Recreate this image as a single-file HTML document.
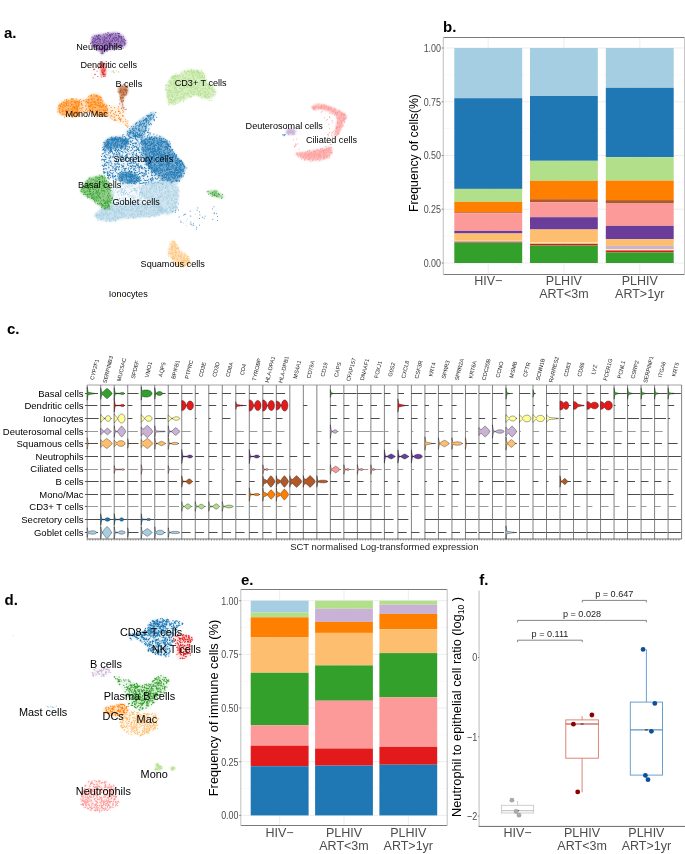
<!DOCTYPE html><html><head><meta charset="utf-8"><style>html,body{margin:0;padding:0;background:#fff;}svg{display:block;opacity:0.999;}text{font-family:"Liberation Sans",sans-serif;}</style></head><body>
<svg width="685" height="854" viewBox="0 0 685 854">
<defs><filter id="bl" x="-20%" y="-20%" width="140%" height="140%"><feGaussianBlur stdDeviation="0.9"/></filter></defs>
<rect width="685" height="854" fill="#fff"/>
<g>
<line x1="443.3" x2="684.6" y1="236.1" y2="236.1" stroke="#f3f3f3" stroke-width="0.6"/>
<line x1="443.3" x2="684.6" y1="182.4" y2="182.4" stroke="#f3f3f3" stroke-width="0.6"/>
<line x1="443.3" x2="684.6" y1="128.6" y2="128.6" stroke="#f3f3f3" stroke-width="0.6"/>
<line x1="443.3" x2="684.6" y1="74.9" y2="74.9" stroke="#f3f3f3" stroke-width="0.6"/>
<line x1="443.3" x2="684.6" y1="263.0" y2="263.0" stroke="#ebebeb" stroke-width="0.9"/>
<line x1="443.3" x2="684.6" y1="209.2" y2="209.2" stroke="#ebebeb" stroke-width="0.9"/>
<line x1="443.3" x2="684.6" y1="155.5" y2="155.5" stroke="#ebebeb" stroke-width="0.9"/>
<line x1="443.3" x2="684.6" y1="101.8" y2="101.8" stroke="#ebebeb" stroke-width="0.9"/>
<line x1="443.3" x2="684.6" y1="48.0" y2="48.0" stroke="#ebebeb" stroke-width="0.9"/>
<line x1="488.2" x2="488.2" y1="37.5" y2="274.5" stroke="#ebebeb" stroke-width="0.9"/>
<line x1="563.9" x2="563.9" y1="37.5" y2="274.5" stroke="#ebebeb" stroke-width="0.9"/>
<line x1="639.8" x2="639.8" y1="37.5" y2="274.5" stroke="#ebebeb" stroke-width="0.9"/>
<rect x="454.3" y="48" width="67.90" height="50.20" fill="#a6cee3"/>
<rect x="454.3" y="98.2" width="67.90" height="90.70" fill="#1f78b4"/>
<rect x="454.3" y="188.9" width="67.90" height="12.90" fill="#b2df8a"/>
<rect x="454.3" y="201.8" width="67.90" height="10.50" fill="#ff7f00"/>
<rect x="454.3" y="212.3" width="67.90" height="0.90" fill="#b15928"/>
<rect x="454.3" y="213.2" width="67.90" height="17.70" fill="#fb9a99"/>
<rect x="454.3" y="230.9" width="67.90" height="2.60" fill="#6a3d9a"/>
<rect x="454.3" y="233.5" width="67.90" height="6.90" fill="#fdbf6f"/>
<rect x="454.3" y="240.4" width="67.90" height="0.50" fill="#cab2d6"/>
<rect x="454.3" y="240.9" width="67.90" height="0.70" fill="#ffff99"/>
<rect x="454.3" y="241.6" width="67.90" height="1.00" fill="#e31a1c"/>
<rect x="454.3" y="242.6" width="67.90" height="20.40" fill="#33a02c"/>
<rect x="530" y="48" width="67.80" height="48.00" fill="#a6cee3"/>
<rect x="530" y="96" width="67.80" height="64.80" fill="#1f78b4"/>
<rect x="530" y="160.8" width="67.80" height="20.00" fill="#b2df8a"/>
<rect x="530" y="180.8" width="67.80" height="18.40" fill="#ff7f00"/>
<rect x="530" y="199.2" width="67.80" height="3.10" fill="#b15928"/>
<rect x="530" y="202.3" width="67.80" height="14.90" fill="#fb9a99"/>
<rect x="530" y="217.2" width="67.80" height="12.30" fill="#6a3d9a"/>
<rect x="530" y="229.5" width="67.80" height="13.00" fill="#fdbf6f"/>
<rect x="530" y="242.5" width="67.80" height="0.20" fill="#cab2d6"/>
<rect x="530" y="242.7" width="67.80" height="1.00" fill="#ffff99"/>
<rect x="530" y="243.7" width="67.80" height="1.70" fill="#e31a1c"/>
<rect x="530" y="245.4" width="67.80" height="17.60" fill="#33a02c"/>
<rect x="605.8" y="48" width="67.90" height="39.80" fill="#a6cee3"/>
<rect x="605.8" y="87.8" width="67.90" height="69.40" fill="#1f78b4"/>
<rect x="605.8" y="157.2" width="67.90" height="23.40" fill="#b2df8a"/>
<rect x="605.8" y="180.6" width="67.90" height="19.50" fill="#ff7f00"/>
<rect x="605.8" y="200.1" width="67.90" height="3.40" fill="#b15928"/>
<rect x="605.8" y="203.5" width="67.90" height="22.40" fill="#fb9a99"/>
<rect x="605.8" y="225.9" width="67.90" height="13.30" fill="#6a3d9a"/>
<rect x="605.8" y="239.2" width="67.90" height="6.70" fill="#fdbf6f"/>
<rect x="605.8" y="245.9" width="67.90" height="3.40" fill="#cab2d6"/>
<rect x="605.8" y="249.3" width="67.90" height="1.10" fill="#ffff99"/>
<rect x="605.8" y="250.4" width="67.90" height="2.00" fill="#e31a1c"/>
<rect x="605.8" y="252.4" width="67.90" height="10.60" fill="#33a02c"/>
<line x1="443.3" x2="684.6" y1="37.5" y2="37.5" stroke="#7a7a7a" stroke-width="1"/>
<line x1="443.3" x2="684.6" y1="274.5" y2="274.5" stroke="#7a7a7a" stroke-width="1"/>
<line x1="443.3" x2="443.3" y1="37.5" y2="274.5" stroke="#c4c4c4" stroke-width="1.1"/>
<line x1="684.6" x2="684.6" y1="37.5" y2="274.5" stroke="#c4c4c4" stroke-width="1.1"/>
<line x1="441.7" x2="443.3" y1="263.0" y2="263.0" stroke="#555" stroke-width="0.7"/>
<text x="0" y="0" font-size="9.4" text-anchor="end" fill="#4d4d4d" transform="translate(441.0 266.9) scale(0.95 1.2)">0.00</text>
<line x1="441.7" x2="443.3" y1="209.2" y2="209.2" stroke="#555" stroke-width="0.7"/>
<text x="0" y="0" font-size="9.4" text-anchor="end" fill="#4d4d4d" transform="translate(441.0 213.2) scale(0.95 1.2)">0.25</text>
<line x1="441.7" x2="443.3" y1="155.5" y2="155.5" stroke="#555" stroke-width="0.7"/>
<text x="0" y="0" font-size="9.4" text-anchor="end" fill="#4d4d4d" transform="translate(441.0 159.4) scale(0.95 1.2)">0.50</text>
<line x1="441.7" x2="443.3" y1="101.8" y2="101.8" stroke="#555" stroke-width="0.7"/>
<text x="0" y="0" font-size="9.4" text-anchor="end" fill="#4d4d4d" transform="translate(441.0 105.7) scale(0.95 1.2)">0.75</text>
<line x1="441.7" x2="443.3" y1="48.0" y2="48.0" stroke="#555" stroke-width="0.7"/>
<text x="0" y="0" font-size="9.4" text-anchor="end" fill="#4d4d4d" transform="translate(441.0 51.9) scale(0.95 1.2)">1.00</text>
<text x="488.2" y="284.8" font-size="12.5" text-anchor="middle" fill="#4d4d4d">HIV−</text>
<text x="563.9" y="284.8" font-size="12.5" text-anchor="middle" fill="#4d4d4d">PLHIV</text>
<text x="563.9" y="298.2" font-size="12.5" text-anchor="middle" fill="#4d4d4d">ART&lt;3m</text>
<text x="639.8" y="284.8" font-size="12.5" text-anchor="middle" fill="#4d4d4d">PLHIV</text>
<text x="639.8" y="298.2" font-size="12.5" text-anchor="middle" fill="#4d4d4d">ART&gt;1yr</text>
</g>
<text x="418.3" y="153" font-size="12.2" text-anchor="middle" fill="#000" transform="rotate(-90 418.3 153)">Frequency of cells(%)</text>
<text x="443" y="32" font-size="15" text-anchor="start" fill="#000" font-weight="bold">b.</text>
<g>
<line x1="240.8" x2="447.2" y1="788.6" y2="788.6" stroke="#f3f3f3" stroke-width="0.6"/>
<line x1="240.8" x2="447.2" y1="734.9" y2="734.9" stroke="#f3f3f3" stroke-width="0.6"/>
<line x1="240.8" x2="447.2" y1="681.2" y2="681.2" stroke="#f3f3f3" stroke-width="0.6"/>
<line x1="240.8" x2="447.2" y1="627.5" y2="627.5" stroke="#f3f3f3" stroke-width="0.6"/>
<line x1="240.8" x2="447.2" y1="815.4" y2="815.4" stroke="#ebebeb" stroke-width="0.9"/>
<line x1="240.8" x2="447.2" y1="761.7" y2="761.7" stroke="#ebebeb" stroke-width="0.9"/>
<line x1="240.8" x2="447.2" y1="708.0" y2="708.0" stroke="#ebebeb" stroke-width="0.9"/>
<line x1="240.8" x2="447.2" y1="654.4" y2="654.4" stroke="#ebebeb" stroke-width="0.9"/>
<line x1="240.8" x2="447.2" y1="600.7" y2="600.7" stroke="#ebebeb" stroke-width="0.9"/>
<line x1="279.6" x2="279.6" y1="589.5" y2="825.5" stroke="#ebebeb" stroke-width="0.9"/>
<line x1="344.0" x2="344.0" y1="589.5" y2="825.5" stroke="#ebebeb" stroke-width="0.9"/>
<line x1="408.3" x2="408.3" y1="589.5" y2="825.5" stroke="#ebebeb" stroke-width="0.9"/>
<rect x="250.7" y="600.7" width="57.90" height="11.70" fill="#a6cee3"/>
<rect x="250.7" y="612.4" width="57.90" height="4.90" fill="#b2df8a"/>
<rect x="250.7" y="617.3" width="57.90" height="20.20" fill="#ff7f00"/>
<rect x="250.7" y="637.5" width="57.90" height="35.30" fill="#fdbf6f"/>
<rect x="250.7" y="672.8" width="57.90" height="52.40" fill="#33a02c"/>
<rect x="250.7" y="725.2" width="57.90" height="20.50" fill="#fb9a99"/>
<rect x="250.7" y="745.7" width="57.90" height="20.50" fill="#e31a1c"/>
<rect x="250.7" y="766.2" width="57.90" height="49.20" fill="#1f78b4"/>
<rect x="315.1" y="600.7" width="57.80" height="8.00" fill="#b2df8a"/>
<rect x="315.1" y="608.7" width="57.80" height="13.20" fill="#cab2d6"/>
<rect x="315.1" y="621.9" width="57.80" height="11.00" fill="#ff7f00"/>
<rect x="315.1" y="632.9" width="57.80" height="32.50" fill="#fdbf6f"/>
<rect x="315.1" y="665.4" width="57.80" height="35.30" fill="#33a02c"/>
<rect x="315.1" y="700.7" width="57.80" height="47.80" fill="#fb9a99"/>
<rect x="315.1" y="748.5" width="57.80" height="17.10" fill="#e31a1c"/>
<rect x="315.1" y="765.6" width="57.80" height="49.80" fill="#1f78b4"/>
<rect x="379.4" y="600.7" width="57.80" height="4.00" fill="#b2df8a"/>
<rect x="379.4" y="604.7" width="57.80" height="9.20" fill="#cab2d6"/>
<rect x="379.4" y="613.9" width="57.80" height="15.30" fill="#ff7f00"/>
<rect x="379.4" y="629.2" width="57.80" height="23.90" fill="#fdbf6f"/>
<rect x="379.4" y="653.1" width="57.80" height="44.20" fill="#33a02c"/>
<rect x="379.4" y="697.3" width="57.80" height="49.60" fill="#fb9a99"/>
<rect x="379.4" y="746.9" width="57.80" height="17.80" fill="#e31a1c"/>
<rect x="379.4" y="764.7" width="57.80" height="50.70" fill="#1f78b4"/>
<line x1="240.8" x2="447.2" y1="589.5" y2="589.5" stroke="#7a7a7a" stroke-width="1"/>
<line x1="240.8" x2="447.2" y1="825.5" y2="825.5" stroke="#7a7a7a" stroke-width="1"/>
<line x1="240.8" x2="240.8" y1="589.5" y2="825.5" stroke="#c4c4c4" stroke-width="1.1"/>
<line x1="447.2" x2="447.2" y1="589.5" y2="825.5" stroke="#c4c4c4" stroke-width="1.1"/>
<line x1="239.20000000000002" x2="240.8" y1="815.4" y2="815.4" stroke="#555" stroke-width="0.7"/>
<text x="0" y="0" font-size="9.4" text-anchor="end" fill="#4d4d4d" transform="translate(238.5 819.3) scale(0.95 1.2)">0.00</text>
<line x1="239.20000000000002" x2="240.8" y1="761.7" y2="761.7" stroke="#555" stroke-width="0.7"/>
<text x="0" y="0" font-size="9.4" text-anchor="end" fill="#4d4d4d" transform="translate(238.5 765.6) scale(0.95 1.2)">0.25</text>
<line x1="239.20000000000002" x2="240.8" y1="708.0" y2="708.0" stroke="#555" stroke-width="0.7"/>
<text x="0" y="0" font-size="9.4" text-anchor="end" fill="#4d4d4d" transform="translate(238.5 711.9) scale(0.95 1.2)">0.50</text>
<line x1="239.20000000000002" x2="240.8" y1="654.4" y2="654.4" stroke="#555" stroke-width="0.7"/>
<text x="0" y="0" font-size="9.4" text-anchor="end" fill="#4d4d4d" transform="translate(238.5 658.3) scale(0.95 1.2)">0.75</text>
<line x1="239.20000000000002" x2="240.8" y1="600.7" y2="600.7" stroke="#555" stroke-width="0.7"/>
<text x="0" y="0" font-size="9.4" text-anchor="end" fill="#4d4d4d" transform="translate(238.5 604.6) scale(0.95 1.2)">1.00</text>
<text x="279.6" y="836.8" font-size="12.5" text-anchor="middle" fill="#4d4d4d">HIV−</text>
<text x="344.0" y="836.8" font-size="12.5" text-anchor="middle" fill="#4d4d4d">PLHIV</text>
<text x="344.0" y="850.2" font-size="12.5" text-anchor="middle" fill="#4d4d4d">ART&lt;3m</text>
<text x="408.3" y="836.8" font-size="12.5" text-anchor="middle" fill="#4d4d4d">PLHIV</text>
<text x="408.3" y="850.2" font-size="12.5" text-anchor="middle" fill="#4d4d4d">ART&gt;1yr</text>
</g>
<text x="217.7" y="708" font-size="12.8" text-anchor="middle" fill="#000" transform="rotate(-90 217.7 708)">Frequency of immune cells (%)</text>
<text x="241" y="584.5" font-size="15" text-anchor="start" fill="#000" font-weight="bold">e.</text>
<line x1="479.1" x2="479.1" y1="590.5" y2="826.4" stroke="#c2c2c2" stroke-width="1.1"/>
<line x1="478.6" x2="685" y1="826.4" y2="826.4" stroke="#6a6a6a" stroke-width="1"/>
<line x1="477.90000000000003" x2="479.1" y1="657.5" y2="657.5" stroke="#555" stroke-width="0.7"/>
<text x="0" y="0" font-size="9.5" text-anchor="end" fill="#4d4d4d" transform="translate(477.3 661.4) scale(0.95 1.2)">0</text>
<line x1="477.90000000000003" x2="479.1" y1="736.8" y2="736.8" stroke="#555" stroke-width="0.7"/>
<text x="0" y="0" font-size="9.5" text-anchor="end" fill="#4d4d4d" transform="translate(477.3 740.7) scale(0.95 1.2)">−1</text>
<line x1="477.90000000000003" x2="479.1" y1="816.1" y2="816.1" stroke="#555" stroke-width="0.7"/>
<text x="0" y="0" font-size="9.5" text-anchor="end" fill="#4d4d4d" transform="translate(477.3 820.0) scale(0.95 1.2)">−2</text>
<text x="517.6" y="836.9" font-size="12.5" text-anchor="middle" fill="#4d4d4d">HIV−</text>
<text x="582.1" y="836.9" font-size="12.5" text-anchor="middle" fill="#4d4d4d">PLHIV</text>
<text x="582.1" y="850.3" font-size="12.5" text-anchor="middle" fill="#4d4d4d">ART&lt;3m</text>
<text x="646.4" y="836.9" font-size="12.5" text-anchor="middle" fill="#4d4d4d">PLHIV</text>
<text x="646.4" y="850.3" font-size="12.5" text-anchor="middle" fill="#4d4d4d">ART&gt;1yr</text>
<line x1="517.6" x2="517.6" y1="801.0" y2="805.3" stroke="#c8c8c8" stroke-width="0.9"/>
<line x1="517.6" x2="517.6" y1="813.0" y2="813.0" stroke="#c8c8c8" stroke-width="0.9"/>
<rect x="501.4" y="805.3" width="32.2" height="7.7" fill="#fff" stroke="#c8c8c8" stroke-width="0.9"/>
<line x1="501.4" x2="533.6" y1="810.6" y2="810.6" stroke="#c8c8c8" stroke-width="1.4"/>
<line x1="516.1" x2="519.1" y1="810.6" y2="810.6" stroke="#222" stroke-width="0.9"/>
<line x1="582.1" x2="582.1" y1="716.2" y2="719.9" stroke="#d6776a" stroke-width="0.9"/>
<line x1="582.1" x2="582.1" y1="758.2" y2="792.3" stroke="#d6776a" stroke-width="0.9"/>
<rect x="565.8" y="719.9" width="32.6" height="38.3" fill="#fff" stroke="#d6776a" stroke-width="0.9"/>
<line x1="565.8" x2="598.4" y1="724.0" y2="724.0" stroke="#d6776a" stroke-width="1.4"/>
<line x1="580.6" x2="583.6" y1="724.0" y2="724.0" stroke="#222" stroke-width="0.9"/>
<line x1="646.4" x2="646.4" y1="649.4" y2="702.1" stroke="#5b95c8" stroke-width="0.9"/>
<line x1="646.4" x2="646.4" y1="775.1" y2="778.5" stroke="#5b95c8" stroke-width="0.9"/>
<rect x="630.3" y="702.1" width="32.2" height="73.0" fill="#fff" stroke="#5b95c8" stroke-width="0.9"/>
<line x1="630.3" x2="662.5" y1="729.9" y2="729.9" stroke="#5b95c8" stroke-width="1.4"/>
<line x1="644.9" x2="647.9" y1="729.9" y2="729.9" stroke="#222" stroke-width="0.9"/>
<circle cx="511.9" cy="800.2" r="2.4" fill="#a9a9a9"/>
<circle cx="516.2" cy="811.5" r="2.4" fill="#a9a9a9"/>
<circle cx="519.0" cy="815.2" r="2.4" fill="#a9a9a9"/>
<circle cx="573.4" cy="724.2" r="2.4" fill="#8b0000"/>
<circle cx="591.9" cy="715.0" r="2.4" fill="#8b0000"/>
<circle cx="577.7" cy="791.9" r="2.4" fill="#8b0000"/>
<circle cx="643.1" cy="649.4" r="2.4" fill="#0b4f9a"/>
<circle cx="654.8" cy="703.4" r="2.4" fill="#0b4f9a"/>
<circle cx="651.4" cy="731.3" r="2.4" fill="#0b4f9a"/>
<circle cx="645.4" cy="775.4" r="2.4" fill="#0b4f9a"/>
<circle cx="648.0" cy="779.7" r="2.4" fill="#0b4f9a"/>
<path d="M582.3 602.4V600.4H646.4V602.4" fill="none" stroke="#666" stroke-width="0.8"/>
<text x="614.3" y="597.4" font-size="9.1" text-anchor="middle" fill="#222">p = 0.647</text>
<path d="M517.6 622.4V620.4H646.4V622.4" fill="none" stroke="#666" stroke-width="0.8"/>
<text x="582.0" y="617.4" font-size="9.1" text-anchor="middle" fill="#222">p = 0.028</text>
<path d="M517.6 642.2V640.2H582.3V642.2" fill="none" stroke="#666" stroke-width="0.8"/>
<text x="550.0" y="637.2" font-size="9.1" text-anchor="middle" fill="#222">p = 0.111</text>
<text x="460.7" y="707" font-size="12.8" text-anchor="middle" fill="#000" transform="rotate(-90 460.7 707)">Neutrophil to epithelial cell ratio (log<tspan font-size="8.5" dy="3">10</tspan><tspan dy="-3"> )</tspan></text>
<text x="479.3" y="584.5" font-size="15" text-anchor="start" fill="#000" font-weight="bold">f.</text>
<text x="94.5" y="369.5" font-size="5.6" text-anchor="middle" dy="0.35em" fill="#222" transform="rotate(-76 94.5 369.5)">CYP2F1</text>
<text x="108.0" y="369.5" font-size="5.6" text-anchor="middle" dy="0.35em" fill="#222" transform="rotate(-76 108.0 369.5)">SERPINB3</text>
<text x="121.5" y="369.5" font-size="5.6" text-anchor="middle" dy="0.35em" fill="#222" transform="rotate(-76 121.5 369.5)">MUC5AC</text>
<text x="135.0" y="369.5" font-size="5.6" text-anchor="middle" dy="0.35em" fill="#222" transform="rotate(-76 135.0 369.5)">SPDEF</text>
<text x="148.5" y="369.5" font-size="5.6" text-anchor="middle" dy="0.35em" fill="#222" transform="rotate(-76 148.5 369.5)">VMO1</text>
<text x="162.0" y="369.5" font-size="5.6" text-anchor="middle" dy="0.35em" fill="#222" transform="rotate(-76 162.0 369.5)">AQP5</text>
<text x="175.5" y="369.5" font-size="5.6" text-anchor="middle" dy="0.35em" fill="#222" transform="rotate(-76 175.5 369.5)">BPIFB1</text>
<text x="189.0" y="369.5" font-size="5.6" text-anchor="middle" dy="0.35em" fill="#222" transform="rotate(-76 189.0 369.5)">PTPRC</text>
<text x="202.5" y="369.5" font-size="5.6" text-anchor="middle" dy="0.35em" fill="#222" transform="rotate(-76 202.5 369.5)">CD3E</text>
<text x="216.0" y="369.5" font-size="5.6" text-anchor="middle" dy="0.35em" fill="#222" transform="rotate(-76 216.0 369.5)">CD3D</text>
<text x="229.5" y="369.5" font-size="5.6" text-anchor="middle" dy="0.35em" fill="#222" transform="rotate(-76 229.5 369.5)">CD8A</text>
<text x="243.1" y="369.5" font-size="5.6" text-anchor="middle" dy="0.35em" fill="#222" transform="rotate(-76 243.1 369.5)">CD4</text>
<text x="256.6" y="369.5" font-size="5.6" text-anchor="middle" dy="0.35em" fill="#222" transform="rotate(-76 256.6 369.5)">TYROBP</text>
<text x="270.1" y="369.5" font-size="5.6" text-anchor="middle" dy="0.35em" fill="#222" transform="rotate(-76 270.1 369.5)">HLA-DPA1</text>
<text x="283.6" y="369.5" font-size="5.6" text-anchor="middle" dy="0.35em" fill="#222" transform="rotate(-76 283.6 369.5)">HLA-DPB1</text>
<text x="297.1" y="369.5" font-size="5.6" text-anchor="middle" dy="0.35em" fill="#222" transform="rotate(-76 297.1 369.5)">MS4A1</text>
<text x="310.6" y="369.5" font-size="5.6" text-anchor="middle" dy="0.35em" fill="#222" transform="rotate(-76 310.6 369.5)">CD79A</text>
<text x="324.1" y="369.5" font-size="5.6" text-anchor="middle" dy="0.35em" fill="#222" transform="rotate(-76 324.1 369.5)">CD19</text>
<text x="337.6" y="369.5" font-size="5.6" text-anchor="middle" dy="0.35em" fill="#222" transform="rotate(-76 337.6 369.5)">CAPS</text>
<text x="351.1" y="369.5" font-size="5.6" text-anchor="middle" dy="0.35em" fill="#222" transform="rotate(-76 351.1 369.5)">CFAP157</text>
<text x="364.6" y="369.5" font-size="5.6" text-anchor="middle" dy="0.35em" fill="#222" transform="rotate(-76 364.6 369.5)">DNAAF1</text>
<text x="378.1" y="369.5" font-size="5.6" text-anchor="middle" dy="0.35em" fill="#222" transform="rotate(-76 378.1 369.5)">FOXJ1</text>
<text x="391.7" y="369.5" font-size="5.6" text-anchor="middle" dy="0.35em" fill="#222" transform="rotate(-76 391.7 369.5)">G0S2</text>
<text x="405.2" y="369.5" font-size="5.6" text-anchor="middle" dy="0.35em" fill="#222" transform="rotate(-76 405.2 369.5)">CXCL8</text>
<text x="418.7" y="369.5" font-size="5.6" text-anchor="middle" dy="0.35em" fill="#222" transform="rotate(-76 418.7 369.5)">CSF3R</text>
<text x="432.2" y="369.5" font-size="5.6" text-anchor="middle" dy="0.35em" fill="#222" transform="rotate(-76 432.2 369.5)">KRT4</text>
<text x="445.7" y="369.5" font-size="5.6" text-anchor="middle" dy="0.35em" fill="#222" transform="rotate(-76 445.7 369.5)">SPRR3</text>
<text x="459.2" y="369.5" font-size="5.6" text-anchor="middle" dy="0.35em" fill="#222" transform="rotate(-76 459.2 369.5)">SPRR2A</text>
<text x="472.7" y="369.5" font-size="5.6" text-anchor="middle" dy="0.35em" fill="#222" transform="rotate(-76 472.7 369.5)">KRT6A</text>
<text x="486.2" y="369.5" font-size="5.6" text-anchor="middle" dy="0.35em" fill="#222" transform="rotate(-76 486.2 369.5)">CDC20B</text>
<text x="499.7" y="369.5" font-size="5.6" text-anchor="middle" dy="0.35em" fill="#222" transform="rotate(-76 499.7 369.5)">CCNO</text>
<text x="513.2" y="369.5" font-size="5.6" text-anchor="middle" dy="0.35em" fill="#222" transform="rotate(-76 513.2 369.5)">MSMB</text>
<text x="526.7" y="369.5" font-size="5.6" text-anchor="middle" dy="0.35em" fill="#222" transform="rotate(-76 526.7 369.5)">CFTR</text>
<text x="540.3" y="369.5" font-size="5.6" text-anchor="middle" dy="0.35em" fill="#222" transform="rotate(-76 540.3 369.5)">SCNN1B</text>
<text x="553.8" y="369.5" font-size="5.6" text-anchor="middle" dy="0.35em" fill="#222" transform="rotate(-76 553.8 369.5)">RARRES2</text>
<text x="567.3" y="369.5" font-size="5.6" text-anchor="middle" dy="0.35em" fill="#222" transform="rotate(-76 567.3 369.5)">CD83</text>
<text x="580.8" y="369.5" font-size="5.6" text-anchor="middle" dy="0.35em" fill="#222" transform="rotate(-76 580.8 369.5)">CD86</text>
<text x="594.3" y="369.5" font-size="5.6" text-anchor="middle" dy="0.35em" fill="#222" transform="rotate(-76 594.3 369.5)">LYZ</text>
<text x="607.8" y="369.5" font-size="5.6" text-anchor="middle" dy="0.35em" fill="#222" transform="rotate(-76 607.8 369.5)">FCER1G</text>
<text x="621.3" y="369.5" font-size="5.6" text-anchor="middle" dy="0.35em" fill="#222" transform="rotate(-76 621.3 369.5)">PCNL1</text>
<text x="634.8" y="369.5" font-size="5.6" text-anchor="middle" dy="0.35em" fill="#222" transform="rotate(-76 634.8 369.5)">CSRP2</text>
<text x="648.3" y="369.5" font-size="5.6" text-anchor="middle" dy="0.35em" fill="#222" transform="rotate(-76 648.3 369.5)">SERPINF1</text>
<text x="661.8" y="369.5" font-size="5.6" text-anchor="middle" dy="0.35em" fill="#222" transform="rotate(-76 661.8 369.5)">ITGA6</text>
<text x="675.3" y="369.5" font-size="5.6" text-anchor="middle" dy="0.35em" fill="#222" transform="rotate(-76 675.3 369.5)">KRT5</text>
<text x="83.6" y="396.5" font-size="9.5" text-anchor="end" fill="#000">Basal cells</text>
<text x="83.6" y="409.2" font-size="9.5" text-anchor="end" fill="#000">Dendritic cells</text>
<text x="83.6" y="421.8" font-size="9.5" text-anchor="end" fill="#000">Ionocytes</text>
<text x="83.6" y="434.5" font-size="9.5" text-anchor="end" fill="#000">Deuterosomal cells</text>
<text x="83.6" y="447.1" font-size="9.5" text-anchor="end" fill="#000">Squamous cells</text>
<text x="83.6" y="459.8" font-size="9.5" text-anchor="end" fill="#000">Neutrophils</text>
<text x="83.6" y="472.4" font-size="9.5" text-anchor="end" fill="#000">Ciliated cells</text>
<text x="83.6" y="485.1" font-size="9.5" text-anchor="end" fill="#000">B cells</text>
<text x="83.6" y="497.7" font-size="9.5" text-anchor="end" fill="#000">Mono/Mac</text>
<text x="83.6" y="510.4" font-size="9.5" text-anchor="end" fill="#000">CD3+ T cells</text>
<text x="83.6" y="523.0" font-size="9.5" text-anchor="end" fill="#000">Secretory cells</text>
<text x="83.6" y="535.7" font-size="9.5" text-anchor="end" fill="#000">Goblet cells</text>
<path d="M84.9 393.5H87.2M84.9 405.5H87.2M84.9 418.5H87.2M84.9 431.5H87.2M84.9 443.5H87.2M84.9 456.5H87.2M84.9 469.5H87.2M84.9 481.5H87.2M84.9 494.5H87.2M84.9 506.5H87.2M84.9 519.5H87.2M84.9 532.5H87.2" stroke="#333" stroke-width="0.8"/>
<line x1="87.2" x2="681.6" y1="385.0" y2="385.0" stroke="#8a8a8a" stroke-width="0.8"/>
<line x1="87.20" x2="87.20" y1="385.0" y2="539.0" stroke="#5a5a5a" stroke-width="0.75"/>
<line x1="100.71" x2="100.71" y1="385.0" y2="539.0" stroke="#5a5a5a" stroke-width="0.75"/>
<line x1="114.22" x2="114.22" y1="385.0" y2="539.0" stroke="#5a5a5a" stroke-width="0.75"/>
<line x1="127.73" x2="127.73" y1="385.0" y2="539.0" stroke="#5a5a5a" stroke-width="0.75"/>
<line x1="141.24" x2="141.24" y1="385.0" y2="539.0" stroke="#5a5a5a" stroke-width="0.75"/>
<line x1="154.75" x2="154.75" y1="385.0" y2="539.0" stroke="#5a5a5a" stroke-width="0.75"/>
<line x1="168.25" x2="168.25" y1="385.0" y2="539.0" stroke="#5a5a5a" stroke-width="0.75"/>
<line x1="181.76" x2="181.76" y1="385.0" y2="539.0" stroke="#5a5a5a" stroke-width="0.75"/>
<line x1="195.27" x2="195.27" y1="385.0" y2="539.0" stroke="#5a5a5a" stroke-width="0.75"/>
<line x1="208.78" x2="208.78" y1="385.0" y2="539.0" stroke="#5a5a5a" stroke-width="0.75"/>
<line x1="222.29" x2="222.29" y1="385.0" y2="539.0" stroke="#5a5a5a" stroke-width="0.75"/>
<line x1="235.80" x2="235.80" y1="385.0" y2="539.0" stroke="#5a5a5a" stroke-width="0.75"/>
<line x1="249.31" x2="249.31" y1="385.0" y2="539.0" stroke="#5a5a5a" stroke-width="0.75"/>
<line x1="262.82" x2="262.82" y1="385.0" y2="539.0" stroke="#5a5a5a" stroke-width="0.75"/>
<line x1="276.33" x2="276.33" y1="385.0" y2="539.0" stroke="#5a5a5a" stroke-width="0.75"/>
<line x1="289.83" x2="289.83" y1="385.0" y2="539.0" stroke="#5a5a5a" stroke-width="0.75"/>
<line x1="303.34" x2="303.34" y1="385.0" y2="539.0" stroke="#5a5a5a" stroke-width="0.75"/>
<line x1="316.85" x2="316.85" y1="385.0" y2="539.0" stroke="#5a5a5a" stroke-width="0.75"/>
<line x1="330.36" x2="330.36" y1="385.0" y2="539.0" stroke="#5a5a5a" stroke-width="0.75"/>
<line x1="343.87" x2="343.87" y1="385.0" y2="539.0" stroke="#5a5a5a" stroke-width="0.75"/>
<line x1="357.38" x2="357.38" y1="385.0" y2="539.0" stroke="#5a5a5a" stroke-width="0.75"/>
<line x1="370.89" x2="370.89" y1="385.0" y2="539.0" stroke="#5a5a5a" stroke-width="0.75"/>
<line x1="384.40" x2="384.40" y1="385.0" y2="539.0" stroke="#5a5a5a" stroke-width="0.75"/>
<line x1="397.91" x2="397.91" y1="385.0" y2="539.0" stroke="#5a5a5a" stroke-width="0.75"/>
<line x1="411.42" x2="411.42" y1="385.0" y2="539.0" stroke="#5a5a5a" stroke-width="0.75"/>
<line x1="424.93" x2="424.93" y1="385.0" y2="539.0" stroke="#5a5a5a" stroke-width="0.75"/>
<line x1="438.43" x2="438.43" y1="385.0" y2="539.0" stroke="#5a5a5a" stroke-width="0.75"/>
<line x1="451.94" x2="451.94" y1="385.0" y2="539.0" stroke="#5a5a5a" stroke-width="0.75"/>
<line x1="465.45" x2="465.45" y1="385.0" y2="539.0" stroke="#5a5a5a" stroke-width="0.75"/>
<line x1="478.96" x2="478.96" y1="385.0" y2="539.0" stroke="#5a5a5a" stroke-width="0.75"/>
<line x1="492.47" x2="492.47" y1="385.0" y2="539.0" stroke="#5a5a5a" stroke-width="0.75"/>
<line x1="505.98" x2="505.98" y1="385.0" y2="539.0" stroke="#5a5a5a" stroke-width="0.75"/>
<line x1="519.49" x2="519.49" y1="385.0" y2="539.0" stroke="#5a5a5a" stroke-width="0.75"/>
<line x1="533.00" x2="533.00" y1="385.0" y2="539.0" stroke="#5a5a5a" stroke-width="0.75"/>
<line x1="546.51" x2="546.51" y1="385.0" y2="539.0" stroke="#5a5a5a" stroke-width="0.75"/>
<line x1="560.01" x2="560.01" y1="385.0" y2="539.0" stroke="#5a5a5a" stroke-width="0.75"/>
<line x1="573.52" x2="573.52" y1="385.0" y2="539.0" stroke="#5a5a5a" stroke-width="0.75"/>
<line x1="587.03" x2="587.03" y1="385.0" y2="539.0" stroke="#5a5a5a" stroke-width="0.75"/>
<line x1="600.54" x2="600.54" y1="385.0" y2="539.0" stroke="#5a5a5a" stroke-width="0.75"/>
<line x1="614.05" x2="614.05" y1="385.0" y2="539.0" stroke="#5a5a5a" stroke-width="0.75"/>
<line x1="627.56" x2="627.56" y1="385.0" y2="539.0" stroke="#5a5a5a" stroke-width="0.75"/>
<line x1="641.07" x2="641.07" y1="385.0" y2="539.0" stroke="#5a5a5a" stroke-width="0.75"/>
<line x1="654.58" x2="654.58" y1="385.0" y2="539.0" stroke="#5a5a5a" stroke-width="0.75"/>
<line x1="668.09" x2="668.09" y1="385.0" y2="539.0" stroke="#5a5a5a" stroke-width="0.75"/>
<line x1="681.60" x2="681.60" y1="385.0" y2="539.0" stroke="#5a5a5a" stroke-width="0.75"/>
<line x1="87.2" x2="681.6" y1="539.0" y2="539.0" stroke="#444" stroke-width="0.8"/>
<path d="M87.2 539.0v1.8M89.9 539.0v1.8M92.6 539.0v1.8M95.3 539.0v1.8M98.0 539.0v1.8M100.7 539.0v1.8M103.4 539.0v1.8M106.1 539.0v1.8M108.8 539.0v1.8M111.5 539.0v1.8M114.2 539.0v1.8M116.9 539.0v1.8M119.6 539.0v1.8M122.3 539.0v1.8M125.0 539.0v1.8M127.7 539.0v1.8M130.4 539.0v1.8M133.1 539.0v1.8M135.8 539.0v1.8M138.5 539.0v1.8M141.2 539.0v1.8M143.9 539.0v1.8M146.6 539.0v1.8M149.3 539.0v1.8M152.0 539.0v1.8M154.7 539.0v1.8M157.4 539.0v1.8M160.1 539.0v1.8M162.9 539.0v1.8M165.6 539.0v1.8M168.3 539.0v1.8M171.0 539.0v1.8M173.7 539.0v1.8M176.4 539.0v1.8M179.1 539.0v1.8M181.8 539.0v1.8M184.5 539.0v1.8M187.2 539.0v1.8M189.9 539.0v1.8M192.6 539.0v1.8M195.3 539.0v1.8M198.0 539.0v1.8M200.7 539.0v1.8M203.4 539.0v1.8M206.1 539.0v1.8M208.8 539.0v1.8M211.5 539.0v1.8M214.2 539.0v1.8M216.9 539.0v1.8M219.6 539.0v1.8M222.3 539.0v1.8M225.0 539.0v1.8M227.7 539.0v1.8M230.4 539.0v1.8M233.1 539.0v1.8M235.8 539.0v1.8M238.5 539.0v1.8M241.2 539.0v1.8M243.9 539.0v1.8M246.6 539.0v1.8M249.3 539.0v1.8M252.0 539.0v1.8M254.7 539.0v1.8M257.4 539.0v1.8M260.1 539.0v1.8M262.8 539.0v1.8M265.5 539.0v1.8M268.2 539.0v1.8M270.9 539.0v1.8M273.6 539.0v1.8M276.3 539.0v1.8M279.0 539.0v1.8M281.7 539.0v1.8M284.4 539.0v1.8M287.1 539.0v1.8M289.8 539.0v1.8M292.5 539.0v1.8M295.2 539.0v1.8M297.9 539.0v1.8M300.6 539.0v1.8M303.3 539.0v1.8M306.0 539.0v1.8M308.7 539.0v1.8M311.4 539.0v1.8M314.2 539.0v1.8M316.9 539.0v1.8M319.6 539.0v1.8M322.3 539.0v1.8M325.0 539.0v1.8M327.7 539.0v1.8M330.4 539.0v1.8M333.1 539.0v1.8M335.8 539.0v1.8M338.5 539.0v1.8M341.2 539.0v1.8M343.9 539.0v1.8M346.6 539.0v1.8M349.3 539.0v1.8M352.0 539.0v1.8M354.7 539.0v1.8M357.4 539.0v1.8M360.1 539.0v1.8M362.8 539.0v1.8M365.5 539.0v1.8M368.2 539.0v1.8M370.9 539.0v1.8M373.6 539.0v1.8M376.3 539.0v1.8M379.0 539.0v1.8M381.7 539.0v1.8M384.4 539.0v1.8M387.1 539.0v1.8M389.8 539.0v1.8M392.5 539.0v1.8M395.2 539.0v1.8M397.9 539.0v1.8M400.6 539.0v1.8M403.3 539.0v1.8M406.0 539.0v1.8M408.7 539.0v1.8M411.4 539.0v1.8M414.1 539.0v1.8M416.8 539.0v1.8M419.5 539.0v1.8M422.2 539.0v1.8M424.9 539.0v1.8M427.6 539.0v1.8M430.3 539.0v1.8M433.0 539.0v1.8M435.7 539.0v1.8M438.4 539.0v1.8M441.1 539.0v1.8M443.8 539.0v1.8M446.5 539.0v1.8M449.2 539.0v1.8M451.9 539.0v1.8M454.6 539.0v1.8M457.3 539.0v1.8M460.0 539.0v1.8M462.8 539.0v1.8M465.5 539.0v1.8M468.2 539.0v1.8M470.9 539.0v1.8M473.6 539.0v1.8M476.3 539.0v1.8M479.0 539.0v1.8M481.7 539.0v1.8M484.4 539.0v1.8M487.1 539.0v1.8M489.8 539.0v1.8M492.5 539.0v1.8M495.2 539.0v1.8M497.9 539.0v1.8M500.6 539.0v1.8M503.3 539.0v1.8M506.0 539.0v1.8M508.7 539.0v1.8M511.4 539.0v1.8M514.1 539.0v1.8M516.8 539.0v1.8M519.5 539.0v1.8M522.2 539.0v1.8M524.9 539.0v1.8M527.6 539.0v1.8M530.3 539.0v1.8M533.0 539.0v1.8M535.7 539.0v1.8M538.4 539.0v1.8M541.1 539.0v1.8M543.8 539.0v1.8M546.5 539.0v1.8M549.2 539.0v1.8M551.9 539.0v1.8M554.6 539.0v1.8M557.3 539.0v1.8M560.0 539.0v1.8M562.7 539.0v1.8M565.4 539.0v1.8M568.1 539.0v1.8M570.8 539.0v1.8M573.5 539.0v1.8M576.2 539.0v1.8M578.9 539.0v1.8M581.6 539.0v1.8M584.3 539.0v1.8M587.0 539.0v1.8M589.7 539.0v1.8M592.4 539.0v1.8M595.1 539.0v1.8M597.8 539.0v1.8M600.5 539.0v1.8M603.2 539.0v1.8M605.9 539.0v1.8M608.6 539.0v1.8M611.3 539.0v1.8M614.1 539.0v1.8M616.8 539.0v1.8M619.5 539.0v1.8M622.2 539.0v1.8M624.9 539.0v1.8M627.6 539.0v1.8M630.3 539.0v1.8M633.0 539.0v1.8M635.7 539.0v1.8M638.4 539.0v1.8M641.1 539.0v1.8M643.8 539.0v1.8M646.5 539.0v1.8M649.2 539.0v1.8M651.9 539.0v1.8M654.6 539.0v1.8M657.3 539.0v1.8M660.0 539.0v1.8M662.7 539.0v1.8M665.4 539.0v1.8M668.1 539.0v1.8M670.8 539.0v1.8M673.5 539.0v1.8M676.2 539.0v1.8M678.9 539.0v1.8" stroke="#555" stroke-width="0.45"/>
<text x="384.3" y="549.5" font-size="9.47" text-anchor="middle" fill="#1a1a1a">SCT normalised Log-transformed expression</text>
<path d="M87.2 393.5h10.8M100.7 393.5h10.8M114.2 393.5h10.8M127.7 393.5h10.8M141.2 393.5h10.8M154.7 393.5h10.8M168.3 393.5h10.8M181.8 393.5h10.8M195.3 393.5h3.4M208.8 393.5h8.1M222.3 393.5h8.8M235.8 393.5h9.5M249.3 393.5h7.4M262.8 393.5h10.8M276.3 393.5h8.8M330.4 393.5h12.8M343.9 393.5h12.8M357.4 393.5h12.8M370.9 393.5h10.8M384.4 393.5h6.1M397.9 393.5h6.1M411.4 393.5h10.8M424.9 393.5h11.5M438.4 393.5h11.5M451.9 393.5h11.5M465.5 393.5h11.5M479.0 393.5h11.5M492.5 393.5h10.8M506.0 393.5h6.8M519.5 393.5h10.8M533.0 393.5h2.7M546.5 393.5h12.2M560.0 393.5h8.1M573.5 393.5h8.1M587.0 393.5h7.4M600.5 393.5h8.1M614.1 393.5h12.8M627.6 393.5h12.8M641.1 393.5h12.8M654.6 393.5h12.8M668.1 393.5h12.8" stroke="#383838" stroke-width="0.9" fill="none"/>
<path d="M87.20 386.84 L87.49 388.61 L87.77 390.24 L88.06 391.70 L88.34 392.23 L88.63 392.27 L88.91 392.32 L89.20 392.37 L89.49 392.42 L89.77 392.46 L90.06 392.51 L90.34 392.56 L90.63 392.61 L90.91 392.66 L91.20 392.72 L91.49 392.77 L91.77 392.82 L92.06 392.88 L92.34 392.93 L92.63 392.99 L92.92 393.05 L93.20 393.11 L93.49 393.17 L93.77 393.20 L94.06 393.20 L94.34 393.20 L94.63 393.35 L94.63 393.65 L94.34 393.80 L94.06 393.80 L93.77 393.80 L93.49 393.83 L93.20 393.89 L92.92 393.95 L92.63 394.01 L92.34 394.07 L92.06 394.12 L91.77 394.18 L91.49 394.23 L91.20 394.28 L90.91 394.34 L90.63 394.39 L90.34 394.44 L90.06 394.49 L89.77 394.54 L89.49 394.58 L89.20 394.63 L88.91 394.68 L88.63 394.73 L88.34 394.77 L88.06 395.30 L87.77 396.76 L87.49 398.39 L87.20 400.16Z" fill="#33a02c" stroke="#1a1a1a" stroke-width="0.4"/>
<path d="M100.71 387.79 L101.15 390.06 L101.58 391.46 L102.02 391.81 L102.45 392.15 L102.89 392.13 L103.33 391.62 L103.76 391.15 L104.20 390.71 L104.64 390.30 L105.07 389.90 L105.51 389.51 L105.95 389.14 L106.38 388.78 L106.82 388.43 L107.26 388.39 L107.69 388.75 L108.13 389.11 L108.57 389.48 L109.00 389.86 L109.44 390.26 L109.87 390.67 L110.31 391.11 L110.75 391.57 L111.18 392.08 L111.62 392.65 L112.06 393.35 L112.06 393.65 L111.62 394.35 L111.18 394.92 L110.75 395.43 L110.31 395.89 L109.87 396.33 L109.44 396.74 L109.00 397.14 L108.57 397.52 L108.13 397.89 L107.69 398.25 L107.26 398.61 L106.82 398.57 L106.38 398.22 L105.95 397.86 L105.51 397.49 L105.07 397.10 L104.64 396.70 L104.20 396.29 L103.76 395.85 L103.33 395.38 L102.89 394.87 L102.45 394.85 L102.02 395.19 L101.58 395.54 L101.15 396.94 L100.71 399.21Z" fill="#33a02c" stroke="#1a1a1a" stroke-width="0.4"/>
<path d="M114.22 387.79 L114.60 389.80 L114.99 391.59 L115.37 393.03 L115.76 393.20 L116.14 393.20 L116.52 393.20 L116.91 393.20 L117.29 393.20 L117.68 393.20 L118.06 393.20 L118.45 393.20 L118.83 393.20 L119.22 393.20 L119.60 393.20 L119.99 393.20 L120.37 393.01 L120.75 392.71 L121.14 392.54 L121.52 392.44 L121.91 392.39 L122.29 392.38 L122.68 392.41 L123.06 392.49 L123.45 392.62 L123.83 392.84 L124.21 393.35 L124.21 393.65 L123.83 394.16 L123.45 394.38 L123.06 394.51 L122.68 394.59 L122.29 394.62 L121.91 394.61 L121.52 394.56 L121.14 394.46 L120.75 394.29 L120.37 393.99 L119.99 393.80 L119.60 393.80 L119.22 393.80 L118.83 393.80 L118.45 393.80 L118.06 393.80 L117.68 393.80 L117.29 393.80 L116.91 393.80 L116.52 393.80 L116.14 393.80 L115.76 393.80 L115.37 393.97 L114.99 395.41 L114.60 397.20 L114.22 399.21Z" fill="#33a02c" stroke="#1a1a1a" stroke-width="0.4"/>
<path d="M141.24 386.84 L141.65 389.37 L142.07 390.87 L142.48 390.66 L142.90 390.48 L143.31 390.33 L143.73 390.21 L144.15 390.12 L144.56 390.04 L144.98 389.98 L145.39 389.94 L145.81 389.92 L146.22 389.92 L146.64 389.93 L147.06 389.96 L147.47 390.01 L147.89 390.08 L148.30 390.17 L148.72 390.28 L149.13 390.42 L149.55 390.58 L149.96 390.78 L150.38 391.01 L150.80 391.30 L151.21 391.67 L151.63 392.18 L152.04 393.35 L152.04 393.65 L151.63 394.82 L151.21 395.33 L150.80 395.70 L150.38 395.99 L149.96 396.22 L149.55 396.42 L149.13 396.58 L148.72 396.72 L148.30 396.83 L147.89 396.92 L147.47 396.99 L147.06 397.04 L146.64 397.07 L146.22 397.08 L145.81 397.08 L145.39 397.06 L144.98 397.02 L144.56 396.96 L144.15 396.88 L143.73 396.79 L143.31 396.67 L142.90 396.52 L142.48 396.34 L142.07 396.13 L141.65 397.63 L141.24 400.16Z" fill="#33a02c" stroke="#1a1a1a" stroke-width="0.4"/>
<path d="M154.75 387.79 L155.04 389.36 L155.34 390.80 L155.63 392.08 L155.93 393.13 L156.23 393.20 L156.52 393.20 L156.82 392.59 L157.11 392.27 L157.41 392.05 L157.71 391.88 L158.00 391.75 L158.30 391.65 L158.60 391.57 L158.89 391.52 L159.19 391.49 L159.48 391.48 L159.78 391.49 L160.08 391.53 L160.37 391.58 L160.67 391.65 L160.96 391.76 L161.26 391.89 L161.56 392.06 L161.85 392.29 L162.15 392.62 L162.45 393.35 L162.45 393.65 L162.15 394.38 L161.85 394.71 L161.56 394.94 L161.26 395.11 L160.96 395.24 L160.67 395.35 L160.37 395.42 L160.08 395.47 L159.78 395.51 L159.48 395.52 L159.19 395.51 L158.89 395.48 L158.60 395.43 L158.30 395.35 L158.00 395.25 L157.71 395.12 L157.41 394.95 L157.11 394.73 L156.82 394.41 L156.52 393.80 L156.23 393.80 L155.93 393.87 L155.63 394.92 L155.34 396.20 L155.04 397.64 L154.75 399.21Z" fill="#33a02c" stroke="#1a1a1a" stroke-width="0.4"/>
<path d="M330.36 389.69 L330.47 390.07 L330.57 390.44 L330.67 390.79 L330.78 391.14 L330.88 391.47 L330.99 391.80 L331.09 392.11 L331.19 392.40 L331.30 392.54 L331.40 392.59 L331.51 392.63 L331.61 392.68 L331.71 392.73 L331.82 392.78 L331.92 392.82 L332.02 392.87 L332.13 392.92 L332.23 392.98 L332.34 393.03 L332.44 393.08 L332.54 393.14 L332.65 393.20 L332.75 393.20 L332.86 393.20 L332.96 393.20 L333.06 393.35 L333.06 393.65 L332.96 393.80 L332.86 393.80 L332.75 393.80 L332.65 393.80 L332.54 393.86 L332.44 393.92 L332.34 393.97 L332.23 394.02 L332.13 394.08 L332.02 394.13 L331.92 394.18 L331.82 394.22 L331.71 394.27 L331.61 394.32 L331.51 394.37 L331.40 394.41 L331.30 394.46 L331.19 394.60 L331.09 394.89 L330.99 395.20 L330.88 395.53 L330.78 395.86 L330.67 396.21 L330.57 396.56 L330.47 396.93 L330.36 397.31Z" fill="#33a02c" stroke="#1a1a1a" stroke-width="0.4"/>
<path d="M505.98 387.79 L506.11 388.49 L506.24 389.17 L506.37 389.83 L506.50 390.46 L506.63 391.06 L506.76 391.63 L506.89 392.16 L507.02 392.65 L507.15 392.70 L507.28 392.74 L507.41 392.78 L507.54 392.82 L507.67 392.86 L507.80 392.90 L507.93 392.94 L508.06 392.98 L508.19 393.02 L508.32 393.06 L508.45 393.11 L508.58 393.15 L508.71 393.20 L508.84 393.20 L508.97 393.20 L509.10 393.20 L509.23 393.20 L509.36 393.35 L509.36 393.65 L509.23 393.80 L509.10 393.80 L508.97 393.80 L508.84 393.80 L508.71 393.80 L508.58 393.85 L508.45 393.89 L508.32 393.94 L508.19 393.98 L508.06 394.02 L507.93 394.06 L507.80 394.10 L507.67 394.14 L507.54 394.18 L507.41 394.22 L507.28 394.26 L507.15 394.30 L507.02 394.35 L506.89 394.84 L506.76 395.37 L506.63 395.94 L506.50 396.54 L506.37 397.17 L506.24 397.83 L506.11 398.51 L505.98 399.21Z" fill="#33a02c" stroke="#1a1a1a" stroke-width="0.4"/>
<path d="M533.00 389.69 L533.05 389.88 L533.10 390.07 L533.15 390.25 L533.20 390.44 L533.26 390.62 L533.31 390.79 L533.36 390.97 L533.41 391.14 L533.46 391.31 L533.52 391.47 L533.57 391.64 L533.62 391.80 L533.67 391.95 L533.72 392.11 L533.78 392.26 L533.83 392.40 L533.88 392.54 L533.93 392.68 L533.98 392.81 L534.04 392.93 L534.09 393.05 L534.14 393.17 L534.19 393.20 L534.24 393.20 L534.30 393.20 L534.35 393.35 L534.35 393.65 L534.30 393.80 L534.24 393.80 L534.19 393.80 L534.14 393.83 L534.09 393.95 L534.04 394.07 L533.98 394.19 L533.93 394.32 L533.88 394.46 L533.83 394.60 L533.78 394.74 L533.72 394.89 L533.67 395.05 L533.62 395.20 L533.57 395.36 L533.52 395.53 L533.46 395.69 L533.41 395.86 L533.36 396.03 L533.31 396.21 L533.26 396.38 L533.20 396.56 L533.15 396.75 L533.10 396.93 L533.05 397.12 L533.00 397.31Z" fill="#33a02c" stroke="#1a1a1a" stroke-width="0.4"/>
<path d="M614.05 387.79 L614.23 388.77 L614.41 389.70 L614.60 390.58 L614.78 391.41 L614.96 392.16 L615.14 392.32 L615.32 392.37 L615.51 392.42 L615.69 392.46 L615.87 392.51 L616.05 392.56 L616.23 392.61 L616.42 392.66 L616.60 392.72 L616.78 392.77 L616.96 392.82 L617.14 392.88 L617.32 392.93 L617.51 392.99 L617.69 393.05 L617.87 393.11 L618.05 393.17 L618.23 393.20 L618.42 393.20 L618.60 393.20 L618.78 393.35 L618.78 393.65 L618.60 393.80 L618.42 393.80 L618.23 393.80 L618.05 393.83 L617.87 393.89 L617.69 393.95 L617.51 394.01 L617.32 394.07 L617.14 394.12 L616.96 394.18 L616.78 394.23 L616.60 394.28 L616.42 394.34 L616.23 394.39 L616.05 394.44 L615.87 394.49 L615.69 394.54 L615.51 394.58 L615.32 394.63 L615.14 394.68 L614.96 394.84 L614.78 395.59 L614.60 396.42 L614.41 397.30 L614.23 398.23 L614.05 399.21Z" fill="#33a02c" stroke="#1a1a1a" stroke-width="0.4"/>
<path d="M627.56 387.79 L627.74 388.77 L627.92 389.70 L628.11 390.58 L628.29 391.41 L628.47 392.16 L628.65 392.32 L628.83 392.37 L629.01 392.42 L629.20 392.46 L629.38 392.51 L629.56 392.56 L629.74 392.61 L629.92 392.66 L630.11 392.72 L630.29 392.77 L630.47 392.82 L630.65 392.88 L630.83 392.93 L631.02 392.99 L631.20 393.05 L631.38 393.11 L631.56 393.17 L631.74 393.20 L631.92 393.20 L632.11 393.20 L632.29 393.35 L632.29 393.65 L632.11 393.80 L631.92 393.80 L631.74 393.80 L631.56 393.83 L631.38 393.89 L631.20 393.95 L631.02 394.01 L630.83 394.07 L630.65 394.12 L630.47 394.18 L630.29 394.23 L630.11 394.28 L629.92 394.34 L629.74 394.39 L629.56 394.44 L629.38 394.49 L629.20 394.54 L629.01 394.58 L628.83 394.63 L628.65 394.68 L628.47 394.84 L628.29 395.59 L628.11 396.42 L627.92 397.30 L627.74 398.23 L627.56 399.21Z" fill="#33a02c" stroke="#1a1a1a" stroke-width="0.4"/>
<path d="M641.07 387.79 L641.24 388.71 L641.41 389.60 L641.58 390.44 L641.75 391.23 L641.93 391.96 L642.10 392.41 L642.27 392.45 L642.44 392.50 L642.61 392.54 L642.78 392.59 L642.96 392.63 L643.13 392.68 L643.30 392.73 L643.47 392.78 L643.64 392.82 L643.81 392.87 L643.98 392.92 L644.16 392.98 L644.33 393.03 L644.50 393.08 L644.67 393.14 L644.84 393.20 L645.01 393.20 L645.18 393.20 L645.36 393.20 L645.53 393.35 L645.53 393.65 L645.36 393.80 L645.18 393.80 L645.01 393.80 L644.84 393.80 L644.67 393.86 L644.50 393.92 L644.33 393.97 L644.16 394.02 L643.98 394.08 L643.81 394.13 L643.64 394.18 L643.47 394.22 L643.30 394.27 L643.13 394.32 L642.96 394.37 L642.78 394.41 L642.61 394.46 L642.44 394.50 L642.27 394.55 L642.10 394.59 L641.93 395.04 L641.75 395.77 L641.58 396.56 L641.41 397.40 L641.24 398.29 L641.07 399.21Z" fill="#33a02c" stroke="#1a1a1a" stroke-width="0.4"/>
<path d="M654.58 387.79 L654.73 388.63 L654.89 389.44 L655.05 390.21 L655.20 390.95 L655.36 391.63 L655.51 392.27 L655.67 392.54 L655.82 392.58 L655.98 392.62 L656.14 392.66 L656.29 392.71 L656.45 392.75 L656.60 392.79 L656.76 392.84 L656.92 392.88 L657.07 392.93 L657.23 392.97 L657.38 393.02 L657.54 393.07 L657.70 393.12 L657.85 393.17 L658.01 393.20 L658.16 393.20 L658.32 393.20 L658.47 393.20 L658.63 393.35 L658.63 393.65 L658.47 393.80 L658.32 393.80 L658.16 393.80 L658.01 393.80 L657.85 393.83 L657.70 393.88 L657.54 393.93 L657.38 393.98 L657.23 394.03 L657.07 394.07 L656.92 394.12 L656.76 394.16 L656.60 394.21 L656.45 394.25 L656.29 394.29 L656.14 394.34 L655.98 394.38 L655.82 394.42 L655.67 394.46 L655.51 394.73 L655.36 395.37 L655.20 396.05 L655.05 396.79 L654.89 397.56 L654.73 398.37 L654.58 399.21Z" fill="#33a02c" stroke="#1a1a1a" stroke-width="0.4"/>
<path d="M668.09 387.79 L668.32 389.04 L668.55 390.21 L668.79 391.30 L669.02 392.27 L669.26 392.74 L669.49 392.77 L669.72 392.80 L669.96 392.83 L670.19 392.86 L670.43 392.89 L670.66 392.92 L670.89 392.95 L671.13 392.99 L671.36 393.02 L671.59 393.05 L671.83 393.08 L672.06 393.12 L672.30 393.15 L672.53 393.19 L672.76 393.20 L673.00 393.20 L673.23 393.20 L673.46 393.20 L673.70 393.20 L673.93 393.20 L674.17 393.35 L674.17 393.65 L673.93 393.80 L673.70 393.80 L673.46 393.80 L673.23 393.80 L673.00 393.80 L672.76 393.80 L672.53 393.81 L672.30 393.85 L672.06 393.88 L671.83 393.92 L671.59 393.95 L671.36 393.98 L671.13 394.01 L670.89 394.05 L670.66 394.08 L670.43 394.11 L670.19 394.14 L669.96 394.17 L669.72 394.20 L669.49 394.23 L669.26 394.26 L669.02 394.73 L668.79 395.70 L668.55 396.79 L668.32 397.96 L668.09 399.21Z" fill="#33a02c" stroke="#1a1a1a" stroke-width="0.4"/>
<path d="M87.2 405.5h10.1M100.7 405.5h9.1M114.2 405.5h10.8M127.7 405.5h4.7M141.2 405.5h10.1M154.7 405.5h7.4M168.3 405.5h8.8M181.8 405.5h10.8M195.3 405.5h6.1M208.8 405.5h7.4M222.3 405.5h4.7M235.8 405.5h10.8M249.3 405.5h10.8M262.8 405.5h10.8M276.3 405.5h10.8M303.3 405.5h4.1M330.4 405.5h6.1M343.9 405.5h5.4M357.4 405.5h5.4M370.9 405.5h6.1M384.4 405.5h6.1M397.9 405.5h10.8M411.4 405.5h6.1M424.9 405.5h4.1M438.4 405.5h4.1M451.9 405.5h4.7M506.0 405.5h4.1M533.0 405.5h2.0M546.5 405.5h2.0M560.0 405.5h10.8M573.5 405.5h10.8M587.0 405.5h10.8M600.5 405.5h10.8M614.1 405.5h1.4M627.6 405.5h1.4M641.1 405.5h4.7M654.6 405.5h5.4M668.1 405.5h6.1" stroke="#383838" stroke-width="0.9" fill="none"/>
<path d="M114.22 398.84 L114.61 401.22 L115.00 403.32 L115.39 405.01 L115.78 405.20 L116.17 405.20 L116.56 405.20 L116.95 405.20 L117.34 405.20 L117.73 405.20 L118.11 405.20 L118.50 405.20 L118.89 405.20 L119.28 405.20 L119.67 405.20 L120.06 405.20 L120.45 405.07 L120.84 404.74 L121.23 404.56 L121.62 404.45 L122.01 404.39 L122.40 404.38 L122.79 404.41 L123.18 404.49 L123.57 404.62 L123.96 404.84 L124.35 405.35 L124.35 405.65 L123.96 406.16 L123.57 406.38 L123.18 406.51 L122.79 406.59 L122.40 406.62 L122.01 406.61 L121.62 406.55 L121.23 406.44 L120.84 406.26 L120.45 405.93 L120.06 405.80 L119.67 405.80 L119.28 405.80 L118.89 405.80 L118.50 405.80 L118.11 405.80 L117.73 405.80 L117.34 405.80 L116.95 405.80 L116.56 405.80 L116.17 405.80 L115.78 405.80 L115.39 405.99 L115.00 407.68 L114.61 409.78 L114.22 412.16Z" fill="#e31a1c" stroke="#1a1a1a" stroke-width="0.4"/>
<path d="M181.76 400.46 L182.22 400.48 L182.67 400.56 L183.12 400.70 L183.57 400.92 L184.02 401.23 L184.48 401.64 L184.93 402.19 L185.38 402.93 L185.83 404.05 L186.28 405.20 L186.74 405.20 L187.19 403.32 L187.64 402.49 L188.09 401.94 L188.54 401.55 L189.00 401.28 L189.45 401.11 L189.90 401.03 L190.35 401.03 L190.80 401.11 L191.26 401.27 L191.71 401.53 L192.16 401.91 L192.61 402.45 L193.06 403.26 L193.52 405.35 L193.52 405.65 L193.06 407.74 L192.61 408.55 L192.16 409.09 L191.71 409.47 L191.26 409.73 L190.80 409.89 L190.35 409.97 L189.90 409.97 L189.45 409.89 L189.00 409.72 L188.54 409.45 L188.09 409.06 L187.64 408.51 L187.19 407.68 L186.74 405.80 L186.28 405.80 L185.83 406.95 L185.38 408.07 L184.93 408.81 L184.48 409.36 L184.02 409.77 L183.57 410.08 L183.12 410.30 L182.67 410.44 L182.22 410.52 L181.76 410.54Z" fill="#e31a1c" stroke="#1a1a1a" stroke-width="0.4"/>
<path d="M235.80 401.69 L236.08 402.70 L236.37 403.64 L236.66 404.47 L236.94 404.52 L237.23 404.56 L237.51 404.59 L237.80 404.63 L238.09 404.67 L238.37 404.70 L238.66 404.74 L238.94 404.78 L239.23 404.82 L239.51 404.86 L239.80 404.90 L240.09 404.94 L240.37 404.98 L240.66 405.02 L240.94 405.06 L241.23 405.11 L241.51 405.15 L241.80 405.20 L242.09 405.20 L242.37 405.20 L242.66 405.20 L242.94 405.20 L243.23 405.35 L243.23 405.65 L242.94 405.80 L242.66 405.80 L242.37 405.80 L242.09 405.80 L241.80 405.80 L241.51 405.85 L241.23 405.89 L240.94 405.94 L240.66 405.98 L240.37 406.02 L240.09 406.06 L239.80 406.10 L239.51 406.14 L239.23 406.18 L238.94 406.22 L238.66 406.26 L238.37 406.30 L238.09 406.33 L237.80 406.37 L237.51 406.41 L237.23 406.44 L236.94 406.48 L236.66 406.53 L236.37 407.36 L236.08 408.30 L235.80 409.31Z" fill="#e31a1c" stroke="#1a1a1a" stroke-width="0.4"/>
<path d="M249.31 399.90 L249.76 399.92 L250.21 400.01 L250.66 400.17 L251.12 400.41 L251.57 400.75 L252.02 401.21 L252.47 401.82 L252.92 402.65 L253.38 403.89 L253.83 405.20 L254.28 405.20 L254.73 403.96 L255.18 402.56 L255.64 401.77 L256.09 401.24 L256.54 400.87 L256.99 400.63 L257.44 400.49 L257.90 400.46 L258.35 400.53 L258.80 400.70 L259.25 400.98 L259.70 401.40 L260.16 402.01 L260.61 402.93 L261.06 405.35 L261.06 405.65 L260.61 408.07 L260.16 408.99 L259.70 409.60 L259.25 410.02 L258.80 410.30 L258.35 410.47 L257.90 410.54 L257.44 410.51 L256.99 410.37 L256.54 410.13 L256.09 409.76 L255.64 409.23 L255.18 408.44 L254.73 407.04 L254.28 405.80 L253.83 405.80 L253.38 407.11 L252.92 408.35 L252.47 409.18 L252.02 409.79 L251.57 410.25 L251.12 410.59 L250.66 410.83 L250.21 410.99 L249.76 411.08 L249.31 411.10Z" fill="#e31a1c" stroke="#1a1a1a" stroke-width="0.4"/>
<path d="M262.82 399.90 L263.27 399.92 L263.72 400.01 L264.17 400.17 L264.63 400.41 L265.08 400.75 L265.53 401.21 L265.98 401.82 L266.43 402.65 L266.89 403.89 L267.34 405.20 L267.79 405.20 L268.24 403.96 L268.69 402.56 L269.15 401.77 L269.60 401.24 L270.05 400.87 L270.50 400.63 L270.95 400.49 L271.41 400.46 L271.86 400.53 L272.31 400.70 L272.76 400.98 L273.21 401.40 L273.67 402.01 L274.12 402.93 L274.57 405.35 L274.57 405.65 L274.12 408.07 L273.67 408.99 L273.21 409.60 L272.76 410.02 L272.31 410.30 L271.86 410.47 L271.41 410.54 L270.95 410.51 L270.50 410.37 L270.05 410.13 L269.60 409.76 L269.15 409.23 L268.69 408.44 L268.24 407.04 L267.79 405.80 L267.34 405.80 L266.89 407.11 L266.43 408.35 L265.98 409.18 L265.53 409.79 L265.08 410.25 L264.63 410.59 L264.17 410.83 L263.72 410.99 L263.27 411.08 L262.82 411.10Z" fill="#e31a1c" stroke="#1a1a1a" stroke-width="0.4"/>
<path d="M276.33 401.02 L276.77 401.04 L277.22 401.10 L277.67 401.23 L278.11 401.42 L278.56 401.68 L279.01 402.04 L279.45 402.51 L279.90 403.15 L280.35 404.08 L280.79 405.20 L281.24 405.20 L281.69 403.43 L282.13 402.08 L282.58 401.26 L283.03 400.70 L283.48 400.32 L283.92 400.06 L284.37 399.93 L284.82 399.90 L285.26 399.98 L285.71 400.18 L286.16 400.50 L286.60 400.96 L287.05 401.64 L287.50 402.66 L287.94 405.35 L287.94 405.65 L287.50 408.34 L287.05 409.36 L286.60 410.04 L286.16 410.50 L285.71 410.82 L285.26 411.02 L284.82 411.10 L284.37 411.07 L283.92 410.94 L283.48 410.68 L283.03 410.30 L282.58 409.74 L282.13 408.92 L281.69 407.57 L281.24 405.80 L280.79 405.80 L280.35 406.92 L279.90 407.85 L279.45 408.49 L279.01 408.96 L278.56 409.32 L278.11 409.58 L277.67 409.77 L277.22 409.90 L276.77 409.96 L276.33 409.98Z" fill="#e31a1c" stroke="#1a1a1a" stroke-width="0.4"/>
<path d="M397.91 398.84 L398.19 400.61 L398.48 402.24 L398.76 403.70 L399.05 404.03 L399.34 404.08 L399.62 404.14 L399.91 404.19 L400.19 404.25 L400.48 404.30 L400.76 404.36 L401.05 404.42 L401.34 404.48 L401.62 404.54 L401.91 404.59 L402.19 404.66 L402.48 404.72 L402.77 404.78 L403.05 404.85 L403.34 404.91 L403.62 404.98 L403.91 405.05 L404.19 405.12 L404.48 405.20 L404.77 405.20 L405.05 405.20 L405.34 405.35 L405.34 405.65 L405.05 405.80 L404.77 405.80 L404.48 405.80 L404.19 405.88 L403.91 405.95 L403.62 406.02 L403.34 406.09 L403.05 406.15 L402.77 406.22 L402.48 406.28 L402.19 406.34 L401.91 406.41 L401.62 406.46 L401.34 406.52 L401.05 406.58 L400.76 406.64 L400.48 406.70 L400.19 406.75 L399.91 406.81 L399.62 406.86 L399.34 406.92 L399.05 406.97 L398.76 407.30 L398.48 408.76 L398.19 410.39 L397.91 412.16Z" fill="#e31a1c" stroke="#1a1a1a" stroke-width="0.4"/>
<path d="M560.01 401.02 L560.35 401.03 L560.69 401.07 L561.03 401.13 L561.37 401.23 L561.70 401.37 L562.04 401.55 L562.38 401.78 L562.72 402.06 L563.05 402.41 L563.39 402.84 L563.73 403.40 L564.07 402.91 L564.41 402.44 L564.74 402.11 L565.08 401.87 L565.42 401.70 L565.76 401.61 L566.09 401.58 L566.43 401.61 L566.77 401.70 L567.11 401.87 L567.44 402.11 L567.78 402.44 L568.12 402.91 L568.46 403.60 L568.80 405.35 L568.80 405.65 L568.46 407.40 L568.12 408.09 L567.78 408.56 L567.44 408.89 L567.11 409.13 L566.77 409.30 L566.43 409.39 L566.09 409.42 L565.76 409.39 L565.42 409.30 L565.08 409.13 L564.74 408.89 L564.41 408.56 L564.07 408.09 L563.73 407.60 L563.39 408.16 L563.05 408.59 L562.72 408.94 L562.38 409.22 L562.04 409.45 L561.70 409.63 L561.37 409.77 L561.03 409.87 L560.69 409.93 L560.35 409.97 L560.01 409.98Z" fill="#e31a1c" stroke="#1a1a1a" stroke-width="0.4"/>
<path d="M573.52 401.58 L573.91 401.59 L574.30 401.63 L574.69 401.71 L575.08 401.83 L575.47 402.00 L575.86 402.22 L576.25 402.51 L576.64 402.87 L577.03 403.35 L577.42 403.99 L577.81 404.20 L578.20 404.27 L578.59 404.34 L578.98 404.41 L579.37 404.49 L579.76 404.56 L580.15 404.64 L580.54 404.71 L580.93 404.79 L581.32 404.88 L581.71 404.96 L582.10 405.05 L582.49 405.14 L582.88 405.20 L583.27 405.20 L583.66 405.35 L583.66 405.65 L583.27 405.80 L582.88 405.80 L582.49 405.86 L582.10 405.95 L581.71 406.04 L581.32 406.12 L580.93 406.21 L580.54 406.29 L580.15 406.36 L579.76 406.44 L579.37 406.51 L578.98 406.59 L578.59 406.66 L578.20 406.73 L577.81 406.80 L577.42 407.01 L577.03 407.65 L576.64 408.13 L576.25 408.49 L575.86 408.78 L575.47 409.00 L575.08 409.17 L574.69 409.29 L574.30 409.37 L573.91 409.41 L573.52 409.42Z" fill="#e31a1c" stroke="#1a1a1a" stroke-width="0.4"/>
<path d="M587.03 401.58 L587.47 401.60 L587.92 401.65 L588.36 401.76 L588.80 401.92 L589.24 402.14 L589.68 402.45 L590.12 402.85 L590.57 403.38 L591.01 403.74 L591.45 403.25 L591.89 402.90 L592.33 402.64 L592.77 402.45 L593.22 402.30 L593.66 402.21 L594.10 402.15 L594.54 402.14 L594.98 402.17 L595.42 402.24 L595.87 402.35 L596.31 402.51 L596.75 402.73 L597.19 403.02 L597.63 403.41 L598.07 403.97 L598.52 405.35 L598.52 405.65 L598.07 407.03 L597.63 407.59 L597.19 407.98 L596.75 408.27 L596.31 408.49 L595.87 408.65 L595.42 408.76 L594.98 408.83 L594.54 408.86 L594.10 408.85 L593.66 408.79 L593.22 408.70 L592.77 408.55 L592.33 408.36 L591.89 408.10 L591.45 407.75 L591.01 407.26 L590.57 407.62 L590.12 408.15 L589.68 408.55 L589.24 408.86 L588.80 409.08 L588.36 409.24 L587.92 409.35 L587.47 409.40 L587.03 409.42Z" fill="#e31a1c" stroke="#1a1a1a" stroke-width="0.4"/>
<path d="M600.54 401.58 L601.00 401.60 L601.46 401.66 L601.91 401.77 L602.37 401.95 L602.83 402.19 L603.29 402.52 L603.74 402.96 L604.20 403.57 L604.66 403.72 L605.11 402.84 L605.57 402.27 L606.03 401.85 L606.49 401.54 L606.94 401.31 L607.40 401.15 L607.86 401.06 L608.31 401.02 L608.77 401.04 L609.23 401.12 L609.69 401.26 L610.14 401.47 L610.60 401.75 L611.06 402.14 L611.52 402.67 L611.97 403.43 L612.43 405.35 L612.43 405.65 L611.97 407.57 L611.52 408.33 L611.06 408.86 L610.60 409.25 L610.14 409.53 L609.69 409.74 L609.23 409.88 L608.77 409.96 L608.31 409.98 L607.86 409.94 L607.40 409.85 L606.94 409.69 L606.49 409.46 L606.03 409.15 L605.57 408.73 L605.11 408.16 L604.66 407.28 L604.20 407.43 L603.74 408.04 L603.29 408.48 L602.83 408.81 L602.37 409.05 L601.91 409.23 L601.46 409.34 L601.00 409.40 L600.54 409.42Z" fill="#e31a1c" stroke="#1a1a1a" stroke-width="0.4"/>
<path d="M87.2 418.5h11.5M100.7 418.5h10.8M114.2 418.5h10.8M127.7 418.5h4.7M141.2 418.5h10.8M154.7 418.5h11.5M168.3 418.5h10.8M195.3 418.5h1.4M208.8 418.5h2.0M222.3 418.5h8.1M262.8 418.5h7.4M276.3 418.5h6.1M330.4 418.5h6.8M343.9 418.5h5.4M357.4 418.5h6.1M370.9 418.5h8.8M397.9 418.5h6.1M411.4 418.5h6.1M424.9 418.5h1.4M438.4 418.5h4.7M451.9 418.5h4.1M465.5 418.5h6.1M479.0 418.5h6.1M492.5 418.5h4.1M506.0 418.5h10.8M519.5 418.5h10.8M533.0 418.5h10.8M546.5 418.5h10.8M560.0 418.5h4.1M587.0 418.5h7.4M614.1 418.5h11.5M627.6 418.5h11.5M641.1 418.5h11.5M654.6 418.5h11.5M668.1 418.5h2.0" stroke="#383838" stroke-width="0.9" fill="none"/>
<path d="M100.71 414.47 L101.10 414.96 L101.49 415.45 L101.88 415.91 L102.27 416.36 L102.66 416.78 L103.05 417.18 L103.44 417.56 L103.83 417.90 L104.22 418.20 L104.61 418.20 L105.00 418.20 L105.39 418.20 L105.77 417.14 L106.16 416.59 L106.55 416.23 L106.94 415.99 L107.33 415.83 L107.72 415.73 L108.11 415.70 L108.50 415.73 L108.89 415.81 L109.28 415.96 L109.67 416.19 L110.06 416.53 L110.45 417.05 L110.84 418.35 L110.84 418.65 L110.45 419.95 L110.06 420.47 L109.67 420.81 L109.28 421.04 L108.89 421.19 L108.50 421.27 L108.11 421.30 L107.72 421.27 L107.33 421.17 L106.94 421.01 L106.55 420.77 L106.16 420.41 L105.77 419.86 L105.39 418.80 L105.00 418.80 L104.61 418.80 L104.22 418.80 L103.83 419.10 L103.44 419.44 L103.05 419.82 L102.66 420.22 L102.27 420.64 L101.88 421.09 L101.49 421.55 L101.10 422.04 L100.71 422.53Z" fill="#ffff99" stroke="#1a1a1a" stroke-width="0.4"/>
<path d="M114.22 414.02 L114.63 414.61 L115.05 415.18 L115.46 415.72 L115.88 416.25 L116.30 416.74 L116.71 417.21 L117.13 417.64 L117.54 418.02 L117.96 418.20 L118.37 417.40 L118.79 416.11 L119.21 415.41 L119.62 414.92 L120.04 414.56 L120.45 414.31 L120.87 414.14 L121.28 414.05 L121.70 414.02 L122.12 414.06 L122.53 414.18 L122.95 414.36 L123.36 414.64 L123.78 415.02 L124.19 415.56 L124.61 416.35 L125.03 418.35 L125.03 418.65 L124.61 420.65 L124.19 421.44 L123.78 421.98 L123.36 422.36 L122.95 422.64 L122.53 422.82 L122.12 422.94 L121.70 422.98 L121.28 422.95 L120.87 422.86 L120.45 422.69 L120.04 422.44 L119.62 422.08 L119.21 421.59 L118.79 420.89 L118.37 419.60 L117.96 418.80 L117.54 418.98 L117.13 419.36 L116.71 419.79 L116.30 420.26 L115.88 420.75 L115.46 421.28 L115.05 421.82 L114.63 422.39 L114.22 422.98Z" fill="#ffff99" stroke="#1a1a1a" stroke-width="0.4"/>
<path d="M141.24 414.58 L141.65 415.09 L142.07 415.59 L142.48 416.07 L142.90 416.53 L143.31 416.96 L143.73 417.37 L144.15 417.74 L144.56 418.08 L144.98 418.20 L145.39 417.81 L145.81 417.01 L146.22 416.57 L146.64 416.26 L147.06 416.04 L147.47 415.88 L147.89 415.78 L148.30 415.72 L148.72 415.70 L149.13 415.73 L149.55 415.80 L149.96 415.92 L150.38 416.09 L150.80 416.33 L151.21 416.66 L151.63 417.15 L152.04 418.35 L152.04 418.65 L151.63 419.85 L151.21 420.34 L150.80 420.67 L150.38 420.91 L149.96 421.08 L149.55 421.20 L149.13 421.27 L148.72 421.30 L148.30 421.28 L147.89 421.22 L147.47 421.12 L147.06 420.96 L146.64 420.74 L146.22 420.43 L145.81 419.99 L145.39 419.19 L144.98 418.80 L144.56 418.92 L144.15 419.26 L143.73 419.63 L143.31 420.04 L142.90 420.47 L142.48 420.93 L142.07 421.41 L141.65 421.91 L141.24 422.42Z" fill="#ffff99" stroke="#1a1a1a" stroke-width="0.4"/>
<path d="M168.25 415.14 L168.70 415.61 L169.14 416.06 L169.58 416.49 L170.02 416.90 L170.46 417.29 L170.90 417.65 L171.35 417.98 L171.79 418.20 L172.23 418.20 L172.67 418.20 L173.11 418.04 L173.55 417.56 L174.00 417.30 L174.44 417.12 L174.88 416.99 L175.32 416.90 L175.76 416.85 L176.20 416.82 L176.65 416.83 L177.09 416.86 L177.53 416.92 L177.97 417.02 L178.41 417.17 L178.85 417.37 L179.30 417.67 L179.74 418.35 L179.74 418.65 L179.30 419.33 L178.85 419.63 L178.41 419.83 L177.97 419.98 L177.53 420.08 L177.09 420.14 L176.65 420.17 L176.20 420.18 L175.76 420.15 L175.32 420.10 L174.88 420.01 L174.44 419.88 L174.00 419.70 L173.55 419.44 L173.11 418.96 L172.67 418.80 L172.23 418.80 L171.79 418.80 L171.35 419.02 L170.90 419.35 L170.46 419.71 L170.02 420.10 L169.58 420.51 L169.14 420.94 L168.70 421.39 L168.25 421.86Z" fill="#ffff99" stroke="#1a1a1a" stroke-width="0.4"/>
<path d="M505.98 414.58 L506.37 415.06 L506.76 415.53 L507.15 415.98 L507.54 416.41 L507.93 416.83 L508.32 417.22 L508.71 417.58 L509.10 417.92 L509.49 417.82 L509.88 417.19 L510.27 416.82 L510.66 416.56 L511.04 416.37 L511.43 416.23 L511.82 416.13 L512.21 416.07 L512.60 416.04 L512.99 416.04 L513.38 416.08 L513.77 416.16 L514.16 416.27 L514.55 416.42 L514.94 416.64 L515.33 416.93 L515.72 417.35 L516.11 418.35 L516.11 418.65 L515.72 419.65 L515.33 420.07 L514.94 420.36 L514.55 420.58 L514.16 420.73 L513.77 420.84 L513.38 420.92 L512.99 420.96 L512.60 420.96 L512.21 420.93 L511.82 420.87 L511.43 420.77 L511.04 420.63 L510.66 420.44 L510.27 420.18 L509.88 419.81 L509.49 419.18 L509.10 419.08 L508.71 419.42 L508.32 419.78 L507.93 420.17 L507.54 420.59 L507.15 421.02 L506.76 421.47 L506.37 421.94 L505.98 422.42Z" fill="#ffff99" stroke="#1a1a1a" stroke-width="0.4"/>
<path d="M519.49 414.58 L519.93 415.13 L520.37 415.65 L520.81 416.16 L521.25 416.64 L521.70 417.09 L522.14 417.51 L522.58 417.90 L523.02 417.58 L523.46 416.74 L523.90 416.25 L524.35 415.90 L524.79 415.64 L525.23 415.45 L525.67 415.30 L526.11 415.21 L526.55 415.15 L527.00 415.14 L527.44 415.17 L527.88 415.24 L528.32 415.35 L528.76 415.51 L529.20 415.73 L529.65 416.02 L530.09 416.41 L530.53 416.97 L530.97 418.35 L530.97 418.65 L530.53 420.03 L530.09 420.59 L529.65 420.98 L529.20 421.27 L528.76 421.49 L528.32 421.65 L527.88 421.76 L527.44 421.83 L527.00 421.86 L526.55 421.85 L526.11 421.79 L525.67 421.70 L525.23 421.55 L524.79 421.36 L524.35 421.10 L523.90 420.75 L523.46 420.26 L523.02 419.42 L522.58 419.10 L522.14 419.49 L521.70 419.91 L521.25 420.36 L520.81 420.84 L520.37 421.35 L519.93 421.87 L519.49 422.42Z" fill="#ffff99" stroke="#1a1a1a" stroke-width="0.4"/>
<path d="M533.00 414.58 L533.44 415.13 L533.88 415.65 L534.32 416.16 L534.76 416.64 L535.21 417.09 L535.65 417.51 L536.09 417.90 L536.53 417.64 L536.97 416.86 L537.41 416.40 L537.86 416.08 L538.30 415.83 L538.74 415.65 L539.18 415.52 L539.62 415.43 L540.06 415.38 L540.50 415.36 L540.95 415.39 L541.39 415.45 L541.83 415.56 L542.27 415.71 L542.71 415.91 L543.15 416.18 L543.60 416.55 L544.04 417.08 L544.48 418.35 L544.48 418.65 L544.04 419.92 L543.60 420.45 L543.15 420.82 L542.71 421.09 L542.27 421.29 L541.83 421.44 L541.39 421.55 L540.95 421.61 L540.50 421.64 L540.06 421.62 L539.62 421.57 L539.18 421.48 L538.74 421.35 L538.30 421.17 L537.86 420.92 L537.41 420.60 L536.97 420.14 L536.53 419.36 L536.09 419.10 L535.65 419.49 L535.21 419.91 L534.76 420.36 L534.32 420.84 L533.88 421.35 L533.44 421.87 L533.00 422.42Z" fill="#ffff99" stroke="#1a1a1a" stroke-width="0.4"/>
<path d="M546.51 414.58 L546.97 415.16 L547.44 415.71 L547.91 416.24 L548.38 416.75 L548.84 417.22 L549.31 417.41 L549.78 417.45 L550.25 417.50 L550.71 417.54 L551.18 417.59 L551.65 417.63 L552.12 417.68 L552.59 417.73 L553.05 417.78 L553.52 417.82 L553.99 417.87 L554.46 417.92 L554.92 417.98 L555.39 418.03 L555.86 418.08 L556.33 418.14 L556.79 418.20 L557.26 418.20 L557.73 418.20 L558.20 418.20 L558.66 418.35 L558.66 418.65 L558.20 418.80 L557.73 418.80 L557.26 418.80 L556.79 418.80 L556.33 418.86 L555.86 418.92 L555.39 418.97 L554.92 419.02 L554.46 419.08 L553.99 419.13 L553.52 419.18 L553.05 419.22 L552.59 419.27 L552.12 419.32 L551.65 419.37 L551.18 419.41 L550.71 419.46 L550.25 419.50 L549.78 419.55 L549.31 419.59 L548.84 419.78 L548.38 420.25 L547.91 420.76 L547.44 421.29 L546.97 421.84 L546.51 422.42Z" fill="#ffff99" stroke="#1a1a1a" stroke-width="0.4"/>
<path d="M87.2 431.5h10.8M100.7 431.5h10.8M114.2 431.5h10.8M127.7 431.5h10.1M141.2 431.5h10.8M154.7 431.5h10.8M168.3 431.5h10.8M181.8 431.5h8.8M208.8 431.5h3.4M235.8 431.5h8.1M249.3 431.5h8.1M262.8 431.5h8.8M276.3 431.5h8.1M316.9 431.5h4.7M330.4 431.5h8.1M343.9 431.5h8.1M357.4 431.5h12.8M370.9 431.5h12.8M384.4 431.5h4.1M397.9 431.5h2.0M411.4 431.5h2.0M424.9 431.5h4.1M438.4 431.5h5.4M451.9 431.5h6.1M465.5 431.5h2.7M479.0 431.5h10.8M492.5 431.5h10.8M506.0 431.5h10.8M519.5 431.5h1.4M533.0 431.5h6.1M546.5 431.5h6.8M560.0 431.5h6.1M573.5 431.5h0.7M587.0 431.5h6.8M600.5 431.5h6.1M614.1 431.5h8.1M627.6 431.5h8.1M641.1 431.5h8.1M654.6 431.5h8.1" stroke="#8f8f8f" stroke-width="0.9" fill="none"/>
<path d="M100.71 428.14 L101.10 428.55 L101.49 428.95 L101.88 429.34 L102.27 429.71 L102.66 430.07 L103.05 430.40 L103.44 430.71 L103.83 431.00 L104.22 431.20 L104.61 430.67 L105.00 430.24 L105.39 429.86 L105.77 429.50 L106.16 429.17 L106.55 428.84 L106.94 428.54 L107.33 428.24 L107.72 428.34 L108.11 428.64 L108.50 428.95 L108.89 429.28 L109.28 429.62 L109.67 429.98 L110.06 430.38 L110.45 430.83 L110.84 431.35 L110.84 431.65 L110.45 432.17 L110.06 432.62 L109.67 433.02 L109.28 433.38 L108.89 433.72 L108.50 434.05 L108.11 434.36 L107.72 434.66 L107.33 434.76 L106.94 434.46 L106.55 434.16 L106.16 433.83 L105.77 433.50 L105.39 433.14 L105.00 432.76 L104.61 432.33 L104.22 431.80 L103.83 432.00 L103.44 432.29 L103.05 432.60 L102.66 432.93 L102.27 433.29 L101.88 433.66 L101.49 434.05 L101.10 434.45 L100.71 434.86Z" fill="#cab2d6" stroke="#1a1a1a" stroke-width="0.4"/>
<path d="M114.22 425.79 L114.66 428.09 L115.10 430.06 L115.54 431.20 L115.98 431.20 L116.43 431.20 L116.87 431.20 L117.31 431.20 L117.75 431.01 L118.19 430.17 L118.63 429.48 L119.08 428.87 L119.52 428.30 L119.96 427.76 L120.40 427.25 L120.84 426.76 L121.28 426.28 L121.73 425.98 L122.17 426.45 L122.61 426.93 L123.05 427.43 L123.49 427.95 L123.93 428.50 L124.38 429.08 L124.82 429.71 L125.26 430.44 L125.70 431.35 L125.70 431.65 L125.26 432.56 L124.82 433.29 L124.38 433.92 L123.93 434.50 L123.49 435.05 L123.05 435.57 L122.61 436.07 L122.17 436.55 L121.73 437.02 L121.28 436.72 L120.84 436.24 L120.40 435.75 L119.96 435.24 L119.52 434.70 L119.08 434.13 L118.63 433.52 L118.19 432.83 L117.75 431.99 L117.31 431.80 L116.87 431.80 L116.43 431.80 L115.98 431.80 L115.54 431.80 L115.10 432.94 L114.66 434.91 L114.22 437.21Z" fill="#cab2d6" stroke="#1a1a1a" stroke-width="0.4"/>
<path d="M141.24 427.02 L141.68 427.64 L142.12 428.25 L142.56 428.82 L143.00 429.37 L143.44 429.11 L143.89 428.61 L144.33 428.13 L144.77 427.68 L145.21 427.25 L145.65 426.82 L146.09 426.42 L146.54 426.02 L146.98 425.63 L147.42 425.43 L147.86 425.81 L148.30 426.20 L148.74 426.61 L149.19 427.02 L149.63 427.45 L150.07 427.89 L150.51 428.35 L150.95 428.84 L151.39 429.35 L151.84 429.92 L152.28 430.56 L152.72 431.35 L152.72 431.65 L152.28 432.44 L151.84 433.08 L151.39 433.65 L150.95 434.16 L150.51 434.65 L150.07 435.11 L149.63 435.55 L149.19 435.98 L148.74 436.39 L148.30 436.80 L147.86 437.19 L147.42 437.57 L146.98 437.37 L146.54 436.98 L146.09 436.58 L145.65 436.18 L145.21 435.75 L144.77 435.32 L144.33 434.87 L143.89 434.39 L143.44 433.89 L143.00 433.63 L142.56 434.18 L142.12 434.75 L141.68 435.36 L141.24 435.98Z" fill="#cab2d6" stroke="#1a1a1a" stroke-width="0.4"/>
<path d="M154.75 425.79 L155.13 427.83 L155.52 429.63 L155.91 430.89 L156.30 430.91 L156.69 430.93 L157.08 430.96 L157.47 430.98 L157.86 431.00 L158.25 431.02 L158.64 431.04 L159.03 431.07 L159.42 431.09 L159.81 431.11 L160.20 431.14 L160.59 431.16 L160.98 431.19 L161.37 431.20 L161.76 431.20 L162.15 431.20 L162.54 431.20 L162.93 431.20 L163.32 431.20 L163.71 431.20 L164.10 431.20 L164.49 431.20 L164.88 431.35 L164.88 431.65 L164.49 431.80 L164.10 431.80 L163.71 431.80 L163.32 431.80 L162.93 431.80 L162.54 431.80 L162.15 431.80 L161.76 431.80 L161.37 431.80 L160.98 431.81 L160.59 431.84 L160.20 431.86 L159.81 431.89 L159.42 431.91 L159.03 431.93 L158.64 431.96 L158.25 431.98 L157.86 432.00 L157.47 432.02 L157.08 432.04 L156.69 432.07 L156.30 432.09 L155.91 432.11 L155.52 433.37 L155.13 435.17 L154.75 437.21Z" fill="#cab2d6" stroke="#1a1a1a" stroke-width="0.4"/>
<path d="M168.25 425.79 L168.70 428.09 L169.14 430.06 L169.58 431.20 L170.02 431.20 L170.46 431.20 L170.90 431.20 L171.35 431.20 L171.79 431.16 L172.23 430.57 L172.67 430.09 L173.11 429.66 L173.55 429.26 L174.00 428.88 L174.44 428.52 L174.88 428.18 L175.32 427.85 L175.76 427.64 L176.20 427.96 L176.65 428.30 L177.09 428.65 L177.53 429.01 L177.97 429.40 L178.41 429.81 L178.85 430.25 L179.30 430.76 L179.74 431.35 L179.74 431.65 L179.30 432.24 L178.85 432.75 L178.41 433.19 L177.97 433.60 L177.53 433.99 L177.09 434.35 L176.65 434.70 L176.20 435.04 L175.76 435.36 L175.32 435.15 L174.88 434.82 L174.44 434.48 L174.00 434.12 L173.55 433.74 L173.11 433.34 L172.67 432.91 L172.23 432.43 L171.79 431.84 L171.35 431.80 L170.90 431.80 L170.46 431.80 L170.02 431.80 L169.58 431.80 L169.14 432.94 L168.70 434.91 L168.25 437.21Z" fill="#cab2d6" stroke="#1a1a1a" stroke-width="0.4"/>
<path d="M330.36 424.84 L330.62 426.45 L330.88 427.95 L331.14 429.32 L331.40 430.51 L331.66 431.20 L331.92 431.20 L332.18 431.20 L332.44 431.20 L332.70 431.20 L332.96 431.20 L333.22 430.85 L333.48 430.48 L333.74 430.25 L334.00 430.08 L334.26 429.97 L334.52 429.89 L334.78 429.84 L335.04 429.82 L335.30 429.83 L335.56 429.87 L335.82 429.93 L336.08 430.03 L336.34 430.18 L336.60 430.38 L336.86 430.68 L337.12 431.35 L337.12 431.65 L336.86 432.32 L336.60 432.62 L336.34 432.82 L336.08 432.97 L335.82 433.07 L335.56 433.13 L335.30 433.17 L335.04 433.18 L334.78 433.16 L334.52 433.11 L334.26 433.03 L334.00 432.92 L333.74 432.75 L333.48 432.52 L333.22 432.15 L332.96 431.80 L332.70 431.80 L332.44 431.80 L332.18 431.80 L331.92 431.80 L331.66 431.80 L331.40 432.49 L331.14 433.68 L330.88 435.05 L330.62 436.55 L330.36 438.16Z" fill="#cab2d6" stroke="#1a1a1a" stroke-width="0.4"/>
<path d="M478.96 427.58 L479.38 428.09 L479.79 428.59 L480.21 429.07 L480.62 429.53 L481.04 429.96 L481.45 429.57 L481.87 429.06 L482.29 428.59 L482.70 428.14 L483.12 427.71 L483.53 427.30 L483.95 426.90 L484.36 426.51 L484.78 426.13 L485.20 426.04 L485.61 426.42 L486.03 426.80 L486.44 427.20 L486.86 427.61 L487.27 428.03 L487.69 428.48 L488.11 428.94 L488.52 429.44 L488.94 429.98 L489.35 430.60 L489.77 431.35 L489.77 431.65 L489.35 432.40 L488.94 433.02 L488.52 433.56 L488.11 434.06 L487.69 434.52 L487.27 434.97 L486.86 435.39 L486.44 435.80 L486.03 436.20 L485.61 436.58 L485.20 436.96 L484.78 436.87 L484.36 436.49 L483.95 436.10 L483.53 435.70 L483.12 435.29 L482.70 434.86 L482.29 434.41 L481.87 433.94 L481.45 433.43 L481.04 433.04 L480.62 433.47 L480.21 433.93 L479.79 434.41 L479.38 434.91 L478.96 435.42Z" fill="#cab2d6" stroke="#1a1a1a" stroke-width="0.4"/>
<path d="M492.47 424.84 L492.91 427.52 L493.35 429.82 L493.79 431.20 L494.24 431.20 L494.68 431.20 L495.12 431.20 L495.56 431.20 L496.00 431.04 L496.44 430.62 L496.89 430.38 L497.33 430.20 L497.77 430.07 L498.21 429.97 L498.65 429.90 L499.09 429.85 L499.54 429.83 L499.98 429.82 L500.42 429.83 L500.86 429.87 L501.30 429.92 L501.74 430.00 L502.19 430.11 L502.63 430.26 L503.07 430.45 L503.51 430.74 L503.95 431.35 L503.95 431.65 L503.51 432.26 L503.07 432.55 L502.63 432.74 L502.19 432.89 L501.74 433.00 L501.30 433.08 L500.86 433.13 L500.42 433.17 L499.98 433.18 L499.54 433.17 L499.09 433.15 L498.65 433.10 L498.21 433.03 L497.77 432.93 L497.33 432.80 L496.89 432.62 L496.44 432.38 L496.00 431.96 L495.56 431.80 L495.12 431.80 L494.68 431.80 L494.24 431.80 L493.79 431.80 L493.35 433.18 L492.91 435.48 L492.47 438.16Z" fill="#cab2d6" stroke="#1a1a1a" stroke-width="0.4"/>
<path d="M505.98 427.02 L506.38 427.59 L506.79 428.15 L507.19 428.68 L507.60 429.19 L508.01 429.68 L508.41 429.94 L508.82 429.39 L509.22 428.88 L509.63 428.40 L510.03 427.95 L510.44 427.51 L510.84 427.09 L511.25 426.68 L511.65 426.29 L512.06 425.90 L512.46 426.29 L512.87 426.68 L513.27 427.09 L513.68 427.51 L514.08 427.95 L514.49 428.40 L514.89 428.88 L515.30 429.39 L515.71 429.94 L516.11 430.57 L516.52 431.35 L516.52 431.65 L516.11 432.43 L515.71 433.06 L515.30 433.61 L514.89 434.12 L514.49 434.60 L514.08 435.05 L513.68 435.49 L513.27 435.91 L512.87 436.32 L512.46 436.71 L512.06 437.10 L511.65 436.71 L511.25 436.32 L510.84 435.91 L510.44 435.49 L510.03 435.05 L509.63 434.60 L509.22 434.12 L508.82 433.61 L508.41 433.06 L508.01 433.32 L507.60 433.81 L507.19 434.32 L506.79 434.85 L506.38 435.41 L505.98 435.98Z" fill="#cab2d6" stroke="#1a1a1a" stroke-width="0.4"/>
<path d="M87.2 443.5h10.8M100.7 443.5h10.8M114.2 443.5h10.8M127.7 443.5h10.8M141.2 443.5h10.8M154.7 443.5h10.8M168.3 443.5h10.8M181.8 443.5h8.1M195.3 443.5h4.7M208.8 443.5h8.1M222.3 443.5h11.5M235.8 443.5h8.1M249.3 443.5h8.1M262.8 443.5h8.8M276.3 443.5h5.4M303.3 443.5h6.1M316.9 443.5h2.7M330.4 443.5h6.8M343.9 443.5h6.8M357.4 443.5h6.8M370.9 443.5h7.4M384.4 443.5h6.1M397.9 443.5h6.1M411.4 443.5h6.1M424.9 443.5h10.8M438.4 443.5h10.8M451.9 443.5h10.8M465.5 443.5h10.8M479.0 443.5h6.1M492.5 443.5h6.1M506.0 443.5h10.8M519.5 443.5h6.1M533.0 443.5h6.1M546.5 443.5h6.1M560.0 443.5h6.8M573.5 443.5h7.4M587.0 443.5h6.8M600.5 443.5h7.4M614.1 443.5h7.4M627.6 443.5h7.4M641.1 443.5h8.1M654.6 443.5h7.4M668.1 443.5h9.5" stroke="#383838" stroke-width="0.9" fill="none"/>
<path d="M87.20 437.79 L87.23 437.96 L87.26 438.13 L87.29 438.30 L87.32 438.46 L87.36 438.63 L87.39 438.79 L87.42 438.96 L87.45 439.12 L87.48 439.28 L87.51 439.44 L87.54 439.60 L87.57 439.75 L87.61 439.91 L87.64 440.06 L87.67 440.21 L87.70 440.36 L87.73 440.51 L87.76 440.66 L87.79 440.80 L87.82 440.95 L87.85 441.09 L87.89 441.23 L87.92 441.36 L87.95 441.50 L87.98 441.63 L88.01 443.35 L88.01 443.65 L87.98 445.37 L87.95 445.50 L87.92 445.64 L87.89 445.77 L87.85 445.91 L87.82 446.05 L87.79 446.20 L87.76 446.34 L87.73 446.49 L87.70 446.64 L87.67 446.79 L87.64 446.94 L87.61 447.09 L87.57 447.25 L87.54 447.40 L87.51 447.56 L87.48 447.72 L87.45 447.88 L87.42 448.04 L87.39 448.21 L87.36 448.37 L87.32 448.54 L87.29 448.70 L87.26 448.87 L87.23 449.04 L87.20 449.21Z" fill="#fdbf6f" stroke="#1a1a1a" stroke-width="0.4"/>
<path d="M100.71 439.58 L101.15 440.13 L101.59 440.65 L102.03 441.16 L102.48 441.64 L102.92 441.54 L103.36 441.13 L103.80 440.74 L104.24 440.37 L104.68 440.02 L105.13 439.67 L105.57 439.34 L106.01 439.02 L106.45 438.70 L106.89 438.53 L107.33 438.85 L107.78 439.17 L108.22 439.50 L108.66 439.84 L109.10 440.18 L109.54 440.55 L109.98 440.92 L110.43 441.32 L110.87 441.74 L111.31 442.20 L111.75 442.73 L112.19 443.35 L112.19 443.65 L111.75 444.27 L111.31 444.80 L110.87 445.26 L110.43 445.68 L109.98 446.08 L109.54 446.45 L109.10 446.82 L108.66 447.16 L108.22 447.50 L107.78 447.83 L107.33 448.15 L106.89 448.47 L106.45 448.30 L106.01 447.98 L105.57 447.66 L105.13 447.33 L104.68 446.98 L104.24 446.63 L103.80 446.26 L103.36 445.87 L102.92 445.46 L102.48 445.36 L102.03 445.84 L101.59 446.35 L101.15 446.87 L100.71 447.42Z" fill="#fdbf6f" stroke="#1a1a1a" stroke-width="0.4"/>
<path d="M114.22 440.14 L114.63 440.58 L115.05 441.01 L115.46 441.42 L115.88 441.81 L116.30 442.18 L116.71 442.53 L117.13 442.61 L117.54 442.01 L117.96 441.63 L118.37 441.35 L118.79 441.14 L119.21 440.98 L119.62 440.86 L120.04 440.78 L120.45 440.72 L120.87 440.70 L121.28 440.71 L121.70 440.75 L122.12 440.81 L122.53 440.92 L122.95 441.05 L123.36 441.24 L123.78 441.48 L124.19 441.80 L124.61 442.26 L125.03 443.35 L125.03 443.65 L124.61 444.74 L124.19 445.20 L123.78 445.52 L123.36 445.76 L122.95 445.95 L122.53 446.08 L122.12 446.19 L121.70 446.25 L121.28 446.29 L120.87 446.30 L120.45 446.28 L120.04 446.22 L119.62 446.14 L119.21 446.02 L118.79 445.86 L118.37 445.65 L117.96 445.37 L117.54 444.99 L117.13 444.39 L116.71 444.47 L116.30 444.82 L115.88 445.19 L115.46 445.58 L115.05 445.99 L114.63 446.42 L114.22 446.86Z" fill="#fdbf6f" stroke="#1a1a1a" stroke-width="0.4"/>
<path d="M127.73 438.74 L127.76 438.88 L127.79 439.02 L127.82 439.16 L127.85 439.30 L127.88 439.44 L127.91 439.58 L127.95 439.71 L127.98 439.85 L128.01 439.98 L128.04 440.12 L128.07 440.25 L128.10 440.38 L128.13 440.51 L128.16 440.63 L128.19 440.76 L128.23 440.89 L128.26 441.01 L128.29 441.13 L128.32 441.25 L128.35 441.37 L128.38 441.49 L128.41 441.61 L128.44 441.72 L128.48 441.83 L128.51 441.94 L128.54 443.35 L128.54 443.65 L128.51 445.06 L128.48 445.17 L128.44 445.28 L128.41 445.39 L128.38 445.51 L128.35 445.63 L128.32 445.75 L128.29 445.87 L128.26 445.99 L128.23 446.11 L128.19 446.24 L128.16 446.37 L128.13 446.49 L128.10 446.62 L128.07 446.75 L128.04 446.88 L128.01 447.02 L127.98 447.15 L127.95 447.29 L127.91 447.42 L127.88 447.56 L127.85 447.70 L127.82 447.84 L127.79 447.98 L127.76 448.12 L127.73 448.26Z" fill="#fdbf6f" stroke="#1a1a1a" stroke-width="0.4"/>
<path d="M141.24 439.58 L141.68 440.13 L142.12 440.65 L142.56 441.16 L143.00 441.64 L143.44 441.54 L143.89 441.13 L144.33 440.74 L144.77 440.37 L145.21 440.02 L145.65 439.67 L146.09 439.34 L146.54 439.02 L146.98 438.70 L147.42 438.53 L147.86 438.85 L148.30 439.17 L148.74 439.50 L149.19 439.84 L149.63 440.18 L150.07 440.55 L150.51 440.92 L150.95 441.32 L151.39 441.74 L151.84 442.20 L152.28 442.73 L152.72 443.35 L152.72 443.65 L152.28 444.27 L151.84 444.80 L151.39 445.26 L150.95 445.68 L150.51 446.08 L150.07 446.45 L149.63 446.82 L149.19 447.16 L148.74 447.50 L148.30 447.83 L147.86 448.15 L147.42 448.47 L146.98 448.30 L146.54 447.98 L146.09 447.66 L145.65 447.33 L145.21 446.98 L144.77 446.63 L144.33 446.26 L143.89 445.87 L143.44 445.46 L143.00 445.36 L142.56 445.84 L142.12 446.35 L141.68 446.87 L141.24 447.42Z" fill="#fdbf6f" stroke="#1a1a1a" stroke-width="0.4"/>
<path d="M154.75 437.79 L155.16 439.96 L155.58 441.85 L155.99 443.20 L156.41 443.20 L156.82 443.20 L157.24 443.20 L157.65 443.20 L158.07 442.95 L158.49 442.69 L158.90 442.46 L159.32 442.25 L159.73 442.04 L160.15 441.85 L160.56 441.66 L160.98 441.48 L161.40 441.30 L161.81 441.39 L162.23 441.57 L162.64 441.75 L163.06 441.94 L163.47 442.14 L163.89 442.35 L164.31 442.57 L164.72 442.82 L165.14 443.09 L165.55 443.35 L165.55 443.65 L165.14 443.91 L164.72 444.18 L164.31 444.43 L163.89 444.65 L163.47 444.86 L163.06 445.06 L162.64 445.25 L162.23 445.43 L161.81 445.61 L161.40 445.70 L160.98 445.52 L160.56 445.34 L160.15 445.15 L159.73 444.96 L159.32 444.75 L158.90 444.54 L158.49 444.31 L158.07 444.05 L157.65 443.80 L157.24 443.80 L156.82 443.80 L156.41 443.80 L155.99 443.80 L155.58 445.15 L155.16 447.04 L154.75 449.21Z" fill="#fdbf6f" stroke="#1a1a1a" stroke-width="0.4"/>
<path d="M168.25 437.79 L168.64 439.83 L169.03 441.63 L169.42 443.08 L169.81 443.20 L170.20 443.20 L170.59 443.20 L170.98 443.20 L171.37 443.20 L171.76 443.19 L172.15 442.90 L172.54 442.74 L172.93 442.62 L173.32 442.53 L173.71 442.47 L174.10 442.42 L174.49 442.39 L174.88 442.38 L175.27 442.38 L175.66 442.40 L176.05 442.43 L176.44 442.49 L176.83 442.56 L177.22 442.65 L177.61 442.78 L178.00 442.98 L178.39 443.35 L178.39 443.65 L178.00 444.02 L177.61 444.22 L177.22 444.35 L176.83 444.44 L176.44 444.51 L176.05 444.57 L175.66 444.60 L175.27 444.62 L174.88 444.62 L174.49 444.61 L174.10 444.58 L173.71 444.53 L173.32 444.47 L172.93 444.38 L172.54 444.26 L172.15 444.10 L171.76 443.81 L171.37 443.80 L170.98 443.80 L170.59 443.80 L170.20 443.80 L169.81 443.80 L169.42 443.92 L169.03 445.37 L168.64 447.17 L168.25 449.21Z" fill="#fdbf6f" stroke="#1a1a1a" stroke-width="0.4"/>
<path d="M424.93 436.84 L425.21 438.61 L425.50 440.24 L425.78 441.70 L426.07 442.03 L426.35 442.08 L426.64 442.14 L426.93 442.19 L427.21 442.25 L427.50 442.30 L427.78 442.36 L428.07 442.42 L428.35 442.48 L428.64 442.54 L428.93 442.59 L429.21 442.66 L429.50 442.72 L429.78 442.78 L430.07 442.85 L430.35 442.91 L430.64 442.98 L430.93 443.05 L431.21 443.12 L431.50 443.20 L431.78 443.20 L432.07 443.20 L432.35 443.35 L432.35 443.65 L432.07 443.80 L431.78 443.80 L431.50 443.80 L431.21 443.88 L430.93 443.95 L430.64 444.02 L430.35 444.09 L430.07 444.15 L429.78 444.22 L429.50 444.28 L429.21 444.34 L428.93 444.41 L428.64 444.46 L428.35 444.52 L428.07 444.58 L427.78 444.64 L427.50 444.70 L427.21 444.75 L426.93 444.81 L426.64 444.86 L426.35 444.92 L426.07 444.97 L425.78 445.30 L425.50 446.76 L425.21 448.39 L424.93 450.16Z" fill="#fdbf6f" stroke="#1a1a1a" stroke-width="0.4"/>
<path d="M438.43 437.79 L438.85 439.96 L439.27 441.85 L439.68 443.20 L440.10 443.06 L440.51 442.67 L440.93 442.34 L441.34 442.04 L441.76 441.75 L442.17 441.49 L442.59 441.23 L443.01 440.98 L443.42 440.74 L443.84 440.51 L444.25 440.28 L444.67 440.22 L445.08 440.45 L445.50 440.68 L445.92 440.92 L446.33 441.17 L446.75 441.42 L447.16 441.69 L447.58 441.97 L447.99 442.26 L448.41 442.59 L448.83 442.96 L449.24 443.35 L449.24 443.65 L448.83 444.04 L448.41 444.41 L447.99 444.74 L447.58 445.03 L447.16 445.31 L446.75 445.58 L446.33 445.83 L445.92 446.08 L445.50 446.32 L445.08 446.55 L444.67 446.78 L444.25 446.72 L443.84 446.49 L443.42 446.26 L443.01 446.02 L442.59 445.77 L442.17 445.51 L441.76 445.25 L441.34 444.96 L440.93 444.66 L440.51 444.33 L440.10 443.94 L439.68 443.80 L439.27 445.15 L438.85 447.04 L438.43 449.21Z" fill="#fdbf6f" stroke="#1a1a1a" stroke-width="0.4"/>
<path d="M451.94 437.79 L452.33 439.83 L452.72 441.63 L453.11 442.75 L453.50 442.52 L453.89 442.35 L454.28 442.22 L454.67 442.11 L455.06 442.03 L455.45 441.96 L455.84 441.91 L456.23 441.87 L456.62 441.84 L457.01 441.82 L457.40 441.82 L457.79 441.83 L458.18 441.85 L458.57 441.88 L458.96 441.92 L459.35 441.98 L459.74 442.05 L460.13 442.14 L460.52 442.25 L460.91 442.39 L461.30 442.58 L461.69 442.83 L462.07 443.35 L462.07 443.65 L461.69 444.17 L461.30 444.42 L460.91 444.61 L460.52 444.75 L460.13 444.86 L459.74 444.95 L459.35 445.02 L458.96 445.08 L458.57 445.12 L458.18 445.15 L457.79 445.17 L457.40 445.18 L457.01 445.18 L456.62 445.16 L456.23 445.13 L455.84 445.09 L455.45 445.04 L455.06 444.97 L454.67 444.89 L454.28 444.78 L453.89 444.65 L453.50 444.48 L453.11 444.25 L452.72 445.37 L452.33 447.17 L451.94 449.21Z" fill="#fdbf6f" stroke="#1a1a1a" stroke-width="0.4"/>
<path d="M465.45 437.79 L465.48 437.96 L465.51 438.13 L465.55 438.30 L465.58 438.46 L465.61 438.63 L465.64 438.79 L465.67 438.96 L465.70 439.12 L465.73 439.28 L465.76 439.44 L465.79 439.60 L465.83 439.75 L465.86 439.91 L465.89 440.06 L465.92 440.21 L465.95 440.36 L465.98 440.51 L466.01 440.66 L466.04 440.80 L466.08 440.95 L466.11 441.09 L466.14 441.23 L466.17 441.36 L466.20 441.50 L466.23 441.63 L466.26 443.35 L466.26 443.65 L466.23 445.37 L466.20 445.50 L466.17 445.64 L466.14 445.77 L466.11 445.91 L466.08 446.05 L466.04 446.20 L466.01 446.34 L465.98 446.49 L465.95 446.64 L465.92 446.79 L465.89 446.94 L465.86 447.09 L465.83 447.25 L465.79 447.40 L465.76 447.56 L465.73 447.72 L465.70 447.88 L465.67 448.04 L465.64 448.21 L465.61 448.37 L465.58 448.54 L465.55 448.70 L465.51 448.87 L465.48 449.04 L465.45 449.21Z" fill="#fdbf6f" stroke="#1a1a1a" stroke-width="0.4"/>
<path d="M505.98 436.84 L506.34 439.07 L506.71 441.06 L507.07 442.72 L507.43 443.20 L507.80 442.72 L508.16 442.31 L508.52 441.93 L508.89 441.59 L509.25 441.26 L509.62 440.95 L509.98 440.65 L510.34 440.36 L510.71 440.08 L511.07 439.81 L511.43 439.62 L511.80 439.89 L512.16 440.16 L512.53 440.44 L512.89 440.73 L513.25 441.04 L513.62 441.35 L513.98 441.68 L514.34 442.03 L514.71 442.42 L515.07 442.86 L515.44 443.35 L515.44 443.65 L515.07 444.14 L514.71 444.58 L514.34 444.97 L513.98 445.32 L513.62 445.65 L513.25 445.96 L512.89 446.27 L512.53 446.56 L512.16 446.84 L511.80 447.11 L511.43 447.38 L511.07 447.19 L510.71 446.92 L510.34 446.64 L509.98 446.35 L509.62 446.05 L509.25 445.74 L508.89 445.41 L508.52 445.07 L508.16 444.69 L507.80 444.28 L507.43 443.80 L507.07 444.28 L506.71 445.94 L506.34 447.93 L505.98 450.16Z" fill="#fdbf6f" stroke="#1a1a1a" stroke-width="0.4"/>
<path d="M87.2 456.5h10.8M100.7 456.5h10.8M114.2 456.5h10.1M127.7 456.5h10.8M141.2 456.5h10.8M154.7 456.5h10.8M168.3 456.5h10.8M181.8 456.5h10.8M195.3 456.5h8.8M208.8 456.5h8.1M222.3 456.5h8.1M235.8 456.5h7.4M249.3 456.5h10.8M262.8 456.5h10.8M276.3 456.5h7.4M289.8 456.5h7.4M303.3 456.5h7.4M330.4 456.5h8.1M343.9 456.5h7.4M357.4 456.5h7.4M370.9 456.5h8.1M384.4 456.5h10.8M397.9 456.5h10.8M411.4 456.5h10.8M424.9 456.5h6.8M438.4 456.5h6.1M451.9 456.5h6.8M465.5 456.5h6.1M479.0 456.5h8.1M492.5 456.5h8.1M506.0 456.5h8.1M519.5 456.5h6.8M533.0 456.5h6.8M546.5 456.5h6.8M560.0 456.5h12.8M573.5 456.5h12.8M587.0 456.5h12.8M600.5 456.5h12.8M614.1 456.5h12.8M627.6 456.5h12.8M641.1 456.5h12.8M654.6 456.5h12.8M668.1 456.5h12.8" stroke="#383838" stroke-width="0.9" fill="none"/>
<path d="M181.76 449.44 L182.18 452.13 L182.59 454.46 L183.01 456.20 L183.43 456.20 L183.84 456.20 L184.26 456.20 L184.67 456.20 L185.09 456.20 L185.50 456.20 L185.92 456.20 L186.34 456.20 L186.75 456.20 L187.17 456.20 L187.58 455.72 L188.00 455.45 L188.41 455.27 L188.83 455.16 L189.24 455.08 L189.66 455.05 L190.08 455.05 L190.49 455.08 L190.91 455.16 L191.32 455.27 L191.74 455.45 L192.15 455.72 L192.57 456.35 L192.57 456.65 L192.15 457.28 L191.74 457.55 L191.32 457.73 L190.91 457.84 L190.49 457.92 L190.08 457.95 L189.66 457.95 L189.24 457.92 L188.83 457.84 L188.41 457.73 L188.00 457.55 L187.58 457.28 L187.17 456.80 L186.75 456.80 L186.34 456.80 L185.92 456.80 L185.50 456.80 L185.09 456.80 L184.67 456.80 L184.26 456.80 L183.84 456.80 L183.43 456.80 L183.01 456.80 L182.59 458.54 L182.18 460.87 L181.76 463.56Z" fill="#6a3d9a" stroke="#1a1a1a" stroke-width="0.4"/>
<path d="M249.31 449.44 L249.70 451.97 L250.09 454.19 L250.48 455.98 L250.87 456.20 L251.26 456.20 L251.65 456.20 L252.04 456.20 L252.43 456.20 L252.82 456.20 L253.20 456.20 L253.59 456.20 L253.98 456.20 L254.37 455.80 L254.76 455.51 L255.15 455.32 L255.54 455.19 L255.93 455.11 L256.32 455.06 L256.71 455.04 L257.10 455.06 L257.49 455.10 L257.88 455.18 L258.27 455.30 L258.66 455.48 L259.05 455.75 L259.44 456.35 L259.44 456.65 L259.05 457.25 L258.66 457.52 L258.27 457.70 L257.88 457.82 L257.49 457.90 L257.10 457.94 L256.71 457.96 L256.32 457.94 L255.93 457.89 L255.54 457.81 L255.15 457.68 L254.76 457.49 L254.37 457.20 L253.98 456.80 L253.59 456.80 L253.20 456.80 L252.82 456.80 L252.43 456.80 L252.04 456.80 L251.65 456.80 L251.26 456.80 L250.87 456.80 L250.48 457.02 L250.09 458.81 L249.70 461.03 L249.31 463.56Z" fill="#6a3d9a" stroke="#1a1a1a" stroke-width="0.4"/>
<path d="M384.40 449.84 L384.81 452.37 L385.23 454.58 L385.64 456.20 L386.06 456.20 L386.48 456.20 L386.89 456.20 L387.31 456.20 L387.72 455.87 L388.14 455.57 L388.55 455.31 L388.97 455.06 L389.39 454.82 L389.80 454.60 L390.22 454.38 L390.63 454.18 L391.05 453.97 L391.46 454.07 L391.88 454.28 L392.30 454.49 L392.71 454.71 L393.13 454.94 L393.54 455.18 L393.96 455.44 L394.37 455.71 L394.79 456.03 L395.21 456.35 L395.21 456.65 L394.79 456.97 L394.37 457.29 L393.96 457.56 L393.54 457.82 L393.13 458.06 L392.71 458.29 L392.30 458.51 L391.88 458.72 L391.46 458.93 L391.05 459.03 L390.63 458.82 L390.22 458.62 L389.80 458.40 L389.39 458.18 L388.97 457.94 L388.55 457.69 L388.14 457.43 L387.72 457.13 L387.31 456.80 L386.89 456.80 L386.48 456.80 L386.06 456.80 L385.64 456.80 L385.23 458.42 L384.81 460.63 L384.40 463.16Z" fill="#6a3d9a" stroke="#1a1a1a" stroke-width="0.4"/>
<path d="M397.91 449.84 L398.32 452.37 L398.74 454.58 L399.15 456.20 L399.57 456.20 L399.99 456.20 L400.40 456.20 L400.82 456.20 L401.23 455.87 L401.65 455.57 L402.06 455.31 L402.48 455.06 L402.89 454.82 L403.31 454.60 L403.73 454.38 L404.14 454.18 L404.56 453.97 L404.97 454.07 L405.39 454.28 L405.80 454.49 L406.22 454.71 L406.64 454.94 L407.05 455.18 L407.47 455.44 L407.88 455.71 L408.30 456.03 L408.71 456.35 L408.71 456.65 L408.30 456.97 L407.88 457.29 L407.47 457.56 L407.05 457.82 L406.64 458.06 L406.22 458.29 L405.80 458.51 L405.39 458.72 L404.97 458.93 L404.56 459.03 L404.14 458.82 L403.73 458.62 L403.31 458.40 L402.89 458.18 L402.48 457.94 L402.06 457.69 L401.65 457.43 L401.23 457.13 L400.82 456.80 L400.40 456.80 L399.99 456.80 L399.57 456.80 L399.15 456.80 L398.74 458.42 L398.32 460.63 L397.91 463.16Z" fill="#6a3d9a" stroke="#1a1a1a" stroke-width="0.4"/>
<path d="M411.42 449.84 L411.83 452.37 L412.25 454.58 L412.66 456.20 L413.08 456.20 L413.49 456.20 L413.91 456.20 L414.33 455.79 L414.74 455.31 L415.16 455.00 L415.57 454.78 L415.99 454.61 L416.40 454.48 L416.82 454.39 L417.24 454.32 L417.65 454.28 L418.07 454.26 L418.48 454.27 L418.90 454.30 L419.31 454.35 L419.73 454.43 L420.14 454.54 L420.56 454.69 L420.98 454.88 L421.39 455.14 L421.81 455.51 L422.22 456.35 L422.22 456.65 L421.81 457.49 L421.39 457.86 L420.98 458.12 L420.56 458.31 L420.14 458.46 L419.73 458.57 L419.31 458.65 L418.90 458.70 L418.48 458.73 L418.07 458.74 L417.65 458.72 L417.24 458.68 L416.82 458.61 L416.40 458.52 L415.99 458.39 L415.57 458.22 L415.16 458.00 L414.74 457.69 L414.33 457.21 L413.91 456.80 L413.49 456.80 L413.08 456.80 L412.66 456.80 L412.25 458.42 L411.83 460.63 L411.42 463.16Z" fill="#6a3d9a" stroke="#1a1a1a" stroke-width="0.4"/>
<path d="M87.2 469.5h10.8M100.7 469.5h9.5M114.2 469.5h10.8M127.7 469.5h10.1M141.2 469.5h10.8M154.7 469.5h10.1M168.3 469.5h10.8M181.8 469.5h7.4M195.3 469.5h6.1M208.8 469.5h6.1M222.3 469.5h2.0M235.8 469.5h7.4M249.3 469.5h6.1M262.8 469.5h10.8M276.3 469.5h10.8M289.8 469.5h1.4M303.3 469.5h1.4M316.9 469.5h8.1M330.4 469.5h10.8M343.9 469.5h10.8M357.4 469.5h10.8M370.9 469.5h10.8M384.4 469.5h6.1M397.9 469.5h5.4M411.4 469.5h2.7M424.9 469.5h7.4M438.4 469.5h6.1M451.9 469.5h6.8M465.5 469.5h10.1M479.0 469.5h12.2M492.5 469.5h12.2M506.0 469.5h11.5M519.5 469.5h10.1M533.0 469.5h9.5M546.5 469.5h12.2M560.0 469.5h8.1M587.0 469.5h8.1M600.5 469.5h8.1M614.1 469.5h10.1M627.6 469.5h11.5M641.1 469.5h10.1M654.6 469.5h10.8M668.1 469.5h9.5" stroke="#8f8f8f" stroke-width="0.9" fill="none"/>
<path d="M114.22 465.69 L114.60 467.02 L114.98 468.20 L115.36 469.15 L115.74 469.20 L116.11 469.20 L116.49 469.20 L116.87 469.20 L117.25 469.20 L117.63 469.20 L118.01 469.20 L118.39 469.20 L118.77 469.20 L119.15 469.20 L119.53 469.20 L119.91 469.20 L120.29 469.20 L120.67 469.20 L121.05 469.20 L121.42 469.20 L121.80 469.20 L122.18 468.91 L122.56 468.68 L122.94 468.61 L123.32 468.64 L123.70 468.82 L124.08 469.35 L124.08 469.65 L123.70 470.18 L123.32 470.36 L122.94 470.39 L122.56 470.32 L122.18 470.09 L121.80 469.80 L121.42 469.80 L121.05 469.80 L120.67 469.80 L120.29 469.80 L119.91 469.80 L119.53 469.80 L119.15 469.80 L118.77 469.80 L118.39 469.80 L118.01 469.80 L117.63 469.80 L117.25 469.80 L116.87 469.80 L116.49 469.80 L116.11 469.80 L115.74 469.80 L115.36 469.85 L114.98 470.80 L114.60 471.98 L114.22 473.31Z" fill="#fb9a99" stroke="#1a1a1a" stroke-width="0.4"/>
<path d="M141.24 464.74 L141.27 464.88 L141.30 465.02 L141.33 465.16 L141.36 465.30 L141.39 465.44 L141.42 465.58 L141.45 465.71 L141.49 465.85 L141.52 465.98 L141.55 466.12 L141.58 466.25 L141.61 466.38 L141.64 466.51 L141.67 466.63 L141.70 466.76 L141.73 466.89 L141.77 467.01 L141.80 467.13 L141.83 467.25 L141.86 467.37 L141.89 467.49 L141.92 467.61 L141.95 467.72 L141.98 467.83 L142.02 467.94 L142.05 469.35 L142.05 469.65 L142.02 471.06 L141.98 471.17 L141.95 471.28 L141.92 471.39 L141.89 471.51 L141.86 471.63 L141.83 471.75 L141.80 471.87 L141.77 471.99 L141.73 472.11 L141.70 472.24 L141.67 472.37 L141.64 472.49 L141.61 472.62 L141.58 472.75 L141.55 472.88 L141.52 473.02 L141.49 473.15 L141.45 473.29 L141.42 473.42 L141.39 473.56 L141.36 473.70 L141.33 473.84 L141.30 473.98 L141.27 474.12 L141.24 474.26Z" fill="#fb9a99" stroke="#1a1a1a" stroke-width="0.4"/>
<path d="M168.25 465.69 L168.29 465.81 L168.32 465.92 L168.35 466.03 L168.38 466.14 L168.41 466.25 L168.44 466.36 L168.47 466.47 L168.50 466.58 L168.53 466.69 L168.57 466.79 L168.60 466.90 L168.63 467.00 L168.66 467.10 L168.69 467.21 L168.72 467.31 L168.75 467.41 L168.78 467.51 L168.82 467.60 L168.85 467.70 L168.88 467.80 L168.91 467.89 L168.94 467.98 L168.97 468.08 L169.00 468.17 L169.03 468.26 L169.06 469.35 L169.06 469.65 L169.03 470.74 L169.00 470.83 L168.97 470.92 L168.94 471.02 L168.91 471.11 L168.88 471.20 L168.85 471.30 L168.82 471.40 L168.78 471.49 L168.75 471.59 L168.72 471.69 L168.69 471.79 L168.66 471.90 L168.63 472.00 L168.60 472.10 L168.57 472.21 L168.53 472.31 L168.50 472.42 L168.47 472.53 L168.44 472.64 L168.41 472.75 L168.38 472.86 L168.35 472.97 L168.32 473.08 L168.29 473.19 L168.25 473.31Z" fill="#fb9a99" stroke="#1a1a1a" stroke-width="0.4"/>
<path d="M262.82 464.74 L263.02 465.67 L263.23 466.55 L263.44 467.37 L263.65 468.13 L263.86 468.79 L264.06 469.20 L264.27 469.20 L264.48 469.20 L264.69 469.20 L264.90 469.20 L265.10 469.20 L265.31 469.20 L265.52 469.20 L265.73 469.02 L265.93 468.85 L266.14 468.74 L266.35 468.67 L266.56 468.63 L266.77 468.61 L266.97 468.61 L267.18 468.63 L267.39 468.67 L267.60 468.74 L267.80 468.85 L268.01 469.02 L268.22 469.35 L268.22 469.65 L268.01 469.98 L267.80 470.15 L267.60 470.26 L267.39 470.33 L267.18 470.37 L266.97 470.39 L266.77 470.39 L266.56 470.37 L266.35 470.33 L266.14 470.26 L265.93 470.15 L265.73 469.98 L265.52 469.80 L265.31 469.80 L265.10 469.80 L264.90 469.80 L264.69 469.80 L264.48 469.80 L264.27 469.80 L264.06 469.80 L263.86 470.21 L263.65 470.87 L263.44 471.63 L263.23 472.45 L263.02 473.33 L262.82 474.26Z" fill="#fb9a99" stroke="#1a1a1a" stroke-width="0.4"/>
<path d="M330.36 464.74 L330.73 466.33 L331.09 467.76 L331.45 468.94 L331.82 469.20 L332.18 468.83 L332.54 468.48 L332.91 468.16 L333.27 467.86 L333.64 467.58 L334.00 467.31 L334.36 467.06 L334.73 466.81 L335.09 466.57 L335.45 466.34 L335.82 466.17 L336.18 466.40 L336.54 466.64 L336.91 466.88 L337.27 467.13 L337.64 467.39 L338.00 467.66 L338.36 467.94 L338.73 468.24 L339.09 468.57 L339.45 468.95 L339.82 469.35 L339.82 469.65 L339.45 470.05 L339.09 470.43 L338.73 470.76 L338.36 471.06 L338.00 471.34 L337.64 471.61 L337.27 471.87 L336.91 472.12 L336.54 472.36 L336.18 472.60 L335.82 472.83 L335.45 472.66 L335.09 472.43 L334.73 472.19 L334.36 471.94 L334.00 471.69 L333.64 471.42 L333.27 471.14 L332.91 470.84 L332.54 470.52 L332.18 470.17 L331.82 469.80 L331.45 470.06 L331.09 471.24 L330.73 472.67 L330.36 474.26Z" fill="#fb9a99" stroke="#1a1a1a" stroke-width="0.4"/>
<path d="M343.87 464.74 L344.09 465.71 L344.31 466.63 L344.53 467.49 L344.74 468.27 L344.96 468.94 L345.18 469.20 L345.40 469.20 L345.62 469.20 L345.84 469.20 L346.05 469.20 L346.27 469.20 L346.49 469.08 L346.71 468.91 L346.93 468.79 L347.14 468.71 L347.36 468.66 L347.58 468.62 L347.80 468.61 L348.02 468.61 L348.24 468.62 L348.45 468.65 L348.67 468.71 L348.89 468.78 L349.11 468.89 L349.33 469.05 L349.54 469.35 L349.54 469.65 L349.33 469.95 L349.11 470.11 L348.89 470.22 L348.67 470.29 L348.45 470.35 L348.24 470.38 L348.02 470.39 L347.80 470.39 L347.58 470.38 L347.36 470.34 L347.14 470.29 L346.93 470.21 L346.71 470.09 L346.49 469.92 L346.27 469.80 L346.05 469.80 L345.84 469.80 L345.62 469.80 L345.40 469.80 L345.18 469.80 L344.96 470.06 L344.74 470.73 L344.53 471.51 L344.31 472.37 L344.09 473.29 L343.87 474.26Z" fill="#fb9a99" stroke="#1a1a1a" stroke-width="0.4"/>
<path d="M357.38 464.74 L357.60 465.71 L357.82 466.63 L358.03 467.49 L358.25 468.27 L358.47 468.94 L358.69 469.20 L358.91 469.20 L359.13 469.20 L359.34 469.20 L359.56 469.20 L359.78 469.20 L360.00 469.08 L360.22 468.91 L360.44 468.79 L360.65 468.71 L360.87 468.66 L361.09 468.62 L361.31 468.61 L361.53 468.61 L361.74 468.62 L361.96 468.65 L362.18 468.71 L362.40 468.78 L362.62 468.89 L362.84 469.05 L363.05 469.35 L363.05 469.65 L362.84 469.95 L362.62 470.11 L362.40 470.22 L362.18 470.29 L361.96 470.35 L361.74 470.38 L361.53 470.39 L361.31 470.39 L361.09 470.38 L360.87 470.34 L360.65 470.29 L360.44 470.21 L360.22 470.09 L360.00 469.92 L359.78 469.80 L359.56 469.80 L359.34 469.80 L359.13 469.80 L358.91 469.80 L358.69 469.80 L358.47 470.06 L358.25 470.73 L358.03 471.51 L357.82 472.37 L357.60 473.29 L357.38 474.26Z" fill="#fb9a99" stroke="#1a1a1a" stroke-width="0.4"/>
<path d="M370.89 464.74 L371.04 465.44 L371.20 466.12 L371.36 466.76 L371.51 467.37 L371.67 467.94 L371.82 468.47 L371.98 468.94 L372.14 469.20 L372.29 469.20 L372.45 469.02 L372.60 468.89 L372.76 468.79 L372.92 468.72 L373.07 468.67 L373.23 468.64 L373.38 468.61 L373.54 468.60 L373.69 468.61 L373.85 468.62 L374.01 468.65 L374.16 468.69 L374.32 468.74 L374.47 468.82 L374.63 468.93 L374.79 469.08 L374.94 469.35 L374.94 469.65 L374.79 469.92 L374.63 470.07 L374.47 470.18 L374.32 470.26 L374.16 470.31 L374.01 470.35 L373.85 470.38 L373.69 470.39 L373.54 470.40 L373.38 470.39 L373.23 470.36 L373.07 470.33 L372.92 470.28 L372.76 470.21 L372.60 470.11 L372.45 469.98 L372.29 469.80 L372.14 469.80 L371.98 470.06 L371.82 470.53 L371.67 471.06 L371.51 471.63 L371.36 472.24 L371.20 472.88 L371.04 473.56 L370.89 474.26Z" fill="#fb9a99" stroke="#1a1a1a" stroke-width="0.4"/>
<path d="M87.2 481.5h11.5M100.7 481.5h10.1M114.2 481.5h10.1M127.7 481.5h10.1M141.2 481.5h10.1M154.7 481.5h10.1M168.3 481.5h8.8M181.8 481.5h10.8M195.3 481.5h4.1M208.8 481.5h3.4M235.8 481.5h5.4M249.3 481.5h5.4M262.8 481.5h10.8M276.3 481.5h10.8M289.8 481.5h10.8M303.3 481.5h10.8M316.9 481.5h10.8M330.4 481.5h6.8M343.9 481.5h6.1M357.4 481.5h6.1M370.9 481.5h0.7M384.4 481.5h3.4M397.9 481.5h2.0M424.9 481.5h2.0M438.4 481.5h4.7M451.9 481.5h6.8M479.0 481.5h4.1M492.5 481.5h11.5M506.0 481.5h8.8M533.0 481.5h5.4M546.5 481.5h2.0M560.0 481.5h10.8M573.5 481.5h8.1M587.0 481.5h4.1M600.5 481.5h6.1M614.1 481.5h4.1M627.6 481.5h7.4M641.1 481.5h7.4M654.6 481.5h6.8M668.1 481.5h2.7" stroke="#383838" stroke-width="0.9" fill="none"/>
<path d="M181.76 475.79 L182.18 477.96 L182.59 479.85 L183.01 481.20 L183.43 481.20 L183.84 481.20 L184.26 481.20 L184.67 481.20 L185.09 481.20 L185.50 481.20 L185.92 481.20 L186.34 480.81 L186.75 480.43 L187.17 480.09 L187.58 479.78 L188.00 479.48 L188.41 479.20 L188.83 478.93 L189.24 478.73 L189.66 479.00 L190.08 479.27 L190.49 479.55 L190.91 479.85 L191.32 480.17 L191.74 480.52 L192.15 480.92 L192.57 481.35 L192.57 481.65 L192.15 482.08 L191.74 482.48 L191.32 482.83 L190.91 483.15 L190.49 483.45 L190.08 483.73 L189.66 484.00 L189.24 484.27 L188.83 484.07 L188.41 483.80 L188.00 483.52 L187.58 483.22 L187.17 482.91 L186.75 482.57 L186.34 482.19 L185.92 481.80 L185.50 481.80 L185.09 481.80 L184.67 481.80 L184.26 481.80 L183.84 481.80 L183.43 481.80 L183.01 481.80 L182.59 483.15 L182.18 485.04 L181.76 487.21Z" fill="#b15928" stroke="#1a1a1a" stroke-width="0.4"/>
<path d="M262.82 475.79 L263.28 478.21 L263.75 479.09 L264.22 479.16 L264.69 479.28 L265.16 479.44 L265.62 479.66 L266.09 479.96 L266.56 480.37 L267.03 480.98 L267.49 480.04 L267.96 479.28 L268.43 478.60 L268.90 477.97 L269.36 477.38 L269.83 476.81 L270.30 476.26 L270.77 475.74 L271.23 475.91 L271.70 476.44 L272.17 476.99 L272.64 477.57 L273.10 478.18 L273.57 478.82 L274.04 479.52 L274.51 480.32 L274.98 481.35 L274.98 481.65 L274.51 482.68 L274.04 483.48 L273.57 484.18 L273.10 484.82 L272.64 485.43 L272.17 486.01 L271.70 486.56 L271.23 487.09 L270.77 487.26 L270.30 486.74 L269.83 486.19 L269.36 485.62 L268.90 485.03 L268.43 484.40 L267.96 483.72 L267.49 482.96 L267.03 482.02 L266.56 482.63 L266.09 483.04 L265.62 483.34 L265.16 483.56 L264.69 483.72 L264.22 483.84 L263.75 483.91 L263.28 484.79 L262.82 487.21Z" fill="#b15928" stroke="#1a1a1a" stroke-width="0.4"/>
<path d="M276.33 475.79 L276.79 478.21 L277.26 479.09 L277.73 479.16 L278.20 479.28 L278.66 479.44 L279.13 479.66 L279.60 479.96 L280.07 480.37 L280.53 480.98 L281.00 480.04 L281.47 479.28 L281.94 478.60 L282.41 477.97 L282.87 477.38 L283.34 476.81 L283.81 476.26 L284.28 475.74 L284.74 475.91 L285.21 476.44 L285.68 476.99 L286.15 477.57 L286.61 478.18 L287.08 478.82 L287.55 479.52 L288.02 480.32 L288.48 481.35 L288.48 481.65 L288.02 482.68 L287.55 483.48 L287.08 484.18 L286.61 484.82 L286.15 485.43 L285.68 486.01 L285.21 486.56 L284.74 487.09 L284.28 487.26 L283.81 486.74 L283.34 486.19 L282.87 485.62 L282.41 485.03 L281.94 484.40 L281.47 483.72 L281.00 482.96 L280.53 482.02 L280.07 482.63 L279.60 483.04 L279.13 483.34 L278.66 483.56 L278.20 483.72 L277.73 483.84 L277.26 483.91 L276.79 484.79 L276.33 487.21Z" fill="#b15928" stroke="#1a1a1a" stroke-width="0.4"/>
<path d="M289.83 475.79 L290.29 478.16 L290.75 478.76 L291.21 478.84 L291.66 478.96 L292.12 479.14 L292.58 479.37 L293.04 479.05 L293.49 478.53 L293.95 478.05 L294.41 477.58 L294.86 477.13 L295.32 476.70 L295.78 476.28 L296.24 475.87 L296.69 475.65 L297.15 476.06 L297.61 476.47 L298.07 476.90 L298.52 477.34 L298.98 477.79 L299.44 478.26 L299.89 478.76 L300.35 479.29 L300.81 479.87 L301.27 480.53 L301.72 481.35 L301.72 481.65 L301.27 482.47 L300.81 483.13 L300.35 483.71 L299.89 484.24 L299.44 484.74 L298.98 485.21 L298.52 485.66 L298.07 486.10 L297.61 486.53 L297.15 486.94 L296.69 487.35 L296.24 487.13 L295.78 486.72 L295.32 486.30 L294.86 485.87 L294.41 485.42 L293.95 484.95 L293.49 484.47 L293.04 483.95 L292.58 483.63 L292.12 483.86 L291.66 484.04 L291.21 484.16 L290.75 484.24 L290.29 484.84 L289.83 487.21Z" fill="#b15928" stroke="#1a1a1a" stroke-width="0.4"/>
<path d="M303.34 475.79 L303.80 478.16 L304.26 478.76 L304.72 478.84 L305.17 478.96 L305.63 479.14 L306.09 479.37 L306.54 479.05 L307.00 478.53 L307.46 478.05 L307.92 477.58 L308.37 477.13 L308.83 476.70 L309.29 476.28 L309.75 475.87 L310.20 475.65 L310.66 476.06 L311.12 476.47 L311.57 476.90 L312.03 477.34 L312.49 477.79 L312.95 478.26 L313.40 478.76 L313.86 479.29 L314.32 479.87 L314.77 480.53 L315.23 481.35 L315.23 481.65 L314.77 482.47 L314.32 483.13 L313.86 483.71 L313.40 484.24 L312.95 484.74 L312.49 485.21 L312.03 485.66 L311.57 486.10 L311.12 486.53 L310.66 486.94 L310.20 487.35 L309.75 487.13 L309.29 486.72 L308.83 486.30 L308.37 485.87 L307.92 485.42 L307.46 484.95 L307.00 484.47 L306.54 483.95 L306.09 483.63 L305.63 483.86 L305.17 484.04 L304.72 484.16 L304.26 484.24 L303.80 484.84 L303.34 487.21Z" fill="#b15928" stroke="#1a1a1a" stroke-width="0.4"/>
<path d="M316.85 475.79 L317.27 477.96 L317.68 479.85 L318.10 481.20 L318.52 481.02 L318.93 480.78 L319.35 480.62 L319.76 480.50 L320.18 480.41 L320.59 480.33 L321.01 480.27 L321.43 480.23 L321.84 480.19 L322.26 480.17 L322.67 480.16 L323.09 480.16 L323.50 480.17 L323.92 480.19 L324.33 480.22 L324.75 480.26 L325.17 480.32 L325.58 480.39 L326.00 480.48 L326.41 480.59 L326.83 480.74 L327.24 480.95 L327.66 481.35 L327.66 481.65 L327.24 482.05 L326.83 482.26 L326.41 482.41 L326.00 482.52 L325.58 482.61 L325.17 482.68 L324.75 482.74 L324.33 482.78 L323.92 482.81 L323.50 482.83 L323.09 482.84 L322.67 482.84 L322.26 482.83 L321.84 482.81 L321.43 482.77 L321.01 482.73 L320.59 482.67 L320.18 482.59 L319.76 482.50 L319.35 482.38 L318.93 482.22 L318.52 481.98 L318.10 481.80 L317.68 483.15 L317.27 485.04 L316.85 487.21Z" fill="#b15928" stroke="#1a1a1a" stroke-width="0.4"/>
<path d="M560.01 475.79 L560.31 477.36 L560.61 478.80 L560.90 480.08 L561.20 481.13 L561.50 481.20 L561.79 481.20 L562.09 480.91 L562.38 480.54 L562.68 480.21 L562.98 479.91 L563.27 479.62 L563.57 479.35 L563.87 479.09 L564.16 478.84 L564.46 478.59 L564.75 478.37 L565.05 478.61 L565.35 478.85 L565.64 479.11 L565.94 479.37 L566.23 479.64 L566.53 479.93 L566.83 480.23 L567.12 480.56 L567.42 480.94 L567.72 481.35 L567.72 481.65 L567.42 482.06 L567.12 482.44 L566.83 482.77 L566.53 483.07 L566.23 483.36 L565.94 483.63 L565.64 483.89 L565.35 484.15 L565.05 484.39 L564.75 484.63 L564.46 484.41 L564.16 484.16 L563.87 483.91 L563.57 483.65 L563.27 483.38 L562.98 483.09 L562.68 482.79 L562.38 482.46 L562.09 482.09 L561.79 481.80 L561.50 481.80 L561.20 481.87 L560.90 482.92 L560.61 484.20 L560.31 485.64 L560.01 487.21Z" fill="#b15928" stroke="#1a1a1a" stroke-width="0.4"/>
<path d="M87.2 494.5h10.8M100.7 494.5h10.8M114.2 494.5h10.8M127.7 494.5h10.8M141.2 494.5h10.8M154.7 494.5h10.8M168.3 494.5h10.8M181.8 494.5h8.1M195.3 494.5h10.8M208.8 494.5h10.8M222.3 494.5h10.8M235.8 494.5h10.1M249.3 494.5h10.8M262.8 494.5h10.8M276.3 494.5h10.8M289.8 494.5h11.5M303.3 494.5h11.5M316.9 494.5h11.5M330.4 494.5h7.4M343.9 494.5h8.1M357.4 494.5h9.5M370.9 494.5h8.1M384.4 494.5h7.4M397.9 494.5h6.8M411.4 494.5h7.4M424.9 494.5h8.8M438.4 494.5h7.4M451.9 494.5h7.4M465.5 494.5h10.8M479.0 494.5h10.8M492.5 494.5h11.5M506.0 494.5h10.1M519.5 494.5h10.1M533.0 494.5h11.5M546.5 494.5h12.2M560.0 494.5h7.4M573.5 494.5h13.5M587.0 494.5h13.5M600.5 494.5h13.5M627.6 494.5h12.8M641.1 494.5h12.8M654.6 494.5h12.8M668.1 494.5h5.4" stroke="#383838" stroke-width="0.9" fill="none"/>
<path d="M249.31 487.84 L249.70 490.22 L250.09 492.32 L250.48 494.01 L250.87 494.20 L251.26 494.20 L251.65 494.20 L252.04 494.20 L252.43 494.20 L252.82 494.20 L253.20 494.20 L253.59 494.20 L253.98 494.20 L254.37 493.96 L254.76 493.74 L255.15 493.59 L255.54 493.50 L255.93 493.43 L256.32 493.39 L256.71 493.38 L257.10 493.39 L257.49 493.42 L257.88 493.49 L258.27 493.58 L258.66 493.71 L259.05 493.92 L259.44 494.35 L259.44 494.65 L259.05 495.08 L258.66 495.29 L258.27 495.42 L257.88 495.51 L257.49 495.58 L257.10 495.61 L256.71 495.62 L256.32 495.61 L255.93 495.57 L255.54 495.50 L255.15 495.41 L254.76 495.26 L254.37 495.04 L253.98 494.80 L253.59 494.80 L253.20 494.80 L252.82 494.80 L252.43 494.80 L252.04 494.80 L251.65 494.80 L251.26 494.80 L250.87 494.80 L250.48 494.99 L250.09 496.68 L249.70 498.78 L249.31 501.16Z" fill="#ff7f00" stroke="#1a1a1a" stroke-width="0.4"/>
<path d="M262.82 487.84 L263.28 490.66 L263.75 492.31 L264.22 492.37 L264.69 492.48 L265.16 492.63 L265.62 492.83 L266.09 493.10 L266.56 493.47 L267.03 494.10 L267.49 494.20 L267.96 493.36 L268.43 492.70 L268.90 492.11 L269.36 491.57 L269.83 491.05 L270.30 490.57 L270.77 490.10 L271.23 489.72 L271.70 490.18 L272.17 490.65 L272.64 491.14 L273.10 491.66 L273.57 492.21 L274.04 492.81 L274.51 493.50 L274.98 494.35 L274.98 494.65 L274.51 495.50 L274.04 496.19 L273.57 496.79 L273.10 497.34 L272.64 497.86 L272.17 498.35 L271.70 498.82 L271.23 499.28 L270.77 498.90 L270.30 498.43 L269.83 497.95 L269.36 497.43 L268.90 496.89 L268.43 496.30 L267.96 495.64 L267.49 494.80 L267.03 494.90 L266.56 495.53 L266.09 495.90 L265.62 496.17 L265.16 496.37 L264.69 496.52 L264.22 496.63 L263.75 496.69 L263.28 498.34 L262.82 501.16Z" fill="#ff7f00" stroke="#1a1a1a" stroke-width="0.4"/>
<path d="M276.33 487.84 L276.79 490.66 L277.26 492.31 L277.73 492.37 L278.20 492.48 L278.66 492.63 L279.13 492.83 L279.60 493.10 L280.07 493.47 L280.53 494.01 L281.00 493.12 L281.47 492.41 L281.94 491.76 L282.41 491.17 L282.87 490.61 L283.34 490.07 L283.81 489.56 L284.28 489.06 L284.74 489.23 L285.21 489.73 L285.68 490.25 L286.15 490.79 L286.61 491.36 L287.08 491.97 L287.55 492.64 L288.02 493.39 L288.48 494.35 L288.48 494.65 L288.02 495.61 L287.55 496.36 L287.08 497.03 L286.61 497.64 L286.15 498.21 L285.68 498.75 L285.21 499.27 L284.74 499.77 L284.28 499.94 L283.81 499.44 L283.34 498.93 L282.87 498.39 L282.41 497.83 L281.94 497.24 L281.47 496.59 L281.00 495.88 L280.53 494.99 L280.07 495.53 L279.60 495.90 L279.13 496.17 L278.66 496.37 L278.20 496.52 L277.73 496.63 L277.26 496.69 L276.79 498.34 L276.33 501.16Z" fill="#ff7f00" stroke="#1a1a1a" stroke-width="0.4"/>
<path d="M87.2 506.5h10.8M100.7 506.5h10.8M114.2 506.5h10.8M127.7 506.5h10.8M141.2 506.5h10.8M154.7 506.5h10.8M168.3 506.5h10.8M181.8 506.5h10.8M195.3 506.5h10.8M208.8 506.5h10.8M222.3 506.5h10.8M235.8 506.5h8.1M249.3 506.5h8.1M262.8 506.5h8.1M276.3 506.5h6.1M289.8 506.5h6.8M303.3 506.5h7.7M330.4 506.5h11.8M343.9 506.5h13.5M357.4 506.5h13.5M370.9 506.5h11.3M384.4 506.5h6.1M397.9 506.5h8.8M411.4 506.5h7.4M424.9 506.5h7.4M438.4 506.5h6.1M451.9 506.5h6.1M465.5 506.5h9.5M479.0 506.5h9.5M492.5 506.5h10.1M506.0 506.5h10.1M519.5 506.5h9.5M533.0 506.5h11.5M546.5 506.5h11.5M560.0 506.5h6.8M573.5 506.5h6.8M587.0 506.5h5.4M600.5 506.5h8.1M614.1 506.5h5.4M627.6 506.5h8.1M641.1 506.5h5.4M654.6 506.5h6.1M668.1 506.5h8.1" stroke="#8f8f8f" stroke-width="0.9" fill="none"/>
<path d="M181.76 501.74 L182.13 503.33 L182.49 504.76 L182.85 505.94 L183.22 506.20 L183.58 506.20 L183.95 506.20 L184.31 506.20 L184.67 506.15 L185.04 505.76 L185.40 505.43 L185.76 505.13 L186.13 504.85 L186.49 504.59 L186.85 504.34 L187.22 504.10 L187.58 503.86 L187.95 503.76 L188.31 504.00 L188.67 504.23 L189.04 504.48 L189.40 504.74 L189.76 505.01 L190.13 505.30 L190.49 505.61 L190.86 505.97 L191.22 506.35 L191.22 506.65 L190.86 507.03 L190.49 507.39 L190.13 507.70 L189.76 507.99 L189.40 508.26 L189.04 508.52 L188.67 508.77 L188.31 509.00 L187.95 509.24 L187.58 509.14 L187.22 508.90 L186.85 508.66 L186.49 508.41 L186.13 508.15 L185.76 507.87 L185.40 507.57 L185.04 507.24 L184.67 506.85 L184.31 506.80 L183.95 506.80 L183.58 506.80 L183.22 506.80 L182.85 507.06 L182.49 508.24 L182.13 509.67 L181.76 511.26Z" fill="#b2df8a" stroke="#1a1a1a" stroke-width="0.4"/>
<path d="M195.27 501.74 L195.64 503.33 L196.00 504.76 L196.36 505.94 L196.73 506.20 L197.09 506.20 L197.45 506.20 L197.82 506.20 L198.18 506.20 L198.55 505.85 L198.91 505.56 L199.27 505.30 L199.64 505.05 L200.00 504.82 L200.36 504.60 L200.73 504.39 L201.09 504.18 L201.45 504.09 L201.82 504.30 L202.18 504.51 L202.55 504.72 L202.91 504.95 L203.27 505.19 L203.64 505.44 L204.00 505.72 L204.36 506.04 L204.73 506.35 L204.73 506.65 L204.36 506.96 L204.00 507.28 L203.64 507.56 L203.27 507.81 L202.91 508.05 L202.55 508.28 L202.18 508.49 L201.82 508.70 L201.45 508.91 L201.09 508.82 L200.73 508.61 L200.36 508.40 L200.00 508.18 L199.64 507.95 L199.27 507.70 L198.91 507.44 L198.55 507.15 L198.18 506.80 L197.82 506.80 L197.45 506.80 L197.09 506.80 L196.73 506.80 L196.36 507.06 L196.00 508.24 L195.64 509.67 L195.27 511.26Z" fill="#b2df8a" stroke="#1a1a1a" stroke-width="0.4"/>
<path d="M208.78 501.74 L209.20 503.55 L209.61 505.13 L210.03 506.20 L210.44 506.20 L210.86 506.20 L211.27 506.20 L211.69 506.20 L212.11 506.20 L212.52 506.20 L212.94 506.20 L213.35 505.81 L213.77 505.43 L214.18 505.09 L214.60 504.78 L215.02 504.48 L215.43 504.20 L215.85 503.93 L216.26 503.73 L216.68 504.00 L217.09 504.27 L217.51 504.55 L217.93 504.85 L218.34 505.17 L218.76 505.52 L219.17 505.92 L219.59 506.35 L219.59 506.65 L219.17 507.08 L218.76 507.48 L218.34 507.83 L217.93 508.15 L217.51 508.45 L217.09 508.73 L216.68 509.00 L216.26 509.27 L215.85 509.07 L215.43 508.80 L215.02 508.52 L214.60 508.22 L214.18 507.91 L213.77 507.57 L213.35 507.19 L212.94 506.80 L212.52 506.80 L212.11 506.80 L211.69 506.80 L211.27 506.80 L210.86 506.80 L210.44 506.80 L210.03 506.80 L209.61 507.87 L209.20 509.45 L208.78 511.26Z" fill="#b2df8a" stroke="#1a1a1a" stroke-width="0.4"/>
<path d="M222.29 501.74 L222.71 503.55 L223.12 505.13 L223.54 506.20 L223.95 506.20 L224.37 506.20 L224.78 506.20 L225.20 506.08 L225.62 505.78 L226.03 505.60 L226.45 505.47 L226.86 505.37 L227.28 505.29 L227.69 505.23 L228.11 505.19 L228.52 505.17 L228.94 505.16 L229.36 505.16 L229.77 505.18 L230.19 505.21 L230.60 505.26 L231.02 505.33 L231.43 505.41 L231.85 505.53 L232.27 505.68 L232.68 505.91 L233.10 506.35 L233.10 506.65 L232.68 507.09 L232.27 507.32 L231.85 507.47 L231.43 507.59 L231.02 507.67 L230.60 507.74 L230.19 507.79 L229.77 507.82 L229.36 507.84 L228.94 507.84 L228.52 507.83 L228.11 507.81 L227.69 507.77 L227.28 507.71 L226.86 507.63 L226.45 507.53 L226.03 507.40 L225.62 507.22 L225.20 506.92 L224.78 506.80 L224.37 506.80 L223.95 506.80 L223.54 506.80 L223.12 507.87 L222.71 509.45 L222.29 511.26Z" fill="#b2df8a" stroke="#1a1a1a" stroke-width="0.4"/>
<path d="M87.2 519.5h13.1M100.7 519.5h13.1M114.2 519.5h13.1M127.7 519.5h13.1M141.2 519.5h13.1M154.7 519.5h13.1M168.3 519.5h13.1M181.8 519.5h13.1M195.3 519.5h13.1M208.8 519.5h13.1M222.3 519.5h13.1M235.8 519.5h13.1M249.3 519.5h13.1M262.8 519.5h13.1M276.3 519.5h13.1M289.8 519.5h13.1M303.3 519.5h13.5M330.4 519.5h13.5M343.9 519.5h13.5M357.4 519.5h13.5M370.9 519.5h13.5M384.4 519.5h9.1M397.9 519.5h10.5M424.9 519.5h13.1M438.4 519.5h13.1M451.9 519.5h13.1M465.5 519.5h13.1M479.0 519.5h13.1M492.5 519.5h13.1M506.0 519.5h13.1M519.5 519.5h13.1M533.0 519.5h13.1M546.5 519.5h13.1M560.0 519.5h13.1M573.5 519.5h13.1M587.0 519.5h13.1M600.5 519.5h13.1M614.1 519.5h13.1M627.6 519.5h13.1M641.1 519.5h13.1M654.6 519.5h13.1M668.1 519.5h13.1" stroke="#383838" stroke-width="0.9" fill="none"/>
<path d="M100.71 513.79 L101.07 515.70 L101.44 517.41 L101.80 518.83 L102.16 519.20 L102.53 519.20 L102.89 519.20 L103.25 519.20 L103.62 519.20 L103.98 519.20 L104.35 519.20 L104.71 519.20 L105.07 518.72 L105.44 518.39 L105.80 518.18 L106.16 518.03 L106.53 517.92 L106.89 517.86 L107.26 517.82 L107.62 517.82 L107.98 517.85 L108.35 517.91 L108.71 518.01 L109.07 518.15 L109.44 518.35 L109.80 518.66 L110.17 519.35 L110.17 519.65 L109.80 520.34 L109.44 520.65 L109.07 520.85 L108.71 520.99 L108.35 521.09 L107.98 521.15 L107.62 521.18 L107.26 521.18 L106.89 521.14 L106.53 521.08 L106.16 520.97 L105.80 520.82 L105.44 520.61 L105.07 520.28 L104.71 519.80 L104.35 519.80 L103.98 519.80 L103.62 519.80 L103.25 519.80 L102.89 519.80 L102.53 519.80 L102.16 519.80 L101.80 520.17 L101.44 521.59 L101.07 523.30 L100.71 525.21Z" fill="#1f78b4" stroke="#1a1a1a" stroke-width="0.4"/>
<path d="M114.22 513.79 L114.58 515.70 L114.95 517.41 L115.31 518.83 L115.67 519.20 L116.04 519.20 L116.40 519.20 L116.76 519.20 L117.13 519.20 L117.49 519.20 L117.86 519.20 L118.22 519.20 L118.58 519.20 L118.95 519.20 L119.31 519.20 L119.67 519.12 L120.04 518.48 L120.40 518.18 L120.76 517.99 L121.13 517.88 L121.49 517.82 L121.86 517.83 L122.22 517.89 L122.58 518.01 L122.95 518.21 L123.31 518.54 L123.67 519.35 L123.67 519.65 L123.31 520.46 L122.95 520.79 L122.58 520.99 L122.22 521.11 L121.86 521.17 L121.49 521.18 L121.13 521.12 L120.76 521.01 L120.40 520.82 L120.04 520.52 L119.67 519.88 L119.31 519.80 L118.95 519.80 L118.58 519.80 L118.22 519.80 L117.86 519.80 L117.49 519.80 L117.13 519.80 L116.76 519.80 L116.40 519.80 L116.04 519.80 L115.67 519.80 L115.31 520.17 L114.95 521.59 L114.58 523.30 L114.22 525.21Z" fill="#1f78b4" stroke="#1a1a1a" stroke-width="0.4"/>
<path d="M141.24 513.79 L141.60 515.70 L141.96 517.41 L142.33 518.83 L142.69 519.20 L143.05 519.20 L143.42 519.20 L143.78 519.20 L144.15 519.20 L144.51 519.20 L144.87 519.20 L145.24 519.20 L145.60 519.20 L145.96 519.20 L146.33 519.20 L146.69 519.20 L147.06 518.82 L147.42 518.62 L147.78 518.49 L148.15 518.42 L148.51 518.38 L148.87 518.39 L149.24 518.43 L149.60 518.51 L149.96 518.64 L150.33 518.86 L150.69 519.35 L150.69 519.65 L150.33 520.14 L149.96 520.36 L149.60 520.49 L149.24 520.57 L148.87 520.61 L148.51 520.62 L148.15 520.58 L147.78 520.51 L147.42 520.38 L147.06 520.18 L146.69 519.80 L146.33 519.80 L145.96 519.80 L145.60 519.80 L145.24 519.80 L144.87 519.80 L144.51 519.80 L144.15 519.80 L143.78 519.80 L143.42 519.80 L143.05 519.80 L142.69 519.80 L142.33 520.17 L141.96 521.59 L141.60 523.30 L141.24 525.21Z" fill="#1f78b4" stroke="#1a1a1a" stroke-width="0.4"/>
<path d="M87.2 532.5h10.8M100.7 532.5h10.8M114.2 532.5h10.8M127.7 532.5h10.8M141.2 532.5h10.8M154.7 532.5h10.8M168.3 532.5h10.8M181.8 532.5h8.8M195.3 532.5h8.8M208.8 532.5h8.8M222.3 532.5h8.8M235.8 532.5h8.8M249.3 532.5h8.8M262.8 532.5h8.8M276.3 532.5h11.5M289.8 532.5h13.5M303.3 532.5h13.5M316.9 532.5h13.5M330.4 532.5h10.8M343.9 532.5h13.5M357.4 532.5h13.5M370.9 532.5h10.8M384.4 532.5h9.1M397.9 532.5h8.8M411.4 532.5h8.1M424.9 532.5h10.8M438.4 532.5h8.1M451.9 532.5h8.1M465.5 532.5h11.5M479.0 532.5h11.5M492.5 532.5h11.5M506.0 532.5h10.8M519.5 532.5h12.8M533.0 532.5h12.8M546.5 532.5h12.8M560.0 532.5h12.8M573.5 532.5h12.8M587.0 532.5h12.8M600.5 532.5h12.8M614.1 532.5h12.8M627.6 532.5h12.8M641.1 532.5h12.8M654.6 532.5h12.8M668.1 532.5h12.8" stroke="#383838" stroke-width="0.9" fill="none"/>
<path d="M87.20 527.74 L87.56 529.33 L87.93 530.76 L88.29 531.94 L88.65 532.12 L89.02 531.72 L89.38 531.48 L89.75 531.31 L90.11 531.18 L90.47 531.07 L90.84 530.99 L91.20 530.92 L91.56 530.88 L91.93 530.84 L92.29 530.82 L92.66 530.82 L93.02 530.83 L93.38 530.85 L93.75 530.89 L94.11 530.94 L94.47 531.01 L94.84 531.10 L95.20 531.21 L95.57 531.35 L95.93 531.54 L96.29 531.80 L96.66 532.35 L96.66 532.65 L96.29 533.20 L95.93 533.46 L95.57 533.65 L95.20 533.79 L94.84 533.90 L94.47 533.99 L94.11 534.06 L93.75 534.11 L93.38 534.15 L93.02 534.17 L92.66 534.18 L92.29 534.18 L91.93 534.16 L91.56 534.12 L91.20 534.08 L90.84 534.01 L90.47 533.93 L90.11 533.82 L89.75 533.69 L89.38 533.52 L89.02 533.28 L88.65 532.88 L88.29 533.06 L87.93 534.24 L87.56 535.67 L87.20 537.26Z" fill="#a6cee3" stroke="#1a1a1a" stroke-width="0.4"/>
<path d="M100.71 526.79 L101.12 528.96 L101.54 530.85 L101.96 532.20 L102.37 532.20 L102.79 531.93 L103.20 531.13 L103.62 530.46 L104.03 529.87 L104.45 529.32 L104.87 528.79 L105.28 528.29 L105.70 527.81 L106.11 527.35 L106.53 526.90 L106.94 526.46 L107.36 526.66 L107.78 527.10 L108.19 527.56 L108.61 528.03 L109.02 528.52 L109.44 529.02 L109.85 529.56 L110.27 530.13 L110.68 530.75 L111.10 531.46 L111.52 532.35 L111.52 532.65 L111.10 533.54 L110.68 534.25 L110.27 534.87 L109.85 535.44 L109.44 535.98 L109.02 536.48 L108.61 536.97 L108.19 537.44 L107.78 537.90 L107.36 538.34 L106.94 538.54 L106.53 538.10 L106.11 537.65 L105.70 537.19 L105.28 536.71 L104.87 536.21 L104.45 535.68 L104.03 535.13 L103.62 534.54 L103.20 533.87 L102.79 533.07 L102.37 532.80 L101.96 532.80 L101.54 534.15 L101.12 536.04 L100.71 538.21Z" fill="#a6cee3" stroke="#1a1a1a" stroke-width="0.4"/>
<path d="M114.22 526.79 L114.63 528.96 L115.05 530.85 L115.46 532.20 L115.88 532.20 L116.30 532.20 L116.71 532.20 L117.13 532.20 L117.54 532.20 L117.96 532.20 L118.37 532.09 L118.79 531.60 L119.21 531.34 L119.62 531.16 L120.04 531.02 L120.45 530.93 L120.87 530.87 L121.28 530.83 L121.70 530.82 L122.12 530.84 L122.53 530.88 L122.95 530.95 L123.36 531.05 L123.78 531.20 L124.19 531.40 L124.61 531.69 L125.03 532.35 L125.03 532.65 L124.61 533.31 L124.19 533.60 L123.78 533.80 L123.36 533.95 L122.95 534.05 L122.53 534.12 L122.12 534.16 L121.70 534.18 L121.28 534.17 L120.87 534.13 L120.45 534.07 L120.04 533.98 L119.62 533.84 L119.21 533.66 L118.79 533.40 L118.37 532.91 L117.96 532.80 L117.54 532.80 L117.13 532.80 L116.71 532.80 L116.30 532.80 L115.88 532.80 L115.46 532.80 L115.05 534.15 L114.63 536.04 L114.22 538.21Z" fill="#a6cee3" stroke="#1a1a1a" stroke-width="0.4"/>
<path d="M127.73 527.74 L127.76 527.88 L127.79 528.02 L127.82 528.16 L127.85 528.30 L127.88 528.44 L127.91 528.58 L127.95 528.71 L127.98 528.85 L128.01 528.98 L128.04 529.12 L128.07 529.25 L128.10 529.38 L128.13 529.51 L128.16 529.63 L128.19 529.76 L128.23 529.89 L128.26 530.01 L128.29 530.13 L128.32 530.25 L128.35 530.37 L128.38 530.49 L128.41 530.61 L128.44 530.72 L128.48 530.83 L128.51 530.94 L128.54 532.35 L128.54 532.65 L128.51 534.06 L128.48 534.17 L128.44 534.28 L128.41 534.39 L128.38 534.51 L128.35 534.63 L128.32 534.75 L128.29 534.87 L128.26 534.99 L128.23 535.11 L128.19 535.24 L128.16 535.37 L128.13 535.49 L128.10 535.62 L128.07 535.75 L128.04 535.88 L128.01 536.02 L127.98 536.15 L127.95 536.29 L127.91 536.42 L127.88 536.56 L127.85 536.70 L127.82 536.84 L127.79 536.98 L127.76 537.12 L127.73 537.26Z" fill="#a6cee3" stroke="#1a1a1a" stroke-width="0.4"/>
<path d="M141.24 526.79 L141.65 528.96 L142.07 530.85 L142.48 532.20 L142.90 531.99 L143.31 531.54 L143.73 531.15 L144.15 530.79 L144.56 530.46 L144.98 530.15 L145.39 529.85 L145.81 529.56 L146.22 529.28 L146.64 529.01 L147.06 528.74 L147.47 528.68 L147.89 528.94 L148.30 529.21 L148.72 529.49 L149.13 529.78 L149.55 530.07 L149.96 530.38 L150.38 530.71 L150.80 531.06 L151.21 531.44 L151.63 531.87 L152.04 532.35 L152.04 532.65 L151.63 533.13 L151.21 533.56 L150.80 533.94 L150.38 534.29 L149.96 534.62 L149.55 534.93 L149.13 535.22 L148.72 535.51 L148.30 535.79 L147.89 536.06 L147.47 536.32 L147.06 536.26 L146.64 535.99 L146.22 535.72 L145.81 535.44 L145.39 535.15 L144.98 534.85 L144.56 534.54 L144.15 534.21 L143.73 533.85 L143.31 533.46 L142.90 533.01 L142.48 532.80 L142.07 534.15 L141.65 536.04 L141.24 538.21Z" fill="#a6cee3" stroke="#1a1a1a" stroke-width="0.4"/>
<path d="M154.75 526.79 L155.11 528.70 L155.47 530.41 L155.84 531.83 L156.20 532.00 L156.56 531.46 L156.93 531.14 L157.29 530.91 L157.65 530.73 L158.02 530.59 L158.38 530.48 L158.75 530.40 L159.11 530.33 L159.47 530.29 L159.84 530.27 L160.20 530.26 L160.56 530.27 L160.93 530.30 L161.29 530.35 L161.66 530.42 L162.02 530.51 L162.38 530.63 L162.75 530.78 L163.11 530.97 L163.47 531.22 L163.84 531.57 L164.20 532.35 L164.20 532.65 L163.84 533.43 L163.47 533.78 L163.11 534.03 L162.75 534.22 L162.38 534.37 L162.02 534.49 L161.66 534.58 L161.29 534.65 L160.93 534.70 L160.56 534.73 L160.20 534.74 L159.84 534.73 L159.47 534.71 L159.11 534.67 L158.75 534.60 L158.38 534.52 L158.02 534.41 L157.65 534.27 L157.29 534.09 L156.93 533.86 L156.56 533.54 L156.20 533.00 L155.84 533.17 L155.47 534.59 L155.11 536.30 L154.75 538.21Z" fill="#a6cee3" stroke="#1a1a1a" stroke-width="0.4"/>
<path d="M168.25 527.74 L168.70 529.65 L169.14 531.30 L169.58 532.20 L170.02 532.20 L170.46 532.19 L170.90 531.94 L171.35 531.79 L171.79 531.68 L172.23 531.59 L172.67 531.53 L173.11 531.47 L173.55 531.43 L174.00 531.41 L174.44 531.39 L174.88 531.38 L175.32 531.38 L175.76 531.39 L176.20 531.42 L176.65 531.45 L177.09 531.49 L177.53 531.55 L177.97 531.63 L178.41 531.72 L178.85 531.85 L179.30 532.03 L179.74 532.35 L179.74 532.65 L179.30 532.97 L178.85 533.15 L178.41 533.28 L177.97 533.37 L177.53 533.45 L177.09 533.51 L176.65 533.55 L176.20 533.58 L175.76 533.61 L175.32 533.62 L174.88 533.62 L174.44 533.61 L174.00 533.59 L173.55 533.57 L173.11 533.53 L172.67 533.47 L172.23 533.41 L171.79 533.32 L171.35 533.21 L170.90 533.06 L170.46 532.81 L170.02 532.80 L169.58 532.80 L169.14 533.70 L168.70 535.35 L168.25 537.26Z" fill="#a6cee3" stroke="#1a1a1a" stroke-width="0.4"/>
<path d="M505.98 525.84 L506.29 527.76 L506.60 529.52 L506.91 531.06 L507.23 531.32 L507.54 531.37 L507.85 531.41 L508.16 531.45 L508.47 531.50 L508.78 531.54 L509.10 531.59 L509.41 531.63 L509.72 531.68 L510.03 531.73 L510.34 531.78 L510.66 531.82 L510.97 531.87 L511.28 531.92 L511.59 531.98 L511.90 532.03 L512.21 532.08 L512.53 532.14 L512.84 532.20 L513.15 532.20 L513.46 532.20 L513.77 532.20 L514.08 532.35 L514.08 532.65 L513.77 532.80 L513.46 532.80 L513.15 532.80 L512.84 532.80 L512.53 532.86 L512.21 532.92 L511.90 532.97 L511.59 533.02 L511.28 533.08 L510.97 533.13 L510.66 533.18 L510.34 533.22 L510.03 533.27 L509.72 533.32 L509.41 533.37 L509.10 533.41 L508.78 533.46 L508.47 533.50 L508.16 533.55 L507.85 533.59 L507.54 533.63 L507.23 533.68 L506.91 533.94 L506.60 535.48 L506.29 537.24 L505.98 539.16Z" fill="#a6cee3" stroke="#1a1a1a" stroke-width="0.4"/>
<path d="M91.6 37.5L93.8 35.3L99.6 34.6L105.5 33.4L112.8 32.6L118.6 32.8L123.0 36.1L126.6 41.9L125.2 46.3L123.0 47.0L117.2 48.5L111.3 49.2L105.5 50.7L102.6 55.0L99.6 51.4L93.8 47.7L90.9 43.4Z" fill="#6a3d9a" fill-opacity="0.6" filter="url(#bl)"/>
<path d="M107.8 44.8h0M109.4 46.5h0M95.3 40.1h0M117.5 33.3h0M114.3 46.5h0M110.0 34.4h0M90.7 43.5h0M108.4 47.0h0M109.5 38.8h0M102.1 38.0h0M118.7 41.0h0M124.1 43.0h0M93.6 46.2h0M95.1 39.8h0M95.3 38.2h0M118.7 36.3h0M98.4 49.7h0M95.2 42.6h0M101.9 53.1h0M123.1 48.2h0M98.6 37.7h0M94.1 46.6h0M104.9 42.5h0M98.5 35.3h0M99.7 35.2h0M122.1 46.3h0M99.3 49.7h0M112.7 40.1h0M92.1 37.2h0M113.3 38.6h0M107.1 34.5h0M110.4 36.6h0M115.7 45.8h0M107.0 51.4h0M93.4 43.3h0M117.7 46.9h0M104.6 47.1h0M106.4 49.6h0M112.4 40.7h0M95.2 46.9h0M116.8 40.4h0M107.8 37.0h0M101.8 48.2h0M102.8 48.2h0M121.8 40.9h0M96.5 42.6h0M100.2 36.5h0M98.0 41.3h0M102.9 51.3h0M115.8 46.5h0M120.7 38.1h0M112.7 41.8h0M114.9 37.1h0M91.2 42.7h0M100.3 39.5h0M105.2 50.2h0M94.4 41.7h0M105.3 44.5h0M124.4 42.6h0M114.2 50.2h0M102.7 52.5h0M92.7 42.1h0M108.4 33.0h0M118.9 37.5h0M94.8 35.8h0M125.0 43.5h0M98.5 45.5h0M114.2 43.6h0M102.9 39.9h0M125.1 44.1h0M109.9 43.8h0M124.5 44.9h0M110.9 43.4h0M111.7 41.4h0M101.0 43.7h0M108.3 40.6h0M118.9 33.5h0M114.9 40.6h0M95.3 44.5h0M109.3 42.9h0M110.1 37.1h0M114.3 43.7h0M121.4 36.5h0M122.5 41.1h0M99.4 49.2h0M120.7 41.7h0M105.7 48.0h0M107.9 49.6h0M110.2 44.0h0M98.6 35.3h0M107.0 50.4h0M109.2 42.2h0M97.3 42.0h0M97.7 36.3h0M112.7 41.2h0M121.2 40.8h0M118.2 41.4h0M103.8 43.1h0M113.9 48.3h0M114.2 39.4h0M110.9 41.3h0M100.5 41.7h0M104.3 36.3h0M111.4 43.8h0M118.9 33.6h0M97.0 43.9h0M113.4 33.6h0M109.3 46.4h0M114.1 46.2h0M119.3 33.6h0M106.8 43.2h0M118.0 42.9h0M111.9 34.6h0M108.8 35.7h0M106.5 38.1h0M120.4 44.5h0M118.3 38.9h0M118.6 47.0h0M114.5 44.7h0M117.8 38.8h0M100.3 41.9h0M111.1 34.7h0M110.0 47.3h0M98.4 38.9h0M119.9 46.1h0M106.3 37.7h0M102.5 43.3h0M107.3 41.7h0M110.8 42.9h0M118.8 35.3h0M93.6 38.3h0M100.3 36.6h0M103.8 34.3h0M123.7 41.8h0M103.6 40.9h0M99.3 41.2h0M105.3 42.1h0M119.8 43.9h0M97.6 49.2h0M90.8 43.9h0M118.5 33.6h0M94.6 47.7h0M114.3 39.2h0M106.0 39.9h0M108.3 43.6h0M124.1 40.9h0M109.8 47.8h0M105.8 33.7h0M104.5 37.0h0M93.8 40.2h0M119.3 36.9h0M97.6 38.5h0M112.4 38.1h0M96.7 50.4h0M120.0 44.8h0M121.9 39.7h0M109.8 38.0h0M118.7 41.1h0M115.2 38.0h0M103.9 49.5h0M96.3 36.6h0M120.5 42.5h0M101.1 45.5h0M93.8 38.3h0M108.9 42.8h0M121.7 38.7h0M119.6 37.0h0M102.5 39.8h0M106.9 49.5h0M92.9 41.9h0M121.2 47.3h0M115.6 37.6h0M119.0 36.8h0M104.1 45.3h0M104.9 48.0h0M117.9 39.7h0M116.9 39.7h0M115.4 49.1h0M121.2 46.1h0M96.3 35.5h0M122.8 42.1h0M104.6 40.1h0M106.4 48.1h0M115.1 46.3h0M103.7 47.6h0M121.0 47.3h0M122.7 45.5h0M96.8 48.5h0M113.8 37.3h0M110.7 49.6h0M105.1 44.3h0M109.8 45.0h0M121.1 47.0h0M101.2 53.6h0M120.3 36.6h0M113.9 38.5h0M104.6 45.7h0M98.4 43.6h0M110.7 36.4h0M111.1 39.9h0M115.8 35.6h0M106.9 41.1h0M104.1 41.7h0M108.3 45.0h0M117.1 45.4h0M112.6 34.7h0M109.9 41.8h0M109.5 38.6h0M97.4 48.7h0M95.3 44.6h0M99.5 39.5h0M104.9 40.5h0M103.6 43.0h0M107.3 38.7h0M123.3 36.4h0M109.4 34.8h0M98.6 48.1h0M118.0 38.8h0M115.8 34.0h0M106.9 34.9h0M116.5 37.4h0M104.9 46.8h0M100.0 38.9h0M102.5 48.0h0M106.4 44.4h0M112.3 40.2h0M94.0 38.4h0M101.4 46.3h0M106.2 50.5h0M107.8 36.3h0M103.9 46.5h0M115.8 44.1h0M118.4 35.9h0M106.9 48.7h0M99.5 44.5h0M107.8 32.7h0M98.1 36.1h0M106.3 43.7h0M111.4 44.3h0M96.7 39.7h0M113.0 45.3h0M97.6 39.2h0M92.7 42.2h0M108.8 49.6h0M107.7 49.4h0M104.7 39.4h0M98.6 38.1h0M104.8 40.0h0M92.2 41.4h0M103.8 47.5h0M121.5 43.8h0M104.6 50.8h0M97.7 45.3h0M98.3 43.8h0M121.5 37.3h0M115.6 40.8h0M96.1 39.4h0M116.2 38.9h0M124.5 39.5h0M103.7 41.9h0M102.3 49.9h0M105.4 38.0h0M111.9 33.9h0M110.2 35.1h0M117.1 47.9h0M100.3 49.0h0M121.7 38.3h0M97.7 46.5h0M121.7 37.6h0M106.8 41.6h0M102.5 44.1h0M105.8 44.1h0M99.1 35.3h0M96.0 44.8h0M115.4 33.5h0M93.9 41.9h0M111.6 43.6h0M92.4 39.8h0M100.6 48.3h0M105.0 45.1h0M112.7 46.9h0M101.3 50.7h0M95.5 44.6h0M97.5 37.2h0M104.0 38.0h0M109.3 46.1h0M102.8 53.5h0M117.0 47.7h0M95.7 46.6h0M104.1 38.1h0M99.2 38.5h0M109.5 35.5h0M95.0 41.9h0M100.2 43.3h0M116.3 37.6h0M103.5 48.5h0M110.9 41.1h0M95.1 40.6h0M115.0 41.5h0M101.5 49.0h0M109.9 43.8h0M100.1 40.6h0M125.7 40.5h0M119.6 36.2h0M123.9 38.2h0M110.7 35.4h0M98.7 43.8h0M123.2 39.7h0M108.4 41.2h0M92.4 44.1h0" stroke="#6a3d9a" stroke-width="1.0" stroke-linecap="round" fill="none"/>
<path d="M99.6 62.3L104.0 62.3L106.2 68.2L105.5 75.5L103.3 76.9L101.1 74.0L100.4 68.2Z" fill="#e31a1c" fill-opacity="0.5" filter="url(#bl)"/>
<path d="M102.5 74.1h0M99.7 64.3h0M102.2 69.9h0M103.4 73.1h0M102.8 73.0h0M105.7 67.7h0M102.9 66.1h0M103.3 74.9h0M102.5 66.1h0M100.2 66.7h0M104.3 69.9h0M99.9 65.0h0M100.6 66.6h0M103.4 74.6h0M101.0 67.9h0M102.0 72.0h0M101.2 67.5h0M103.5 67.5h0M104.3 74.5h0M104.0 71.5h0M103.8 68.3h0M101.4 65.2h0M102.5 62.3h0M103.9 70.8h0M104.3 64.8h0M103.8 76.5h0M103.4 64.9h0M105.1 69.8h0M105.3 74.0h0M102.9 69.8h0M102.3 72.1h0M104.9 70.8h0M103.8 73.1h0M102.7 63.9h0" stroke="#e31a1c" stroke-width="1.0" stroke-linecap="round" fill="none"/>
<path d="M105.0 76.3h0M93.8 69.8h0M97.8 76.5h0M101.3 77.0h0M93.1 77.9h0M95.1 74.3h0M105.1 75.3h0M95.0 74.7h0M98.5 68.2h0M97.1 71.2h0M101.4 70.8h0M101.0 74.9h0M94.7 69.3h0M102.4 72.7h0M93.9 69.2h0" stroke="#e31a1c" stroke-width="0.9" stroke-linecap="round" fill="none"/>
<path d="M118.5 71.8h0M113.2 70.6h0M119.0 72.1h0M116.6 71.1h0M112.8 71.2h0M111.3 71.9h0M113.8 72.5h0M113.7 71.4h0M114.6 72.8h0M113.1 72.1h0" stroke="#b2df8a" stroke-width="0.9" stroke-linecap="round" fill="none"/>
<path d="M118.7 86.6L123.8 85.1L128.2 88.0L127.5 93.1L124.6 96.1L122.4 101.9L120.2 100.4L120.2 94.6L118.0 90.2Z" fill="#b15928" fill-opacity="0.7" filter="url(#bl)"/>
<path d="M120.1 96.2h0M120.6 98.8h0M127.5 90.7h0M122.1 86.5h0M122.2 102.2h0M124.5 89.4h0M126.6 89.6h0M125.2 95.1h0M118.1 92.0h0M126.2 89.9h0M122.2 91.3h0M126.7 94.9h0M122.5 98.2h0M120.6 91.9h0M126.1 87.4h0M120.4 97.5h0M124.4 94.9h0M121.7 94.3h0M118.7 86.5h0M125.7 89.4h0M119.5 92.4h0M127.5 87.5h0M123.3 94.0h0M120.0 90.5h0M120.5 92.1h0M122.0 89.6h0M121.1 92.4h0M123.7 93.1h0M123.6 92.1h0M121.3 90.4h0M126.4 93.3h0M121.3 95.6h0M123.9 95.8h0M123.6 97.9h0M120.8 88.9h0M126.5 92.9h0M125.9 91.8h0M123.9 84.5h0M126.0 91.8h0M123.0 92.9h0M126.5 87.2h0M125.1 94.5h0M118.9 91.8h0M122.2 85.9h0M122.1 97.5h0M120.4 91.5h0M123.3 94.4h0M125.9 90.7h0M125.0 90.2h0M125.1 89.9h0M121.0 97.5h0M126.8 92.8h0M125.2 88.1h0M123.6 94.7h0M126.3 86.3h0M119.8 93.9h0M126.1 90.9h0M120.9 99.0h0M123.3 89.9h0M120.6 90.7h0" stroke="#b15928" stroke-width="1.0" stroke-linecap="round" fill="none"/>
<path d="M119.5 100.0L123.0 100.0L124.0 106.0L125.0 110.0L122.0 110.0L120.0 105.0Z" fill="#b15928" fill-opacity="0.2" filter="url(#bl)"/>
<path d="M123.6 108.0h0M122.7 104.0h0M121.6 108.6h0M122.3 107.0h0M122.8 105.2h0M123.4 100.5h0M123.2 101.2h0M123.9 107.8h0M121.8 101.7h0M122.0 101.3h0M121.3 100.9h0M119.7 103.9h0M126.2 109.3h0M125.0 109.5h0" stroke="#b15928" stroke-width="1.0" stroke-linecap="round" fill="none"/>
<path d="M74.2 100.4L88.8 98.2L88.8 113.6L74.2 116.5Z" fill="#ff7f00" fill-opacity="0.25" filter="url(#bl)"/>
<path d="M82.1 110.1h0M86.1 99.6h0M85.4 110.7h0M85.5 113.0h0M86.0 106.2h0M74.3 113.2h0M81.5 103.7h0M77.8 114.7h0M78.0 106.4h0M77.6 111.0h0M78.1 114.7h0M78.4 103.2h0M86.8 108.7h0M75.9 103.3h0M81.4 103.6h0M80.2 99.5h0M78.7 113.1h0M81.6 112.0h0M74.2 107.5h0M87.9 102.2h0M79.9 116.1h0M88.7 102.6h0M87.8 111.3h0M79.4 102.1h0M75.1 101.8h0M79.3 102.2h0M82.2 107.8h0M88.1 100.0h0M79.5 111.7h0M76.0 104.0h0M81.4 108.6h0M77.1 115.5h0M85.7 105.7h0M76.8 111.8h0M76.4 112.8h0M81.6 101.6h0M74.3 102.5h0M80.8 110.2h0M86.3 109.3h0M81.4 104.1h0M85.1 101.1h0M78.3 100.9h0M83.3 100.9h0M75.1 111.5h0M82.5 105.2h0M77.6 108.2h0M74.5 107.4h0M88.1 103.5h0M86.5 101.4h0M77.2 114.7h0M81.0 108.3h0M81.7 105.0h0M87.9 112.7h0M83.9 111.6h0M86.1 100.9h0M78.6 115.1h0M78.0 111.7h0M88.8 110.4h0M76.2 115.7h0M77.0 108.9h0M83.3 100.3h0M87.2 110.9h0M83.0 107.7h0M74.7 100.7h0M83.5 111.6h0M79.2 104.2h0M79.5 114.9h0M89.3 109.3h0" stroke="#ff7f00" stroke-width="1.0" stroke-linecap="round" fill="none"/>
<path d="M103.4 104.8L113.6 105.5L120.9 107.0L123.8 112.1L126.8 120.9L131.1 128.2L126.8 126.7L118.0 122.3L109.2 118.0L103.4 115.0Z" fill="#ff7f00" fill-opacity="0.12" filter="url(#bl)"/>
<path d="M111.8 111.2h0M118.2 115.3h0M110.3 112.6h0M114.2 116.8h0M115.0 115.1h0M115.5 119.9h0M118.1 109.0h0M123.7 111.3h0M122.7 115.6h0M105.1 110.4h0M105.9 114.2h0M114.2 119.1h0M106.8 106.1h0M105.1 114.0h0M116.1 120.4h0M107.0 113.3h0M116.3 115.3h0M122.5 115.9h0M115.4 111.7h0M116.6 115.3h0M114.5 119.9h0M120.6 120.8h0M103.9 114.0h0M118.6 111.3h0M125.4 125.0h0M123.1 121.7h0M119.3 117.5h0M110.2 117.9h0M114.4 107.7h0M105.1 110.8h0M110.8 113.2h0M114.1 120.7h0M127.6 127.1h0M107.0 105.7h0M110.7 116.1h0M126.4 126.0h0M123.1 112.4h0M115.3 112.6h0M119.7 119.0h0M111.7 115.6h0M108.0 112.6h0M128.0 125.9h0M118.6 118.6h0M106.2 107.3h0M107.7 110.3h0M112.1 116.6h0M113.3 113.8h0M112.0 119.0h0M118.5 111.3h0M120.4 119.4h0M114.1 113.9h0M118.4 115.8h0M109.6 105.5h0M125.4 119.8h0M127.1 123.4h0M123.3 116.0h0M106.3 110.4h0M118.2 111.4h0M107.3 113.7h0M120.2 119.1h0M108.8 115.1h0M119.9 119.6h0M122.7 110.3h0M118.5 106.8h0M126.0 121.5h0M107.7 109.6h0M112.5 110.5h0M121.2 119.1h0M119.3 113.3h0M111.0 110.8h0M105.3 109.8h0M127.9 121.0h0M120.6 113.0h0M114.2 117.3h0M111.2 107.4h0M107.2 116.5h0M119.5 111.4h0M103.0 109.5h0M120.7 121.1h0M107.7 108.6h0M106.3 105.1h0" stroke="#ff7f00" stroke-width="1.0" stroke-linecap="round" fill="none"/>
<path d="M57.4 108.5L59.6 103.4L66.9 99.7L75.7 99.0L80.0 101.9L78.6 110.7L75.7 116.5L66.9 116.5L59.6 114.3Z" fill="#ff7f00" fill-opacity="0.55" filter="url(#bl)"/>
<path d="M60.1 104.3h0M62.2 110.6h0M70.1 106.3h0M68.7 105.8h0M71.3 102.4h0M76.8 109.8h0M77.9 102.0h0M66.0 111.2h0M63.8 102.9h0M73.5 115.8h0M78.2 113.7h0M73.5 114.9h0M71.8 114.6h0M72.7 116.4h0M70.2 101.0h0M71.2 104.7h0M63.0 105.2h0M63.2 105.0h0M76.0 102.2h0M71.7 99.6h0M69.3 110.4h0M66.4 104.9h0M74.0 106.7h0M75.4 116.8h0M66.7 101.3h0M73.0 116.0h0M58.7 106.1h0M69.6 114.2h0M71.9 99.6h0M68.4 100.4h0M64.7 100.1h0M76.2 108.0h0M72.5 117.2h0M72.5 107.2h0M62.5 109.5h0M72.4 110.9h0M62.7 106.9h0M65.6 115.2h0M68.5 105.2h0M66.3 100.0h0M59.8 105.7h0M66.5 105.2h0M77.7 107.7h0M78.5 112.5h0M62.1 106.7h0M79.3 105.8h0M73.2 106.5h0M70.6 108.7h0M63.5 111.0h0M65.7 111.0h0M58.9 108.5h0M62.9 109.0h0M73.9 112.9h0M72.8 111.8h0M75.7 107.1h0M66.7 101.9h0M59.5 110.7h0M76.2 108.3h0M66.1 110.8h0M65.3 110.8h0M76.0 111.8h0M66.1 110.8h0M60.2 112.7h0M66.6 101.8h0M77.6 101.6h0M62.0 115.0h0M61.5 104.3h0M73.1 98.5h0M65.0 102.5h0M76.1 109.6h0M71.7 104.7h0M64.4 117.2h0M77.9 109.9h0M59.7 108.9h0M67.6 101.7h0M73.4 110.5h0M71.8 101.6h0M68.7 110.6h0M75.6 113.6h0M78.4 104.7h0M70.3 103.3h0M77.4 113.1h0M74.4 108.7h0M68.7 102.7h0M73.0 101.2h0M71.5 109.2h0M77.0 106.7h0M79.6 100.8h0M78.9 102.9h0M63.3 114.3h0M60.3 106.2h0M73.0 112.9h0M67.0 105.8h0M73.1 104.5h0M60.5 106.0h0M66.4 105.1h0M76.5 106.0h0M62.7 111.4h0M61.8 103.4h0M63.8 107.5h0M75.9 102.1h0M71.4 115.6h0M80.0 102.2h0M64.8 105.8h0M62.6 114.1h0M64.9 106.0h0M76.0 101.4h0M65.3 103.1h0M66.0 109.1h0M72.0 104.9h0M64.2 104.3h0M76.5 105.6h0M74.5 108.8h0M74.8 106.5h0M77.3 111.0h0M68.2 108.9h0M76.8 98.9h0M71.7 115.1h0M66.4 116.4h0M59.5 112.3h0M64.9 114.5h0M74.1 113.8h0M59.2 111.2h0M79.3 108.4h0M66.3 99.7h0M60.1 107.8h0M59.2 105.2h0M68.8 108.8h0M61.6 103.5h0M71.7 105.1h0M62.3 111.6h0M63.1 101.8h0M73.6 106.1h0M67.9 103.6h0M65.9 111.7h0M63.9 102.5h0M76.4 113.3h0M74.1 113.4h0M57.3 111.9h0M72.5 110.0h0M72.8 99.5h0M75.8 107.8h0M72.9 108.6h0M66.5 103.8h0M67.7 110.6h0M70.7 111.4h0M71.8 98.5h0M73.2 107.9h0M71.9 109.4h0M77.1 109.8h0M77.5 112.5h0M78.3 106.0h0M66.2 103.5h0M65.0 106.6h0M66.0 114.7h0" stroke="#ff7f00" stroke-width="1.0" stroke-linecap="round" fill="none"/>
<path d="M87.3 99.0L90.3 95.3L95.4 93.9L100.5 96.1L103.4 101.9L106.3 106.3L107.8 113.6L103.4 116.5L94.6 115.0L88.8 109.2L86.6 103.4Z" fill="#ff7f00" fill-opacity="0.55" filter="url(#bl)"/>
<path d="M90.8 106.0h0M92.2 104.8h0M97.6 95.8h0M103.6 110.4h0M105.3 110.8h0M103.6 112.8h0M89.3 106.0h0M98.1 99.9h0M91.8 99.7h0M95.2 107.7h0M105.4 116.0h0M88.8 107.2h0M103.0 105.8h0M103.8 105.2h0M97.6 114.5h0M101.3 110.8h0M98.3 103.1h0M93.7 111.7h0M102.3 116.0h0M100.1 107.8h0M91.6 99.0h0M95.9 104.6h0M92.9 112.5h0M101.0 97.9h0M103.0 100.9h0M105.8 114.7h0M94.9 114.7h0M93.8 96.1h0M95.6 107.5h0M96.7 95.6h0M92.2 113.2h0M98.0 104.4h0M101.6 99.7h0M93.5 107.0h0M96.6 96.1h0M103.0 115.1h0M90.7 110.1h0M100.2 105.3h0M88.7 96.3h0M103.9 113.0h0M91.0 105.2h0M99.5 112.3h0M104.4 112.2h0M94.0 94.4h0M96.9 113.2h0M105.2 115.7h0M90.4 107.1h0M88.8 102.3h0M104.5 104.3h0M103.0 107.0h0M96.5 95.5h0M96.0 96.1h0M105.3 106.9h0M103.8 106.3h0M96.6 112.6h0M91.4 94.7h0M92.8 107.2h0M92.2 108.7h0M100.0 115.5h0M98.6 99.2h0M100.5 100.1h0M93.6 101.6h0M98.7 114.4h0M93.0 102.2h0M100.1 112.9h0M86.0 102.7h0M97.5 105.0h0M100.5 106.3h0M90.5 102.7h0M92.0 106.8h0M88.3 99.5h0M90.3 95.6h0M99.6 106.9h0M98.5 100.8h0M89.5 109.5h0M99.7 105.7h0M94.4 102.5h0M95.7 95.9h0M102.0 107.1h0M101.7 106.9h0M101.6 107.1h0M102.3 103.4h0M89.9 105.8h0M100.4 104.8h0M96.6 114.1h0M96.8 105.5h0M97.9 99.6h0M97.2 100.8h0M95.4 103.1h0M100.1 103.4h0M98.1 102.6h0M95.8 110.7h0M95.1 102.5h0M99.3 106.2h0M97.5 113.0h0M94.3 104.8h0M105.6 106.7h0M91.4 102.3h0M91.0 104.5h0M99.1 96.4h0M97.5 110.5h0M99.6 110.8h0M98.3 98.4h0M88.6 106.7h0M103.5 104.8h0M95.6 104.8h0M89.7 106.2h0M96.5 112.1h0M102.6 105.2h0M100.3 114.2h0M96.8 102.7h0M97.4 96.7h0M94.5 99.0h0M101.3 102.6h0M88.8 105.6h0M100.0 96.9h0M91.6 111.0h0M96.7 111.5h0M90.8 96.2h0M98.6 103.6h0M100.7 102.4h0M103.8 110.5h0M91.6 95.7h0M99.0 105.8h0M91.2 99.4h0M92.7 101.2h0M100.1 109.7h0M101.2 116.1h0M100.7 100.3h0M98.3 105.7h0M92.9 104.5h0M89.0 100.2h0M104.4 113.5h0M87.3 102.5h0M93.1 109.4h0M97.6 110.8h0M102.2 106.4h0M91.4 105.3h0M90.0 110.1h0M97.5 99.8h0M94.4 107.4h0M96.5 111.4h0M99.1 110.2h0M94.0 114.7h0M101.0 97.5h0M94.4 103.0h0M91.0 103.6h0M92.4 110.8h0M106.1 108.5h0M94.3 101.2h0M96.1 104.0h0M89.8 109.9h0M95.5 101.7h0M93.0 99.1h0M92.5 110.3h0M93.0 98.3h0M97.2 99.8h0M99.0 102.6h0M95.4 113.0h0M99.5 98.1h0M97.5 110.0h0M89.3 108.8h0" stroke="#ff7f00" stroke-width="1.0" stroke-linecap="round" fill="none"/>
<path d="M166.1 85.5L169.2 79.4L173.3 75.3L180.4 74.3L182.5 71.2L188.6 69.2L194.7 69.7L200.9 71.2L205.0 74.3L205.5 79.4L209.0 83.5L214.2 87.6L216.2 92.7L213.1 97.8L209.0 99.3L202.9 98.8L199.9 96.8L195.8 95.3L190.7 96.8L184.5 99.9L177.4 102.9L172.3 105.0L168.2 103.9L167.2 97.8L166.1 91.7Z" fill="#b2df8a" fill-opacity="0.5" filter="url(#bl)"/>
<path d="M171.2 96.6h0M205.1 88.5h0M210.9 88.4h0M199.4 73.3h0M186.0 93.4h0M175.8 87.1h0M199.7 75.5h0M196.9 93.7h0M185.5 83.2h0M188.5 78.5h0M209.1 87.1h0M196.2 86.7h0M175.3 75.5h0M168.5 90.3h0M175.5 104.0h0M189.1 75.6h0M198.4 94.8h0M188.2 85.1h0M189.4 95.3h0M169.6 94.5h0M172.5 97.0h0M197.8 92.3h0M203.5 73.4h0M208.9 92.0h0M201.2 76.5h0M174.9 80.6h0M174.2 94.9h0M171.4 99.5h0M194.4 71.2h0M205.8 96.4h0M188.4 84.2h0M180.2 100.8h0M166.2 89.5h0M194.1 94.7h0M199.6 85.4h0M183.7 95.3h0M168.9 96.1h0M179.8 87.0h0M189.6 71.2h0M197.2 89.0h0M192.4 80.5h0M189.4 81.8h0M179.9 92.1h0M176.2 89.2h0M183.8 78.5h0M199.8 82.5h0M192.6 81.6h0M171.6 100.5h0M205.2 85.4h0M191.4 92.6h0M183.3 93.6h0M171.9 96.9h0M192.8 71.6h0M204.9 91.7h0M188.0 79.5h0M171.5 103.2h0M195.2 83.8h0M199.9 81.7h0M168.9 85.7h0M197.1 76.3h0M192.4 72.3h0M192.5 76.5h0M208.5 85.8h0M198.0 72.3h0M185.0 72.3h0M174.5 75.3h0M172.9 76.7h0M168.3 93.1h0M180.9 90.0h0M193.8 77.9h0M170.2 90.7h0M215.2 91.6h0M184.7 80.5h0M166.5 85.3h0M183.9 95.5h0M203.5 82.4h0M171.8 95.7h0M207.6 90.0h0M200.2 94.3h0M195.1 92.6h0M175.2 88.2h0M175.7 92.0h0M188.9 71.4h0M170.0 90.6h0M192.8 87.2h0M177.4 76.1h0M178.3 85.9h0M181.8 79.5h0M198.6 95.4h0M174.2 78.2h0M172.9 87.5h0M204.4 96.2h0M170.6 92.0h0M175.8 84.8h0M199.4 71.9h0M202.9 72.8h0M187.0 81.4h0M171.6 92.3h0M197.6 90.3h0M173.7 85.3h0M177.3 94.3h0M180.7 88.2h0M201.7 73.2h0M192.5 73.3h0M193.9 92.3h0M183.6 76.0h0M175.5 76.7h0M189.7 90.7h0M188.7 78.9h0M176.5 90.0h0M179.8 74.8h0M174.2 80.3h0M183.6 84.6h0M172.7 101.1h0M175.4 100.1h0M178.3 78.0h0M204.8 81.7h0M198.8 77.6h0M197.3 72.3h0M205.9 95.6h0M203.9 88.6h0M174.8 81.9h0M190.0 72.6h0M188.0 90.4h0M180.3 96.8h0M194.0 74.1h0M173.2 100.6h0M205.1 94.7h0M182.1 96.8h0M169.4 89.1h0M204.8 95.4h0M200.6 94.9h0M175.6 84.6h0M187.7 87.6h0M185.5 78.3h0M198.0 84.8h0M199.7 91.1h0M205.5 81.1h0M181.7 96.9h0M201.8 80.8h0M196.9 73.7h0M197.6 86.0h0M176.6 91.8h0M170.7 90.8h0M212.9 91.7h0M170.8 82.0h0M199.0 91.7h0M175.4 81.3h0M202.6 90.5h0M185.8 79.2h0M200.5 86.0h0M180.0 80.7h0M205.2 92.7h0M191.5 69.8h0M183.5 86.5h0M173.7 103.1h0M173.0 76.3h0M175.1 92.1h0M204.1 96.7h0M193.4 70.6h0M202.7 86.0h0M177.4 94.3h0M182.3 81.1h0M206.3 92.3h0M180.8 82.5h0M193.0 94.9h0M167.8 94.1h0M208.9 96.6h0M199.9 92.8h0M177.2 98.9h0M201.9 88.5h0M187.1 77.0h0M182.0 90.5h0M208.2 86.7h0M174.3 77.3h0M203.4 81.0h0M168.9 86.4h0M193.2 94.4h0M207.7 93.9h0M213.6 95.1h0M190.8 91.1h0M174.1 90.0h0M204.5 77.0h0M191.1 73.9h0M184.2 85.6h0M193.2 76.1h0M191.2 83.9h0M200.8 90.7h0M177.5 90.3h0M197.9 88.1h0M175.5 82.5h0M209.5 88.7h0M188.5 80.3h0M188.2 81.6h0M208.3 97.9h0M179.4 75.6h0M205.6 88.3h0M174.7 100.9h0M203.1 83.5h0M209.9 87.1h0M199.0 72.6h0M198.4 75.7h0M180.8 88.7h0M185.4 84.1h0M172.4 91.7h0M195.7 88.2h0M202.6 93.8h0M198.8 73.6h0M200.8 77.5h0M191.1 85.9h0M178.3 92.4h0M171.8 102.4h0M172.2 94.5h0M183.8 88.5h0M190.2 86.8h0M195.0 89.0h0M177.2 103.4h0M187.3 85.3h0M181.0 88.5h0M186.6 73.7h0M171.4 85.0h0M186.0 93.4h0M208.2 97.0h0M193.1 72.4h0M190.5 80.0h0M193.7 83.7h0M180.1 76.9h0M187.6 85.3h0M179.1 79.8h0M197.1 70.0h0M171.4 76.7h0M173.5 77.0h0M206.5 79.7h0M200.9 90.6h0M182.6 81.4h0M198.2 72.6h0M192.9 87.8h0M211.8 89.8h0M209.8 96.7h0M197.4 71.6h0M196.8 78.9h0M209.9 88.5h0M212.7 89.2h0M188.5 79.1h0M171.0 82.5h0M170.6 102.1h0M193.5 79.1h0M168.7 100.3h0M197.7 82.1h0M193.5 92.0h0M195.2 88.9h0M187.5 83.6h0M196.1 87.3h0M171.6 100.3h0M176.5 95.3h0M193.2 75.3h0M212.2 94.9h0M179.4 91.6h0M171.9 77.6h0M186.2 74.1h0M206.3 81.1h0M174.7 88.9h0M198.6 70.8h0M200.0 73.2h0M190.6 78.1h0M202.6 83.4h0M199.0 84.1h0M185.7 72.3h0M165.9 85.4h0M170.5 99.3h0M197.1 82.0h0M200.7 94.9h0M204.1 81.4h0M179.4 84.0h0M206.2 89.2h0M199.1 82.8h0M208.5 94.2h0M186.3 94.9h0M205.3 87.1h0M202.5 75.4h0M183.4 81.3h0M179.2 75.5h0M201.3 93.6h0M174.2 99.5h0M198.1 77.6h0M193.5 85.8h0M184.0 99.3h0M175.5 102.3h0M183.7 81.3h0M200.6 73.2h0M204.1 82.2h0M179.3 101.9h0M187.9 71.5h0M205.3 96.7h0M176.5 83.0h0M192.8 74.5h0M203.5 84.5h0M175.7 90.9h0M190.7 96.6h0M201.7 97.5h0M181.2 87.4h0M174.5 94.4h0M173.0 101.7h0M194.4 72.7h0M170.0 83.2h0M213.9 89.8h0M184.8 87.6h0M214.1 91.4h0M192.8 87.3h0M170.4 84.4h0M168.9 99.0h0M175.1 80.9h0M191.7 71.4h0M181.3 74.0h0M175.9 87.3h0M212.3 90.4h0M190.5 86.2h0M176.2 75.7h0M167.5 96.3h0M204.9 82.4h0M201.9 76.3h0M178.8 97.7h0M172.1 90.6h0M191.2 70.7h0M197.3 75.1h0M203.0 93.1h0M179.6 88.6h0M173.6 92.6h0M169.5 99.9h0M184.2 93.1h0M165.9 87.8h0M173.7 96.4h0M208.2 92.1h0M182.6 77.5h0M168.7 104.8h0M194.2 86.1h0M189.0 74.5h0M189.7 96.3h0M199.8 78.4h0M198.3 96.1h0M208.3 85.2h0M174.3 87.0h0M179.2 75.4h0M178.9 86.4h0M174.4 86.0h0M200.9 89.0h0M197.0 72.3h0M200.6 93.2h0M202.1 77.6h0M191.5 73.3h0M177.0 97.5h0M174.1 84.1h0M194.0 72.3h0M181.0 81.4h0M181.6 94.4h0M167.9 97.9h0M194.3 70.7h0M208.8 88.0h0M176.0 73.7h0M171.8 93.0h0M183.9 97.3h0M169.8 92.5h0M203.7 90.9h0M207.6 94.9h0M169.0 90.5h0M173.9 82.6h0M200.2 75.3h0M182.1 98.5h0M204.8 91.9h0M178.2 91.7h0M173.9 76.9h0M184.6 95.0h0M178.3 84.0h0M176.1 97.4h0M201.8 70.9h0M175.9 92.9h0M191.3 82.0h0M202.9 74.0h0M185.5 88.2h0M186.1 83.7h0M183.8 97.7h0M174.4 99.7h0M165.7 89.5h0M209.5 100.6h0M189.4 86.4h0M174.9 79.1h0M168.9 102.1h0M173.9 104.5h0M190.2 84.6h0M201.1 72.1h0M190.5 84.4h0M195.2 75.8h0M180.2 98.6h0M212.2 85.6h0M178.8 81.9h0M191.6 70.3h0M191.3 87.4h0M210.5 86.4h0M173.3 83.3h0M175.1 98.3h0M194.2 83.8h0M185.7 83.3h0M198.4 91.3h0M166.0 85.3h0M176.1 76.8h0M187.8 93.0h0M201.0 82.8h0M208.9 88.2h0M173.2 78.5h0M178.0 95.5h0M181.4 84.2h0M193.9 79.3h0M189.6 88.4h0M172.1 95.8h0M174.2 76.4h0M191.2 87.9h0M170.2 86.4h0M181.9 89.5h0M186.1 87.0h0M211.3 88.8h0M176.8 93.2h0M199.6 91.4h0M187.6 84.8h0M169.2 102.8h0M192.6 91.2h0M205.1 94.9h0M210.1 93.0h0M202.8 88.4h0M190.5 92.1h0M204.3 93.8h0M197.3 90.7h0M196.5 80.5h0M187.5 86.4h0M206.9 94.6h0M190.3 72.2h0M184.1 86.9h0M195.4 74.1h0M177.9 77.6h0M200.6 77.9h0M198.0 77.6h0M206.2 84.3h0M182.6 75.1h0M197.7 86.3h0M201.7 70.6h0M207.6 97.4h0M175.6 97.9h0M191.8 87.0h0M176.1 88.8h0M167.9 93.4h0M171.4 95.0h0M166.9 90.7h0M176.0 79.6h0M190.6 87.0h0M191.7 70.3h0M184.8 77.7h0M196.2 88.7h0M194.0 94.0h0M209.0 88.4h0M188.3 85.1h0M203.7 85.6h0M210.8 84.7h0M193.6 77.4h0M177.5 75.5h0M181.0 72.0h0M198.1 94.7h0M176.4 82.7h0M174.2 100.1h0M183.9 96.8h0M187.8 94.1h0M183.8 78.7h0M202.1 76.2h0M194.7 88.1h0M194.5 91.7h0M199.0 74.4h0M167.6 93.4h0M182.8 90.7h0M203.6 78.1h0M210.7 94.8h0M195.4 88.1h0M197.4 71.5h0M191.7 96.7h0M204.7 79.2h0M190.2 90.8h0M205.9 92.1h0M191.7 85.5h0M182.5 91.2h0M198.6 93.6h0M191.7 85.3h0M168.2 97.4h0M196.7 71.5h0M183.2 88.7h0M198.5 87.3h0M203.4 83.4h0M169.9 102.6h0M172.8 84.3h0M211.9 100.5h0M168.3 86.0h0M167.9 91.3h0M202.0 76.7h0M182.4 80.3h0M187.0 71.9h0M184.7 71.1h0M171.3 81.7h0M190.8 90.7h0M204.1 77.7h0M189.8 79.2h0M193.7 78.4h0M204.6 85.1h0M177.9 76.6h0M202.3 85.3h0M213.8 91.5h0M193.9 94.4h0M179.4 98.1h0M173.4 83.5h0M174.9 87.7h0M200.2 94.7h0M194.2 79.3h0M205.0 91.7h0M215.2 94.1h0M207.8 90.3h0M183.6 101.3h0M182.6 84.6h0M196.8 70.9h0M205.9 96.9h0M169.3 95.4h0M187.7 71.5h0M169.4 90.8h0M204.5 75.5h0M170.1 98.8h0M189.0 86.8h0M188.1 94.5h0M203.4 77.9h0M177.5 92.5h0M186.5 86.5h0M170.4 99.4h0M168.8 81.7h0M182.9 97.0h0M168.4 96.0h0M194.7 72.2h0M190.7 97.3h0M178.5 84.2h0M170.7 82.0h0M182.5 83.4h0M193.1 89.5h0M191.4 89.1h0M214.4 92.4h0M197.6 70.9h0M185.9 77.9h0M172.0 77.9h0M208.8 85.1h0M185.4 82.4h0M212.2 87.3h0M208.7 93.1h0M181.0 83.8h0M175.7 78.6h0M193.3 85.4h0M188.3 93.1h0M183.8 86.9h0M191.2 82.4h0M208.4 84.2h0M174.1 88.5h0M180.2 91.5h0M206.0 97.6h0M178.6 92.0h0M188.4 71.5h0M194.6 81.1h0M169.5 80.6h0M187.5 92.3h0M195.5 90.2h0M192.8 76.5h0M174.9 75.8h0M205.7 84.0h0M175.0 82.6h0M196.3 94.7h0M207.3 84.4h0M196.7 74.1h0M200.2 95.7h0M184.6 71.3h0M184.9 93.5h0M172.6 78.5h0M198.9 87.7h0M167.1 95.9h0M180.3 99.6h0M173.2 80.7h0M174.8 83.3h0M188.5 84.3h0M191.8 93.6h0M199.7 76.4h0M181.6 93.1h0M181.4 81.0h0" stroke="#b2df8a" stroke-width="1.0" stroke-linecap="round" fill="none"/>
<path d="M103.0 143.6L110.5 136.1L127.6 134.2L137.1 126.6L154.2 111.4L156.1 115.2L148.5 132.3L163.7 138.0L173.2 149.3L185.5 166.4L182.6 175.9L171.3 179.7L163.7 183.5L150.4 184.4L137.1 183.5L121.9 182.5L110.5 179.7L103.0 172.1L101.1 160.7Z" fill="#1f78b4" fill-opacity="0.08" filter="url(#bl)"/>
<path d="M141.0 152.4h0M145.3 126.3h0M138.8 167.7h0M119.6 164.2h0M142.7 136.1h0M142.4 167.5h0M153.2 138.3h0M107.9 145.6h0M162.2 175.9h0M150.4 144.0h0M127.0 135.1h0M134.1 181.5h0M146.8 157.0h0M161.1 180.3h0M143.5 182.6h0M133.9 158.8h0M163.1 163.4h0M156.2 168.9h0M121.5 156.2h0M168.5 173.9h0M146.6 149.2h0M128.4 169.1h0M166.8 162.9h0M130.8 166.2h0M141.5 124.2h0M136.2 136.4h0M158.6 182.2h0M165.9 167.0h0M135.9 136.4h0M161.2 142.5h0M124.1 143.7h0M138.2 156.3h0M178.2 161.1h0M146.7 143.7h0M116.5 152.3h0M119.1 153.4h0M128.1 176.4h0M158.5 143.1h0M145.3 130.3h0M139.0 171.4h0M103.4 169.1h0M162.9 161.0h0M146.2 126.1h0M153.4 156.2h0M178.7 170.9h0M158.4 156.8h0M115.3 149.6h0M155.6 159.1h0M179.5 160.3h0M124.5 143.8h0M133.6 145.4h0M150.7 164.7h0M151.7 156.5h0M179.2 166.1h0M148.8 149.8h0M108.7 152.5h0M162.6 179.1h0M157.0 179.2h0M181.1 175.6h0M109.7 175.4h0M130.3 140.9h0M106.3 140.9h0M147.6 176.2h0M134.2 166.0h0M155.3 151.7h0M108.2 141.7h0M132.1 165.1h0M126.1 156.3h0M174.5 172.0h0M122.1 159.9h0M117.9 139.7h0M159.5 151.9h0M180.7 167.9h0M105.9 159.3h0M117.3 144.1h0M135.2 173.8h0M157.8 159.6h0M162.5 171.4h0M162.6 178.4h0M152.8 179.1h0M141.9 141.6h0M164.4 152.6h0M115.4 138.6h0M111.2 149.6h0M109.6 174.5h0M110.3 157.6h0M145.4 130.6h0M175.6 169.4h0M112.9 142.4h0M110.6 165.5h0M154.7 175.6h0M149.5 168.4h0M116.7 154.7h0M119.1 138.5h0M114.7 150.5h0M177.5 165.5h0M137.8 161.5h0M121.9 138.2h0M132.6 143.6h0M171.3 172.5h0M137.6 136.9h0M151.9 178.1h0M145.1 130.3h0M109.0 157.8h0M114.0 154.4h0M130.9 137.8h0M111.4 150.4h0M105.4 146.8h0M179.9 166.0h0M131.5 147.2h0M151.4 143.8h0M119.7 153.9h0M128.8 167.8h0M164.2 142.5h0M167.6 167.8h0M137.3 158.2h0M143.7 175.5h0M134.1 130.6h0M127.6 180.3h0M120.4 148.5h0M124.9 156.2h0M118.5 152.2h0M142.5 168.7h0M157.5 168.2h0M159.1 167.4h0M155.9 178.8h0M138.0 141.8h0M144.5 167.2h0M160.4 149.2h0M132.0 137.9h0M121.4 149.1h0M153.2 148.4h0M126.6 173.7h0M181.0 174.5h0M143.1 153.1h0M145.7 170.6h0M137.7 136.2h0M139.7 129.7h0M155.2 177.9h0M109.6 171.9h0M118.3 164.2h0M135.2 143.8h0M146.4 173.9h0M118.9 150.3h0M118.3 140.1h0M161.1 146.7h0M170.3 173.2h0M147.8 176.4h0M125.5 172.5h0M101.6 156.4h0M145.6 127.0h0M113.4 180.4h0M162.4 141.4h0M148.2 163.6h0M111.3 147.5h0M130.4 137.7h0M145.0 158.9h0M152.0 153.5h0M139.2 144.9h0M122.9 147.9h0M134.6 183.6h0M137.5 178.4h0M167.4 144.4h0M128.6 149.5h0M171.8 167.7h0M174.9 170.2h0M134.9 183.0h0M127.4 161.6h0M150.0 156.1h0M141.0 124.9h0M141.8 148.8h0M151.9 136.6h0M157.6 154.3h0M158.1 144.0h0M168.8 155.5h0M161.3 154.4h0M117.4 147.0h0M138.6 161.5h0M133.3 152.6h0M130.8 174.3h0M150.0 132.8h0M112.7 170.2h0M165.0 174.0h0M143.3 124.0h0M137.5 176.7h0M112.7 166.6h0M127.5 164.0h0M122.0 165.5h0M146.7 120.1h0M104.4 150.2h0M177.5 170.3h0M140.1 166.8h0M144.2 124.0h0M150.6 149.2h0M147.0 155.8h0M114.1 144.0h0M142.4 172.7h0M116.2 161.6h0M170.4 158.4h0M172.1 176.9h0M124.0 172.3h0M146.1 130.0h0M115.2 168.2h0M108.4 175.7h0M151.3 180.2h0M135.6 162.2h0M151.6 171.1h0M177.9 175.7h0M125.8 174.9h0M146.1 180.4h0M137.8 164.1h0M121.7 171.4h0M110.5 149.8h0M129.4 170.9h0M131.3 179.8h0M115.7 169.4h0M152.5 172.6h0M108.3 178.0h0M144.0 120.1h0M167.1 147.2h0M132.2 145.1h0M105.3 150.9h0M109.7 146.7h0M126.0 149.4h0M130.5 144.4h0M122.1 146.1h0M108.0 141.4h0M168.2 178.6h0M150.6 117.1h0M168.3 177.1h0M104.4 152.1h0M163.5 156.7h0M107.5 175.3h0M168.2 156.5h0M179.2 169.5h0M106.6 145.0h0M174.4 165.6h0M141.8 140.3h0M154.6 150.2h0M141.3 167.8h0M128.6 158.2h0M162.5 154.4h0M150.7 123.4h0M139.0 177.7h0M135.2 170.5h0M129.2 160.1h0M150.9 139.2h0M130.6 168.9h0M159.5 173.5h0M103.7 166.3h0M136.5 156.7h0M134.4 135.2h0M107.1 151.0h0M118.1 145.1h0M126.0 175.5h0M117.7 163.3h0M144.1 158.7h0M109.9 175.4h0M110.5 150.8h0M154.7 154.5h0M153.9 134.1h0M116.3 160.6h0M104.3 148.7h0M169.2 163.9h0M139.9 173.4h0M145.7 147.4h0M159.6 148.5h0M110.7 148.6h0M166.2 158.3h0M130.9 142.2h0M146.1 118.4h0M107.6 144.6h0M115.6 150.3h0M119.2 158.8h0M142.2 126.9h0M126.3 158.3h0M129.7 159.0h0M125.9 152.4h0M140.3 180.3h0M120.9 139.7h0M144.2 126.2h0M158.6 146.6h0M108.9 164.8h0M136.4 155.6h0M126.2 146.6h0M140.3 123.8h0M116.2 138.7h0M140.9 165.4h0M128.1 183.2h0M141.6 135.2h0M154.2 145.2h0M169.9 163.1h0M137.9 165.4h0M112.1 151.4h0M127.9 139.5h0M142.8 155.6h0M137.8 149.4h0M129.8 181.1h0M103.9 169.3h0M134.3 163.2h0M121.5 160.3h0M118.7 139.6h0M168.9 152.7h0M155.9 171.5h0M144.3 123.6h0M129.1 135.9h0M152.2 118.1h0M132.7 160.6h0M134.7 150.7h0M117.5 150.2h0M143.3 140.8h0M107.5 143.7h0M174.7 177.3h0M152.2 148.1h0M121.9 157.2h0M163.1 150.7h0M133.6 160.0h0M148.0 140.3h0M152.9 158.3h0M137.8 174.8h0M122.6 166.3h0M112.4 176.7h0M120.2 141.6h0M131.3 183.3h0M120.1 157.2h0M127.6 146.7h0M108.7 175.1h0M103.9 172.8h0M145.3 172.9h0M146.3 163.6h0M128.9 180.9h0M149.5 138.4h0M161.2 157.8h0M106.0 165.5h0M142.1 149.9h0M145.9 174.4h0M119.4 138.3h0M168.4 145.4h0M129.5 132.9h0M164.8 176.2h0M156.8 165.9h0M154.6 161.6h0M145.6 154.4h0M143.0 168.7h0M161.7 156.8h0M129.6 134.1h0M128.9 132.6h0M176.4 162.4h0M171.2 176.8h0M127.3 156.6h0M151.7 175.4h0M109.1 178.9h0M175.7 167.9h0M144.2 139.6h0M139.1 168.8h0M147.6 160.4h0M175.9 156.9h0M149.9 138.4h0M139.4 131.2h0M153.5 115.8h0M117.9 139.2h0M177.6 162.1h0M129.8 153.8h0M158.3 171.5h0M110.9 150.9h0M175.4 176.7h0M157.3 143.2h0M148.3 170.4h0M141.8 154.1h0M111.2 165.8h0M166.3 170.3h0M111.8 148.0h0M136.5 164.2h0M121.7 147.5h0M120.9 139.9h0M152.6 152.3h0M136.5 150.8h0M114.1 176.5h0M139.2 135.7h0M111.5 147.9h0M147.2 156.4h0M127.1 150.2h0M156.4 174.0h0M124.5 136.5h0M139.1 181.1h0M112.7 152.6h0M115.6 175.6h0M113.6 155.8h0M166.9 159.0h0M176.5 154.9h0M133.0 146.9h0M175.3 163.1h0M148.8 179.6h0M135.9 135.6h0M149.1 163.6h0M113.4 172.7h0M129.3 160.5h0M145.3 144.2h0M158.9 175.3h0M139.8 124.4h0M132.4 179.9h0M156.8 155.2h0M113.2 138.9h0M118.1 163.9h0M168.4 163.9h0M139.1 143.1h0M122.7 151.8h0M129.6 163.4h0M108.3 177.1h0M144.9 142.9h0M111.1 161.9h0M146.8 139.0h0M122.6 155.0h0M105.2 143.3h0M146.3 170.8h0M122.8 135.9h0M151.2 157.0h0M130.3 150.7h0M159.8 142.2h0M177.0 169.9h0M110.6 177.5h0M131.0 137.3h0M140.4 173.1h0M181.3 170.6h0M174.3 178.2h0M111.8 137.0h0M133.5 156.1h0M108.9 153.3h0M126.2 141.1h0M108.9 160.7h0M108.2 144.4h0M139.6 167.5h0M159.4 138.2h0M121.4 151.4h0M109.2 139.5h0M112.9 153.6h0M161.0 151.6h0M149.0 121.7h0M126.4 176.7h0M104.9 142.5h0M140.3 183.3h0M152.2 146.7h0M135.7 170.4h0M169.1 174.2h0M176.4 170.4h0M116.2 169.1h0M152.4 177.6h0M127.4 150.3h0M138.4 129.9h0M136.3 182.6h0M105.2 163.4h0M117.6 141.0h0M148.6 166.4h0M119.1 154.3h0M168.3 162.4h0M126.7 138.9h0M144.6 167.8h0M133.2 138.5h0M137.9 139.8h0M112.5 143.7h0M128.2 151.6h0M134.1 147.2h0M135.2 131.1h0M139.5 131.0h0M179.8 171.3h0M116.4 169.4h0M151.4 167.3h0M137.7 181.4h0M141.1 183.2h0M151.9 151.8h0M135.6 181.4h0M155.1 182.3h0M111.2 151.3h0M113.1 175.7h0M133.2 130.2h0M122.3 138.2h0M136.8 172.2h0M151.2 181.7h0M115.9 167.1h0M113.4 167.7h0M132.8 154.6h0M150.5 179.7h0M128.6 143.2h0M177.7 169.6h0M164.4 169.3h0M137.8 134.3h0M133.8 162.7h0M156.5 137.9h0M135.7 155.3h0M147.6 135.7h0M118.9 169.4h0M130.1 137.0h0M133.0 165.6h0M106.2 154.5h0M139.7 137.1h0M166.6 169.4h0M104.3 172.0h0M148.2 132.6h0M173.4 172.5h0M160.6 140.7h0M170.4 146.4h0M122.3 179.2h0M104.2 160.2h0M135.0 166.2h0M136.8 165.4h0M182.5 164.0h0M168.8 163.3h0M160.4 159.4h0M148.8 181.5h0M113.9 140.0h0M151.2 172.2h0M119.0 177.2h0M147.2 148.2h0M104.4 155.4h0M158.4 152.9h0M110.4 145.9h0M160.6 172.6h0M120.2 150.4h0M134.4 168.6h0M115.2 170.6h0M165.3 139.7h0M134.7 178.3h0M142.3 147.4h0M131.1 132.8h0M151.7 137.4h0M148.5 130.7h0M152.2 149.5h0M148.4 161.4h0M161.1 161.3h0M150.8 178.3h0M125.8 141.4h0M138.5 163.9h0M132.3 172.0h0M123.3 166.4h0M125.6 145.5h0M112.4 174.8h0M135.7 138.6h0M138.1 165.6h0M118.4 149.6h0M130.6 141.3h0M112.8 175.8h0M131.4 178.0h0M179.3 176.7h0M153.9 153.9h0M117.9 174.0h0M132.5 174.9h0M126.6 168.2h0M134.9 175.9h0M145.9 143.4h0M151.2 180.6h0M125.8 157.3h0M116.5 149.7h0M184.3 173.2h0M178.3 175.5h0M130.9 142.2h0M107.9 140.1h0M131.3 168.5h0M166.4 166.5h0M136.5 147.3h0M134.1 151.1h0M118.9 169.8h0M139.4 134.1h0M121.9 141.2h0M141.0 156.8h0M134.7 146.8h0M121.4 161.4h0M105.8 152.8h0M148.7 173.0h0M125.1 169.5h0M153.5 151.9h0M146.0 130.5h0M180.4 161.3h0M169.8 173.9h0M135.2 167.0h0M181.7 161.4h0M142.0 149.6h0M135.9 143.7h0M110.7 147.8h0M122.2 140.0h0M147.0 158.6h0M172.7 149.6h0M141.4 161.5h0M132.5 157.7h0M157.0 135.0h0M182.6 169.5h0M172.1 160.7h0M145.1 158.2h0M136.4 180.2h0M139.0 160.2h0M138.0 148.8h0M119.8 180.7h0M145.8 130.4h0M151.2 151.6h0M156.8 143.3h0M182.7 162.6h0M165.5 177.5h0M172.5 162.1h0M150.2 148.9h0M169.3 169.1h0M141.6 168.5h0M180.7 164.3h0M118.7 169.4h0M130.3 132.1h0M130.8 174.6h0M147.6 132.2h0M131.0 162.8h0M147.0 147.4h0M157.6 150.1h0M169.6 152.2h0M135.1 135.8h0M112.2 173.4h0M155.9 173.2h0M156.7 170.9h0M138.6 174.5h0M126.2 142.2h0M121.8 164.9h0M174.5 153.4h0M174.7 160.0h0M152.0 179.8h0M126.5 174.3h0M156.9 153.8h0M141.9 176.0h0M141.5 168.3h0M107.0 172.0h0M112.5 139.6h0M165.4 139.6h0M170.5 156.7h0M143.4 148.7h0M138.9 149.2h0M110.7 172.8h0M103.2 166.0h0M150.8 161.2h0M153.3 117.0h0M137.8 167.1h0M102.9 150.1h0M144.7 143.3h0M153.8 138.5h0M164.0 177.7h0M164.4 158.4h0M107.4 143.3h0M139.3 169.9h0M105.8 150.7h0M138.9 179.6h0M150.1 137.8h0M166.5 155.7h0M140.5 143.1h0M140.1 155.8h0M129.4 146.8h0M119.5 166.2h0M151.5 144.5h0M147.6 143.3h0M147.0 164.3h0M118.2 178.7h0M120.6 181.8h0M148.6 182.3h0M154.2 160.7h0M143.3 173.1h0M104.0 168.5h0M136.3 157.0h0M146.7 118.7h0M180.5 161.4h0M121.7 151.5h0M133.6 176.0h0M166.1 155.1h0M121.8 180.4h0M132.0 175.7h0M146.7 161.1h0M159.6 180.7h0M116.1 136.8h0M151.3 124.6h0M171.6 149.7h0M110.7 170.5h0M134.8 143.0h0M139.4 183.0h0M145.1 154.0h0M175.8 158.5h0M167.6 164.0h0M110.4 170.2h0M115.2 176.4h0M169.1 154.2h0M135.6 166.1h0M148.0 159.8h0M160.6 146.3h0M142.3 126.9h0M163.8 160.7h0M134.9 175.0h0M141.6 159.8h0M126.5 178.0h0M147.5 145.8h0M142.1 173.7h0M172.8 177.9h0M115.6 170.9h0M108.7 167.1h0M165.2 149.1h0M116.1 163.7h0M125.3 158.1h0M112.8 168.1h0M128.7 134.7h0M123.4 168.0h0M134.9 135.3h0M121.7 146.9h0M135.9 142.8h0M107.4 171.7h0M177.6 176.1h0M177.3 160.2h0M118.9 173.9h0M172.2 166.4h0M176.6 172.5h0M166.9 170.1h0M133.2 166.7h0M115.0 176.7h0M164.7 146.8h0M178.0 173.2h0M129.3 171.5h0M168.8 165.4h0M149.6 160.3h0M127.9 183.0h0M115.4 179.8h0M159.6 149.4h0M162.8 183.1h0M153.6 170.2h0M139.1 181.6h0M164.2 154.7h0M162.8 176.7h0M159.6 138.7h0M110.7 170.1h0M110.1 155.7h0M150.5 179.2h0M131.5 150.2h0M131.8 141.8h0M144.5 132.8h0M141.7 166.9h0M149.9 168.5h0M155.2 174.9h0M152.3 139.4h0M181.2 173.8h0M131.8 159.4h0M135.2 138.8h0M107.7 162.7h0M180.9 176.3h0M158.2 165.7h0M179.8 171.9h0M141.7 154.6h0M115.0 176.0h0M128.8 171.7h0M139.3 152.6h0M140.5 139.0h0M130.3 166.5h0M110.0 152.7h0M156.2 151.5h0M148.5 165.4h0M145.8 144.4h0M145.2 147.4h0M134.7 169.1h0M148.4 162.7h0M123.8 174.4h0M154.0 155.8h0M172.1 165.0h0M141.2 141.6h0M107.9 154.9h0M109.6 147.2h0M169.6 178.1h0M153.3 170.1h0M122.8 157.2h0M130.2 163.6h0M110.2 160.7h0M182.6 171.6h0M161.1 156.1h0M155.3 167.8h0M136.1 154.3h0M118.2 139.6h0M167.5 147.8h0M176.4 168.4h0M135.4 135.9h0M127.6 141.3h0M111.6 145.2h0M157.0 169.5h0M123.2 183.0h0M121.5 180.8h0M164.4 153.2h0M104.7 159.8h0M140.2 157.3h0M133.4 143.3h0M170.8 169.4h0M157.0 169.5h0M175.2 155.0h0M151.4 182.6h0M125.5 168.4h0M161.2 148.8h0M115.1 139.3h0M105.1 172.4h0M107.8 144.2h0M107.5 146.9h0M179.2 168.2h0M156.7 117.2h0M130.2 181.9h0M114.2 166.0h0M176.8 166.8h0M182.6 163.4h0M158.8 160.5h0M112.5 138.9h0M120.3 172.2h0M137.1 180.1h0M145.1 164.3h0M155.8 112.6h0M125.1 148.0h0M131.5 171.4h0M122.4 143.1h0M135.9 180.9h0M127.2 143.0h0M146.3 161.2h0M136.0 168.1h0M136.5 153.3h0M145.8 120.2h0M123.0 141.6h0M129.2 147.8h0M149.6 124.7h0M154.6 146.1h0M159.1 154.7h0M113.3 141.4h0M158.6 147.6h0M149.2 152.9h0M121.0 155.0h0M142.5 175.6h0M133.5 163.1h0M114.2 140.4h0M151.1 163.3h0M170.8 174.6h0M124.4 170.1h0M129.8 171.6h0M151.9 159.8h0M143.1 183.0h0M119.3 166.7h0M105.0 164.1h0M115.5 143.9h0M154.4 119.7h0M135.6 133.2h0M120.6 138.2h0M149.2 137.0h0M151.4 114.6h0M128.1 165.4h0M139.3 150.7h0M128.0 163.3h0M138.2 137.2h0M113.3 157.1h0M179.5 175.5h0M123.0 136.1h0M149.0 159.4h0M103.8 142.5h0M162.6 158.1h0M107.5 173.2h0M115.1 156.0h0M154.3 170.5h0M112.4 176.6h0M145.1 119.3h0M117.7 155.1h0M132.5 148.5h0M153.7 183.7h0M181.5 160.9h0M115.3 161.6h0M117.8 176.1h0M146.4 164.8h0M137.2 132.3h0M173.3 167.0h0M174.0 175.9h0M162.7 175.4h0M159.5 152.6h0M170.7 151.0h0M131.9 167.2h0M176.1 172.6h0M154.9 166.0h0M123.6 165.9h0M168.0 153.6h0M155.5 155.5h0M172.5 158.1h0M150.8 162.1h0M163.0 165.2h0M143.6 178.2h0M115.3 139.4h0M158.5 150.4h0M111.9 173.4h0M106.6 162.4h0M165.0 141.3h0M104.1 156.6h0M157.2 142.0h0M172.7 172.4h0M129.2 138.6h0M144.8 136.7h0M112.4 156.9h0M117.7 137.2h0M133.4 152.8h0M137.3 172.3h0M129.6 177.3h0M127.9 164.9h0M109.7 143.1h0M148.9 128.9h0M145.8 182.9h0M175.2 174.9h0M106.8 142.4h0M143.4 131.6h0M144.5 173.5h0M162.2 160.3h0M166.1 164.4h0M103.1 149.6h0M163.4 154.2h0M111.4 139.5h0M121.4 146.0h0M135.0 146.2h0M161.5 144.3h0M110.3 151.0h0M167.0 140.3h0M119.2 164.0h0M146.7 182.7h0M130.1 176.4h0M138.9 158.9h0M131.8 162.9h0M135.5 146.2h0M132.0 152.9h0M166.6 147.6h0M135.8 128.3h0M178.5 172.5h0M158.2 144.4h0M138.5 126.7h0M139.4 161.5h0M134.1 136.5h0M128.5 135.8h0M102.3 153.9h0M116.2 166.7h0M122.7 140.0h0M125.8 148.5h0M150.5 156.2h0M123.8 163.7h0M168.3 166.6h0M116.6 139.1h0M103.6 153.2h0M133.4 136.1h0M120.4 156.2h0M110.3 161.1h0M162.6 180.6h0M159.8 136.0h0M116.4 169.6h0M122.4 176.5h0M113.0 170.5h0M169.7 166.7h0M121.6 173.7h0M131.7 180.1h0M117.0 153.7h0M181.8 162.8h0M112.7 176.5h0M161.1 164.3h0M132.7 160.2h0M153.7 183.4h0M116.3 167.7h0M118.0 162.1h0M118.1 173.6h0M151.8 170.8h0M106.0 144.7h0M130.4 130.3h0M134.7 181.6h0M118.5 161.2h0M123.8 176.9h0M103.5 149.6h0M153.0 178.7h0M116.9 145.3h0M165.9 179.5h0M106.5 162.0h0M141.7 138.8h0M165.9 149.5h0M139.0 171.2h0M167.7 169.5h0M159.2 162.2h0M178.7 168.0h0M111.0 170.5h0M122.1 169.7h0M157.1 138.7h0M151.2 164.2h0M184.7 166.3h0M173.4 152.1h0M153.7 119.2h0M177.2 174.0h0M155.9 149.5h0M145.5 184.2h0M114.3 153.4h0M164.4 150.2h0M104.4 173.1h0M156.7 167.7h0M179.3 166.0h0M114.5 169.0h0M156.6 169.5h0M134.0 154.0h0M137.4 148.8h0M144.8 143.8h0M153.2 179.1h0M136.7 149.8h0M154.0 146.7h0M161.1 157.2h0M175.4 162.3h0M143.8 176.4h0M124.4 140.8h0M117.6 166.6h0M115.9 164.4h0M145.3 151.4h0M102.8 147.5h0M133.7 168.8h0M101.7 159.9h0M165.9 173.6h0M137.2 145.0h0M138.5 165.9h0M136.7 146.6h0M154.3 141.0h0M129.1 146.8h0M102.3 165.3h0M156.5 171.0h0M123.1 152.8h0M123.1 134.5h0M106.6 145.7h0M142.9 147.8h0M115.8 165.0h0M126.8 179.4h0M108.2 162.9h0M135.1 136.9h0M159.4 175.6h0M163.4 141.9h0M119.4 155.8h0M120.2 173.1h0M150.2 162.5h0M129.5 159.2h0M122.1 145.6h0M144.1 174.5h0M158.7 149.8h0M162.8 164.9h0M163.5 141.8h0M167.5 180.3h0M119.5 178.8h0M144.7 182.8h0M145.4 129.7h0M171.5 174.3h0M145.3 130.8h0M130.2 165.9h0M157.2 140.9h0M141.1 154.0h0M115.0 139.7h0M154.7 149.3h0M154.5 149.8h0M166.3 142.2h0M173.7 157.5h0M104.7 161.4h0M108.1 172.0h0M145.9 168.4h0M121.8 148.3h0M124.2 160.6h0M123.9 149.9h0M134.4 173.7h0M139.7 176.5h0M104.3 164.7h0M106.2 168.9h0M115.7 151.7h0M109.8 162.7h0M123.2 157.3h0M178.2 163.8h0M117.3 144.6h0M144.6 123.4h0M174.0 153.8h0M154.1 168.4h0M122.2 176.9h0M103.7 172.8h0M145.4 151.3h0M146.3 127.9h0M145.0 130.2h0M170.0 155.3h0M136.7 132.3h0M148.6 173.0h0M150.7 145.4h0M151.8 175.5h0M110.2 175.8h0M155.7 145.4h0M132.0 156.3h0M157.8 178.3h0M176.5 168.5h0M173.9 156.3h0M125.1 147.0h0M153.6 155.1h0M117.7 140.1h0M148.8 183.1h0M147.7 132.3h0M115.9 178.8h0M131.3 162.0h0M136.1 163.3h0M152.8 175.7h0M126.5 154.3h0M138.6 160.1h0M133.0 135.9h0M105.3 156.3h0M117.8 157.8h0M146.4 171.8h0M146.9 144.9h0M145.0 170.0h0M144.2 160.7h0M160.1 165.6h0M153.9 183.4h0M103.7 159.8h0M131.5 166.6h0M137.1 147.8h0M135.2 172.6h0M131.4 172.6h0M150.2 133.8h0M108.6 149.9h0M132.5 148.9h0M117.5 143.0h0M152.8 139.5h0M105.6 157.5h0M114.6 163.9h0M103.3 148.7h0M135.3 135.7h0M133.6 183.3h0M103.7 171.2h0M161.0 183.6h0M171.5 154.6h0M153.4 151.5h0M156.1 159.6h0M127.3 134.7h0M124.3 168.6h0M161.8 165.3h0M169.0 146.0h0M154.5 149.4h0M160.5 169.1h0M107.6 143.4h0M159.8 161.8h0M177.6 172.5h0M144.4 180.1h0M147.6 176.8h0M139.2 134.8h0M104.8 165.6h0M144.1 139.9h0M106.7 146.0h0M124.6 148.8h0M168.6 165.5h0M149.4 166.8h0M127.0 155.6h0M125.2 170.9h0M159.6 166.0h0M153.4 141.0h0M111.8 163.8h0M110.7 156.9h0M148.6 122.2h0M115.5 149.0h0M135.5 157.6h0M102.8 159.4h0M159.9 161.3h0M104.1 146.4h0M179.4 162.2h0M160.7 166.0h0M159.2 153.4h0M152.8 143.4h0M152.2 157.3h0M165.5 153.2h0M136.4 143.1h0M138.7 150.4h0M145.4 171.5h0M140.7 135.4h0M121.9 167.2h0M130.4 180.2h0M168.1 165.1h0M177.9 167.3h0M105.9 168.4h0M183.2 176.1h0M134.4 172.0h0M147.4 137.1h0M165.1 180.0h0M129.3 136.8h0M123.9 140.5h0M159.6 151.9h0M108.1 143.7h0M157.2 170.0h0M133.5 132.4h0M116.8 180.1h0M162.5 184.3h0M159.1 147.6h0M109.1 143.7h0M121.8 143.1h0M168.3 144.4h0M152.8 150.8h0M106.6 165.0h0M140.5 178.1h0M136.4 154.0h0M154.2 120.6h0M134.1 175.5h0M121.3 143.9h0M174.5 173.3h0M126.2 160.1h0M142.3 155.7h0M167.1 145.6h0M145.2 160.8h0M151.0 141.3h0M151.2 165.4h0M135.3 150.2h0M176.2 156.0h0M118.9 157.6h0M160.8 154.1h0M125.0 151.7h0M108.0 144.3h0M111.8 142.1h0M131.9 174.5h0M140.9 165.9h0M143.4 151.4h0M132.8 161.9h0M129.3 158.4h0M119.9 172.5h0M142.8 155.7h0M148.2 161.1h0M107.7 177.8h0M167.8 164.8h0M170.6 161.1h0M183.8 164.8h0M141.6 172.4h0M133.4 169.9h0M170.3 150.8h0M133.5 133.6h0M153.1 178.8h0M161.1 179.2h0M154.5 158.5h0M117.7 166.8h0M154.0 157.6h0M169.5 154.5h0M124.2 144.6h0M110.8 152.0h0M120.1 145.9h0M162.6 143.6h0M154.1 152.7h0M146.8 182.5h0M126.9 154.9h0M161.7 157.9h0M149.0 124.6h0M114.6 145.8h0M116.1 154.3h0M128.4 173.7h0M157.0 182.8h0M142.2 183.2h0M165.3 160.0h0M154.5 169.9h0M118.7 167.7h0M133.6 133.8h0M154.3 139.1h0M148.2 120.6h0M130.7 141.8h0M144.9 146.1h0M121.0 174.8h0M177.0 162.9h0M119.9 174.7h0M138.5 147.9h0M125.4 147.0h0M125.7 146.1h0M152.3 183.7h0M117.7 151.3h0M113.6 145.1h0M122.9 157.5h0M184.1 168.2h0M121.3 139.8h0M147.6 180.3h0M175.9 157.8h0M139.8 146.7h0M133.7 181.7h0M109.6 158.6h0M153.0 180.8h0M125.6 155.5h0M127.4 148.8h0M106.8 157.7h0M123.0 183.8h0M113.2 177.9h0M111.9 137.3h0M111.7 163.8h0M121.3 177.2h0M179.4 160.9h0M149.8 138.9h0M107.7 162.5h0M164.3 169.0h0M166.7 166.0h0M145.4 180.5h0M108.0 173.4h0M137.8 134.9h0M142.7 123.4h0M113.7 145.0h0M130.8 133.4h0M116.5 139.2h0M134.5 172.4h0M148.8 134.9h0M127.8 153.9h0M104.9 159.6h0M107.3 174.1h0M154.1 164.7h0M129.0 144.0h0M157.7 147.2h0M145.0 175.5h0M108.9 167.8h0M116.5 159.6h0M117.1 146.2h0M116.8 172.7h0M126.3 139.1h0M147.5 150.0h0M129.0 160.7h0M119.9 152.0h0M145.6 160.2h0M139.4 166.7h0M172.3 181.3h0M105.2 149.8h0M123.0 157.9h0M139.3 173.3h0M141.3 141.7h0M115.3 171.2h0M159.8 173.2h0M127.2 142.5h0M151.7 173.9h0M132.3 154.8h0M145.6 149.1h0M111.7 142.0h0M136.1 177.6h0M141.8 158.0h0M123.6 141.3h0M109.5 151.2h0M122.3 156.2h0M137.0 140.6h0M132.6 140.3h0M145.8 162.0h0M165.6 146.8h0M131.5 178.4h0M141.7 139.9h0M174.6 154.0h0M181.0 167.2h0M154.9 170.6h0M137.4 155.8h0M136.5 139.3h0M171.2 169.2h0" stroke="#1f78b4" stroke-width="1.15" stroke-linecap="round" fill="none"/>
<path d="M125.7 132.3L133.3 124.7L140.9 119.0L148.5 114.2L154.2 111.4L155.1 114.2L150.4 120.9L146.6 128.5L144.7 136.1L139.0 137.9L131.4 137.0Z" fill="#1f78b4" fill-opacity="0.35" filter="url(#bl)"/>
<path d="M136.6 123.4h0M139.2 133.9h0M145.9 118.7h0M148.3 115.8h0M151.4 115.2h0M142.2 123.3h0M150.6 115.4h0M146.5 121.9h0M129.5 128.8h0M135.9 127.1h0M127.8 131.3h0M136.3 122.7h0M145.4 119.2h0M143.6 121.7h0M138.8 125.6h0M133.7 130.0h0M145.7 130.9h0M146.8 115.4h0M147.6 116.0h0M143.1 130.2h0M135.6 135.7h0M151.0 112.9h0M131.1 132.2h0M150.4 118.0h0M127.6 133.5h0M139.8 137.0h0M154.3 115.0h0M133.1 128.4h0M141.3 134.3h0M150.1 119.9h0M134.9 134.1h0M129.9 131.0h0M131.7 126.5h0M136.5 129.0h0M146.2 122.2h0M138.8 137.3h0M134.8 128.2h0M139.5 125.6h0M148.2 123.5h0M137.9 122.7h0M135.6 134.5h0M133.3 135.1h0M146.5 122.2h0M132.4 131.7h0M138.6 135.0h0M139.4 128.7h0M147.5 116.3h0M146.8 118.7h0M138.4 128.9h0M137.2 133.7h0M136.9 125.4h0M139.8 121.8h0M139.6 121.9h0M142.4 133.7h0M149.6 115.9h0M132.7 133.6h0M139.9 121.0h0M139.7 135.4h0M140.0 130.7h0M153.8 117.7h0M139.4 126.7h0M141.5 130.9h0M141.0 125.3h0M132.3 128.8h0M148.6 117.0h0M135.9 123.5h0M143.8 125.5h0M136.3 129.0h0M132.8 128.4h0M151.4 119.2h0M132.3 129.1h0M140.6 135.5h0M134.3 134.1h0M146.8 120.8h0M144.6 131.4h0M137.3 133.9h0M141.2 137.5h0M138.8 130.5h0M146.1 119.8h0M140.4 132.1h0M150.1 119.8h0M143.2 118.0h0M140.8 133.9h0M146.6 124.8h0M142.3 128.1h0M135.9 126.7h0M150.0 115.2h0M151.9 114.7h0M141.4 121.3h0M133.5 126.7h0M127.3 131.8h0M135.4 124.7h0M135.7 137.5h0M142.8 132.0h0M132.9 131.9h0M146.9 119.9h0M144.6 120.0h0M150.0 118.6h0M145.5 128.5h0M135.8 132.9h0M140.7 122.3h0M143.1 120.6h0M141.0 136.4h0M140.0 124.1h0M143.3 120.5h0M141.7 129.8h0M136.5 135.5h0M138.7 129.2h0M133.6 133.2h0M141.9 135.4h0M131.1 131.0h0M146.0 121.9h0M149.1 116.3h0M148.8 117.9h0M148.6 115.3h0M143.9 134.6h0M130.8 131.8h0M134.3 129.8h0" stroke="#1f78b4" stroke-width="1.0" stroke-linecap="round" fill="none"/>
<path d="M103.9 142.7L108.6 138.0L120.0 137.0L129.5 138.9L127.6 145.5L120.0 148.4L110.5 149.7L103.9 148.4Z" fill="#1f78b4" fill-opacity="0.6" filter="url(#bl)"/>
<path d="M116.5 140.8h0M114.1 138.8h0M125.6 138.8h0M127.4 141.9h0M114.4 139.1h0M110.8 138.0h0M106.8 149.2h0M115.7 148.1h0M107.4 144.6h0M122.6 142.7h0M118.2 141.0h0M122.6 140.7h0M108.0 141.9h0M128.5 141.3h0M110.9 143.8h0M106.8 145.0h0M108.0 139.5h0M108.1 141.3h0M120.3 138.1h0M114.2 144.0h0M113.7 138.2h0M120.6 141.2h0M107.7 139.4h0M125.3 143.3h0M128.5 142.0h0M117.6 141.2h0M124.7 140.4h0M125.4 143.8h0M104.3 144.4h0M115.7 145.1h0M108.6 145.3h0M124.6 143.0h0M126.3 142.9h0M125.6 138.4h0M110.7 146.6h0M105.6 146.1h0M115.4 138.6h0M124.1 139.4h0M124.3 139.4h0M128.5 139.2h0M116.2 142.7h0M122.6 146.4h0M112.0 138.8h0M122.2 138.1h0M120.8 139.6h0M125.6 141.6h0M115.7 143.0h0M116.5 146.8h0M108.1 148.4h0M126.0 145.7h0M113.0 140.0h0M111.0 144.7h0M115.5 137.3h0M114.6 146.9h0M123.9 140.3h0M127.2 144.2h0M109.8 139.6h0M114.5 139.3h0M108.4 147.3h0M123.8 144.9h0M116.5 139.3h0M115.5 142.2h0M121.2 147.4h0M110.1 147.9h0M114.5 137.9h0M112.7 140.7h0M114.1 146.1h0M105.1 145.3h0M111.6 143.9h0M116.8 147.7h0M111.9 137.9h0M122.7 142.2h0M110.2 139.6h0M109.1 142.2h0M125.6 137.4h0M108.2 145.0h0M119.4 137.5h0M104.6 147.9h0M115.8 142.1h0M115.6 142.6h0M113.5 148.7h0M124.3 141.9h0M108.4 145.5h0M121.6 145.8h0M115.0 143.1h0M124.1 143.9h0M122.9 140.1h0M122.2 146.1h0M120.1 137.8h0M114.6 146.2h0M110.9 143.9h0M119.1 137.8h0M107.8 148.7h0M110.9 149.5h0M119.4 145.3h0M106.4 147.6h0M111.6 139.2h0M108.3 142.2h0M111.3 140.8h0M114.3 146.8h0M108.8 148.1h0M123.9 140.4h0M125.2 139.8h0M109.0 141.8h0M125.8 138.7h0M118.0 141.6h0M107.9 139.6h0M120.9 147.7h0M127.5 140.8h0M117.6 146.3h0M119.4 144.7h0M108.0 143.3h0M123.0 139.9h0M120.3 140.5h0M109.4 150.0h0M115.5 137.5h0M126.6 140.5h0M117.6 139.1h0M123.7 146.7h0M114.2 140.4h0M126.6 143.4h0M120.2 147.3h0M117.2 147.4h0M115.4 143.7h0M125.8 144.5h0M126.8 141.4h0M125.4 139.8h0M116.2 140.9h0M110.9 139.9h0M121.9 146.6h0M119.1 142.2h0M125.2 141.9h0M126.7 143.5h0M122.0 142.9h0M121.7 146.7h0M115.6 143.6h0" stroke="#1f78b4" stroke-width="1.0" stroke-linecap="round" fill="none"/>
<path d="M140.9 139.8L150.4 137.0L161.8 137.0L168.4 141.7L171.3 149.3L177.0 156.9L182.6 162.6L185.5 168.3L183.0 176.0L178.0 182.0L170.0 183.0L159.9 178.0L150.4 170.2L144.7 160.7L141.9 151.2Z" fill="#1f78b4" fill-opacity="0.55" filter="url(#bl)"/>
<path d="M152.0 169.3h0M159.0 167.7h0M160.5 155.5h0M164.9 153.1h0M152.0 143.5h0M169.7 157.6h0M164.3 141.9h0M148.1 160.2h0M179.3 181.5h0M143.6 153.2h0M164.5 170.0h0M179.0 172.1h0M153.9 154.9h0M178.9 177.0h0M174.0 167.7h0M163.0 158.3h0M183.5 165.2h0M172.7 174.7h0M158.4 148.9h0M154.1 146.7h0M154.7 164.8h0M178.2 172.5h0M157.6 149.1h0M173.3 174.5h0M152.3 149.6h0M150.7 166.6h0M169.0 172.1h0M161.2 145.4h0M159.5 168.0h0M175.2 178.0h0M144.8 161.2h0M154.7 146.1h0M173.8 168.9h0M170.2 143.3h0M158.0 169.6h0M159.5 140.8h0M183.3 170.1h0M167.8 148.8h0M144.7 141.2h0M163.6 180.1h0M179.9 168.7h0M143.3 144.5h0M181.1 176.0h0M155.0 137.8h0M180.4 160.6h0M169.3 169.7h0M160.1 156.5h0M161.3 141.4h0M167.7 142.0h0M152.3 162.4h0M148.1 162.7h0M167.2 167.8h0M168.4 146.2h0M149.7 167.1h0M146.3 156.6h0M173.5 174.9h0M164.4 142.3h0M167.0 148.1h0M147.8 165.4h0M149.2 149.5h0M151.1 167.6h0M174.0 165.0h0M151.7 142.4h0M150.4 144.4h0M169.2 150.4h0M178.9 161.9h0M153.7 142.5h0M173.1 173.0h0M161.5 149.7h0M151.3 157.8h0M163.8 158.9h0M153.0 140.6h0M167.4 150.0h0M173.5 166.1h0M165.0 141.7h0M154.9 136.6h0M154.7 171.5h0M159.3 170.0h0M166.3 162.8h0M149.2 145.9h0M154.1 146.7h0M179.6 176.7h0M163.4 166.9h0M174.4 169.2h0M160.7 160.8h0M146.7 152.3h0M166.8 147.0h0M162.2 156.5h0M152.5 156.5h0M152.5 157.8h0M162.0 166.2h0M149.4 152.8h0M153.1 162.3h0M164.3 156.3h0M176.0 160.3h0M156.4 157.9h0M175.5 162.8h0M158.1 150.3h0M162.3 147.1h0M175.5 180.6h0M157.4 170.2h0M164.1 164.3h0M163.4 160.0h0M154.9 148.7h0M156.9 152.2h0M163.8 155.5h0M147.4 156.1h0M150.0 165.0h0M147.9 164.5h0M154.3 172.5h0M179.6 162.1h0M180.4 165.8h0M172.7 168.4h0M160.0 155.5h0M167.2 143.4h0M147.3 141.0h0M164.3 175.5h0M147.5 147.0h0M149.3 145.3h0M170.8 169.3h0M164.9 141.7h0M168.2 163.0h0M165.8 153.4h0M154.5 140.0h0M176.4 167.8h0M152.5 148.7h0M162.1 169.8h0M149.1 145.1h0M172.0 150.2h0M149.5 148.3h0M145.0 140.6h0M155.6 173.9h0M167.7 175.2h0M152.7 158.7h0M156.9 150.9h0M154.4 138.5h0M151.7 162.0h0M155.8 170.6h0M148.3 141.6h0M176.8 163.7h0M172.6 171.1h0M161.8 163.1h0M175.6 169.6h0M172.6 154.3h0M148.4 167.9h0M151.7 151.8h0M169.9 169.2h0M169.5 146.3h0M170.7 157.9h0M180.2 169.1h0M168.2 168.9h0M163.5 174.6h0M163.2 152.7h0M160.0 144.0h0M145.6 144.3h0M167.3 172.7h0M166.5 177.7h0M170.6 176.0h0M166.4 165.7h0M181.7 177.2h0M151.9 163.2h0M180.6 172.3h0M152.0 161.7h0M179.9 169.1h0M151.3 158.3h0M184.5 166.3h0M167.2 158.9h0M151.3 167.4h0M175.3 161.3h0M146.1 138.8h0M160.8 172.3h0M144.8 142.4h0M160.9 172.7h0M151.4 168.5h0M165.0 174.4h0M167.4 149.0h0M142.3 137.7h0M158.8 144.5h0M154.2 147.8h0M161.8 145.5h0M167.0 174.0h0M167.0 180.2h0M145.7 154.5h0M176.5 165.0h0M155.1 137.4h0M164.8 157.9h0M177.6 177.8h0M141.4 144.3h0M163.2 159.2h0M161.5 139.7h0M168.2 179.0h0M169.3 172.0h0M148.4 162.0h0M178.8 159.0h0M159.9 175.1h0M174.3 171.9h0M177.1 164.7h0M148.0 161.3h0M159.9 145.3h0M166.1 143.0h0M176.6 175.5h0M152.6 148.3h0M174.1 172.7h0M157.4 142.1h0M146.9 163.0h0M175.9 156.3h0M186.8 168.0h0M164.3 177.6h0M150.5 139.0h0M165.3 161.8h0M180.7 171.4h0M173.6 155.8h0M180.1 167.1h0M157.8 148.5h0M151.1 168.9h0M149.7 145.9h0M170.2 172.0h0M145.7 142.6h0M166.7 161.9h0M173.5 161.6h0M176.4 180.3h0M161.3 142.2h0M166.4 176.0h0M166.0 165.8h0M143.0 150.4h0M163.4 160.7h0M160.5 155.4h0M163.0 157.8h0M164.1 170.1h0M161.0 157.0h0M179.4 162.9h0M177.1 172.9h0M161.7 164.5h0M165.9 161.2h0M151.4 143.6h0M168.0 152.2h0M172.8 165.0h0M166.5 168.8h0M168.9 167.0h0M178.0 159.1h0M183.0 164.2h0M168.8 179.9h0M166.7 141.9h0M167.8 155.7h0M153.0 171.4h0M161.0 168.8h0M177.3 158.5h0M165.2 171.3h0M149.5 166.6h0M159.5 164.9h0M148.5 158.8h0M150.6 156.2h0M161.6 170.2h0M155.4 145.3h0M172.4 155.8h0M143.2 141.4h0M149.7 166.9h0M166.7 164.3h0M149.4 155.5h0M167.6 148.6h0M163.9 138.5h0M176.7 160.7h0M178.0 180.5h0M146.1 154.4h0M158.7 145.2h0M184.7 167.1h0M170.5 172.2h0M176.2 179.8h0M163.9 151.8h0M161.9 170.5h0M156.7 145.5h0M149.6 139.3h0M162.9 156.9h0M158.6 173.9h0M158.5 175.8h0M157.7 153.6h0M145.7 145.7h0M181.2 175.3h0M154.1 144.8h0M164.8 178.0h0M165.0 164.1h0M169.5 149.5h0M156.5 138.7h0M180.9 173.5h0M147.4 156.6h0M149.1 149.5h0M166.5 177.9h0M161.8 156.9h0M159.6 152.8h0M176.4 175.2h0M165.2 174.5h0M158.6 156.6h0M145.8 155.1h0M161.3 152.3h0M176.9 164.0h0M176.5 173.9h0M168.1 162.6h0M148.2 161.0h0M173.2 174.1h0M170.3 151.8h0M175.9 166.2h0M154.8 170.4h0M167.2 179.6h0M148.4 139.1h0M178.9 173.9h0M157.5 170.9h0M156.1 154.8h0M170.9 158.0h0M145.3 153.8h0M173.7 181.2h0M141.9 143.2h0M158.1 168.1h0M162.6 156.1h0M141.8 142.5h0M158.5 177.3h0M161.7 158.2h0M167.0 175.7h0M158.0 141.4h0M154.2 172.2h0M170.3 154.8h0M158.3 149.0h0M183.4 166.5h0M168.6 176.1h0M142.8 142.9h0M170.7 147.6h0M181.3 169.6h0M148.3 145.5h0M161.4 156.5h0M153.8 159.7h0M154.1 143.3h0M158.7 142.5h0M147.0 139.3h0M170.4 161.5h0M180.6 165.0h0M167.2 181.4h0M175.7 171.8h0M169.0 155.0h0M177.0 164.2h0M167.9 143.4h0M169.4 155.4h0M147.8 153.9h0M168.7 169.2h0M169.1 170.0h0M152.0 144.7h0M161.8 155.2h0M148.8 162.5h0M152.7 165.8h0M150.8 167.2h0M180.6 164.1h0M175.9 174.1h0M150.7 147.3h0M161.7 143.1h0M171.7 183.0h0M158.0 165.4h0M184.8 167.2h0M167.3 170.2h0M168.4 164.9h0M163.5 177.1h0M165.0 158.3h0M150.2 164.7h0M164.0 167.1h0M171.6 171.9h0M172.6 173.0h0M166.9 144.2h0M176.9 180.7h0M173.5 178.4h0M154.3 160.4h0M159.1 144.8h0M168.1 146.7h0M160.9 172.4h0M175.6 176.6h0M153.5 155.3h0M171.9 160.5h0M148.3 164.6h0M161.5 154.2h0M150.5 150.1h0M180.1 169.3h0M160.9 163.4h0M160.0 140.6h0M157.0 168.3h0M181.9 164.1h0M157.6 143.5h0M174.4 178.7h0M149.1 161.0h0M167.2 152.0h0M152.2 143.5h0M156.0 152.0h0M153.4 160.3h0M149.4 142.8h0M145.3 139.3h0M181.6 165.5h0M155.0 142.2h0M153.8 151.0h0M145.4 142.0h0M145.6 147.4h0M164.7 164.5h0M145.5 139.4h0M146.3 151.2h0M179.2 164.0h0M151.9 168.8h0M161.2 178.6h0M158.7 163.0h0M175.8 170.2h0M161.3 138.7h0M168.7 145.1h0M156.4 153.2h0M160.4 160.8h0M160.1 164.7h0M161.2 156.8h0M148.7 166.2h0M171.8 182.6h0M171.6 165.2h0M182.7 164.5h0M171.1 167.2h0M149.9 143.0h0M150.1 152.5h0M162.8 168.2h0M153.0 146.1h0M142.4 145.1h0M169.4 180.1h0M155.8 162.9h0M154.7 151.0h0M152.8 156.9h0M166.5 147.0h0M150.7 165.4h0M173.9 155.6h0M175.3 158.6h0M159.3 148.5h0M160.1 151.0h0M144.1 143.3h0M175.7 168.1h0M166.0 141.5h0M145.0 141.3h0M143.5 143.4h0M179.2 161.0h0M150.9 157.7h0M177.8 176.5h0M150.6 147.6h0M167.7 181.3h0M163.6 150.9h0M157.5 161.8h0M165.6 144.2h0M167.3 169.5h0M162.5 159.5h0M145.1 143.3h0M152.5 159.3h0M146.3 154.2h0M179.4 180.7h0M177.8 170.2h0M152.5 168.8h0M162.0 169.9h0M159.2 170.4h0M151.9 142.9h0M148.6 162.1h0M154.8 151.5h0M179.3 175.5h0M151.5 137.6h0M170.5 146.8h0M149.7 148.3h0M149.5 137.6h0M160.4 170.7h0M148.5 150.7h0M154.6 169.4h0M148.7 168.7h0M151.5 171.6h0M155.1 169.9h0M172.9 177.3h0M170.1 171.6h0M171.0 182.6h0M158.0 151.4h0M158.8 171.8h0M169.7 141.7h0M166.1 159.9h0M150.4 151.9h0M149.7 157.0h0M144.1 149.8h0M172.5 157.3h0M160.3 143.1h0M156.6 162.4h0M170.5 179.5h0M147.1 141.9h0M149.8 139.1h0M168.6 164.1h0M158.7 155.4h0M148.9 156.4h0M148.6 162.6h0M183.7 171.7h0M183.2 169.1h0M156.0 166.0h0M174.7 172.9h0M159.2 157.4h0M162.7 170.6h0M164.8 147.5h0M163.1 146.1h0M166.5 174.0h0M169.5 163.6h0M175.9 156.6h0M164.2 180.6h0M177.7 159.3h0M147.6 149.1h0M161.5 175.2h0M172.0 163.7h0M148.6 148.6h0M153.8 153.7h0M151.2 137.9h0M167.7 168.9h0M166.1 159.2h0M161.4 155.0h0M177.2 162.1h0M154.5 156.7h0M172.3 160.8h0M153.2 144.2h0M151.5 154.0h0M160.1 163.9h0M149.1 148.6h0M146.8 161.7h0M172.2 156.5h0M164.9 171.3h0M167.2 174.5h0M171.4 175.4h0M151.0 151.7h0M164.4 154.8h0M177.9 170.8h0M156.2 140.6h0M146.4 139.0h0M168.8 165.5h0M142.6 141.9h0M172.4 159.4h0M155.1 147.9h0M162.7 160.3h0M163.1 173.2h0M169.8 149.4h0M153.2 140.1h0M159.9 165.3h0M176.5 168.7h0M167.5 164.0h0M174.4 170.9h0M148.7 142.4h0M170.7 159.3h0M157.7 169.3h0M153.3 156.4h0M163.4 138.7h0M173.9 175.0h0M153.4 148.7h0M145.3 161.3h0M154.4 168.1h0M163.2 156.4h0M177.8 177.0h0M160.3 145.1h0M156.3 168.3h0M150.6 148.3h0M161.0 165.6h0M172.1 157.0h0M152.6 167.4h0M169.9 144.4h0M145.4 159.2h0M153.3 156.9h0M161.6 140.7h0M156.0 151.6h0M162.2 156.3h0M151.9 158.0h0M153.5 150.8h0M170.0 160.6h0M151.1 149.9h0M170.8 159.7h0M178.1 158.8h0M177.0 181.1h0M154.2 164.3h0M144.6 149.9h0M179.5 166.9h0M181.1 160.3h0M172.4 153.5h0M171.5 171.6h0M158.9 140.0h0M153.0 167.4h0M158.3 154.7h0M162.0 164.8h0M168.3 153.3h0M153.4 166.0h0M149.8 167.1h0M155.7 144.9h0M168.1 167.9h0M165.9 156.2h0M158.2 163.7h0M160.3 168.2h0M166.9 160.7h0M184.1 173.5h0M142.9 138.1h0M156.1 154.3h0M177.1 178.2h0M182.9 170.6h0M154.6 145.5h0M158.1 147.0h0M162.2 156.4h0M169.1 177.3h0M149.5 154.9h0M160.9 153.3h0M145.6 150.8h0M169.1 175.5h0M160.0 136.6h0M180.9 170.5h0M174.9 175.3h0M160.1 138.7h0M176.9 181.5h0M171.3 181.4h0M148.1 150.8h0M152.4 154.1h0M158.3 150.7h0M164.6 165.0h0M165.7 146.8h0M154.7 160.0h0M169.5 154.2h0M163.9 162.9h0M170.4 163.8h0M155.4 150.4h0M164.1 180.6h0M167.6 162.5h0M159.9 159.1h0M158.4 172.8h0M170.0 180.5h0M149.9 160.2h0M153.3 170.4h0M153.1 171.3h0M149.2 166.0h0M152.3 167.3h0M149.4 141.9h0M155.3 172.1h0M173.0 159.5h0M163.8 142.4h0M154.4 163.7h0M151.1 151.9h0M169.5 177.9h0M180.8 170.1h0M177.0 164.1h0M159.3 159.1h0M166.3 172.4h0M174.7 174.7h0M177.1 172.9h0M171.1 159.4h0M149.2 154.1h0M168.1 173.0h0M153.4 160.9h0M174.8 175.9h0M174.8 154.8h0M154.8 153.5h0M166.3 175.9h0M143.4 150.0h0M180.5 164.8h0M165.9 146.9h0M169.3 162.2h0M177.6 163.6h0M155.2 155.5h0M142.2 140.8h0M146.8 143.5h0M171.0 166.9h0M155.6 164.6h0M154.5 166.1h0M149.2 162.1h0M172.3 150.9h0M153.5 142.6h0M149.4 141.6h0" stroke="#1f78b4" stroke-width="1.0" stroke-linecap="round" fill="none"/>
<path d="M118.1 175.9L121.9 172.1L129.5 171.7L137.1 175.0L140.9 179.7L135.2 183.5L125.7 183.5L119.1 180.6Z" fill="#1f78b4" fill-opacity="0.6" filter="url(#bl)"/>
<path d="M128.4 176.5h0M138.7 178.5h0M124.7 181.3h0M126.7 176.5h0M139.0 177.2h0M121.2 178.3h0M134.7 182.1h0M122.5 178.3h0M121.7 177.2h0M132.2 181.9h0M132.6 176.1h0M126.2 177.8h0M123.8 173.9h0M128.6 173.2h0M130.9 176.4h0M121.8 179.9h0M129.2 179.2h0M136.7 178.0h0M122.7 183.2h0M133.4 178.6h0M119.9 176.5h0M130.4 173.2h0M119.1 178.2h0M127.7 183.1h0M122.1 175.6h0M127.5 180.9h0M136.1 177.3h0M129.4 176.4h0M123.4 177.1h0M131.1 182.4h0M126.0 176.6h0M119.0 180.2h0M125.9 172.5h0M122.7 175.0h0M126.6 174.9h0M119.7 176.2h0M132.9 176.4h0M120.3 177.3h0M130.2 181.8h0M130.5 177.2h0M132.5 177.5h0M126.2 174.2h0M129.5 174.8h0M125.9 182.7h0M131.4 181.1h0M129.6 183.1h0M131.6 175.8h0M130.2 176.2h0M139.5 179.7h0M133.3 177.0h0M128.0 172.2h0M130.7 173.2h0M132.0 176.4h0M125.0 177.3h0M133.7 180.6h0M135.9 174.8h0M130.6 174.8h0M123.1 174.4h0M132.1 174.6h0M128.9 176.7h0M135.8 175.9h0M135.2 184.0h0M122.3 180.2h0M129.4 174.1h0M133.2 180.0h0M125.9 175.4h0M134.8 178.8h0M130.3 172.1h0M122.2 173.0h0M123.0 174.3h0M129.8 174.1h0M131.2 176.2h0M125.4 174.8h0M134.4 176.9h0M129.5 170.7h0M128.0 176.1h0M130.6 177.5h0M122.0 180.0h0M141.0 180.6h0M129.3 182.1h0M128.3 182.2h0M120.0 175.7h0M126.9 172.9h0M120.3 180.0h0M138.7 180.8h0M122.5 172.4h0M128.8 175.1h0M129.0 180.4h0M127.1 175.2h0M124.3 179.4h0M126.9 172.7h0M132.7 174.5h0M128.1 175.7h0M136.9 180.5h0M136.2 180.2h0M136.5 179.4h0M136.6 174.7h0M131.3 179.3h0M138.3 177.4h0M132.2 181.4h0M129.8 181.6h0M121.4 177.8h0M125.0 174.7h0M131.7 182.8h0M122.4 179.0h0M130.1 178.8h0M126.5 176.2h0M127.0 182.9h0M124.0 175.5h0" stroke="#1f78b4" stroke-width="1.0" stroke-linecap="round" fill="none"/>
<path d="M94.0 215.0L100.0 209.0L112.0 205.0L128.0 204.0L145.0 203.0L160.0 205.0L165.0 210.0L160.0 215.5L147.0 217.0L135.0 218.0L123.0 218.5L112.0 221.5L104.0 221.0L97.0 219.0Z" fill="#a6cee3" fill-opacity="0.6" filter="url(#bl)"/>
<path d="M130.4 209.8h0M128.3 209.5h0M139.2 216.6h0M109.5 221.0h0M117.4 217.7h0M101.6 209.3h0M114.6 213.8h0M97.4 214.8h0M157.4 212.6h0M111.7 220.9h0M134.9 211.8h0M101.6 214.9h0M100.6 218.7h0M137.8 209.4h0M146.5 208.4h0M114.4 214.4h0M98.0 215.4h0M107.9 215.8h0M123.6 212.8h0M132.2 206.3h0M115.4 220.7h0M131.4 207.3h0M144.2 208.1h0M119.1 212.3h0M140.6 213.4h0M106.3 218.4h0M135.2 206.0h0M97.9 214.5h0M144.7 213.0h0M121.9 216.7h0M116.7 211.0h0M128.5 211.1h0M100.6 216.2h0M114.7 210.3h0M118.6 209.8h0M115.7 206.0h0M108.0 215.3h0M125.3 215.3h0M119.2 203.8h0M112.7 217.3h0M104.0 215.5h0M137.8 214.9h0M118.9 214.3h0M96.6 213.7h0M105.5 207.5h0M106.8 214.1h0M127.7 213.4h0M141.5 206.9h0M111.6 206.1h0M102.3 209.0h0M161.9 210.0h0M117.3 217.5h0M99.5 215.5h0M140.4 205.1h0M125.2 207.8h0M121.6 214.1h0M133.8 216.7h0M160.1 206.9h0M146.6 209.5h0M110.6 208.3h0M98.9 217.9h0M138.4 206.6h0M131.2 215.1h0M119.7 210.0h0M148.9 217.0h0M102.1 211.7h0M100.3 216.2h0M112.9 217.8h0M138.5 207.3h0M162.0 208.8h0M124.5 206.5h0M113.1 210.3h0M121.7 215.8h0M163.4 212.6h0M115.0 214.0h0M137.5 207.1h0M121.9 206.4h0M154.8 212.3h0M121.3 210.8h0M153.2 204.5h0M124.3 213.3h0M103.7 214.7h0M155.5 213.2h0M139.0 211.0h0M150.3 202.3h0M117.0 211.2h0M161.2 207.1h0M102.5 216.5h0M113.2 208.9h0M104.9 209.8h0M128.3 203.8h0M114.8 211.0h0M126.6 206.0h0M126.9 218.3h0M120.7 213.1h0M155.5 204.6h0M130.5 209.7h0M112.2 204.7h0M158.5 214.2h0M153.3 215.0h0M125.2 207.3h0M102.7 215.1h0M101.1 218.2h0M132.8 208.6h0M158.7 211.0h0M137.5 214.0h0M145.6 205.4h0M100.5 215.9h0M141.7 205.4h0M119.6 209.6h0M107.7 206.2h0M160.2 209.9h0M106.1 210.7h0M116.2 219.7h0M152.5 204.8h0M160.6 211.3h0M115.3 211.7h0M145.5 208.7h0M140.8 212.5h0M103.9 209.0h0M121.1 209.3h0M156.4 210.7h0M115.8 217.9h0M163.3 209.5h0M154.3 216.1h0M127.8 209.6h0M143.8 204.5h0M151.4 207.1h0M119.5 203.9h0M108.3 216.8h0M132.1 213.2h0M152.4 214.9h0M107.9 220.0h0M141.9 212.1h0M136.8 209.4h0M123.8 209.8h0M98.9 216.9h0M124.6 207.9h0M113.6 219.7h0M135.1 211.0h0M140.9 211.2h0M154.8 216.4h0M116.4 213.2h0M136.5 211.9h0M152.6 206.5h0M133.2 210.5h0M150.0 213.9h0M122.9 208.7h0M153.1 210.9h0M130.5 210.7h0M100.8 219.6h0M111.5 208.6h0M151.6 212.7h0M153.5 206.9h0M111.9 218.3h0M116.5 215.3h0M146.9 206.4h0M101.4 209.9h0M113.6 219.9h0M119.0 207.3h0M111.4 213.2h0M137.5 205.0h0M124.7 216.2h0M149.4 216.9h0M100.4 218.8h0M145.0 214.8h0M119.4 212.8h0M139.7 210.9h0M114.0 206.7h0M129.5 215.3h0M117.2 209.2h0M117.7 217.4h0M122.9 214.6h0M119.0 211.7h0M153.8 210.0h0M126.2 210.5h0M104.6 213.9h0M114.4 216.7h0M109.9 213.0h0M107.6 208.7h0M160.9 208.2h0M125.8 216.5h0M139.9 204.2h0M117.5 211.7h0M143.8 215.0h0M109.0 213.8h0M99.8 214.8h0M130.3 215.2h0M156.5 206.7h0M141.7 214.5h0M110.3 221.0h0M106.4 213.9h0M103.9 210.2h0M130.4 205.4h0M134.6 206.7h0M151.1 210.5h0M137.3 216.4h0M142.2 204.8h0M111.2 210.2h0M161.9 209.9h0M116.6 208.6h0M122.2 209.4h0M121.9 208.0h0M125.5 206.6h0M162.8 208.4h0M143.5 216.2h0M103.8 208.4h0M112.5 209.0h0M142.2 210.7h0M109.1 207.7h0M140.3 211.0h0M153.8 210.7h0M109.7 214.6h0M141.4 212.2h0M135.7 206.1h0M121.0 206.3h0M152.8 212.3h0M135.2 215.2h0M160.5 206.2h0M97.7 217.6h0M159.1 207.0h0M138.0 214.2h0M115.1 212.5h0M123.1 213.6h0M133.5 208.8h0M122.8 208.6h0M145.8 205.5h0M110.3 214.0h0M103.7 217.8h0M135.0 217.3h0M121.5 213.3h0M107.0 214.7h0M144.5 205.3h0M116.2 215.7h0M136.3 210.6h0M139.9 208.2h0M147.0 205.9h0M105.9 209.3h0M122.3 211.9h0M152.3 206.5h0M148.7 211.0h0M130.7 216.9h0M162.2 207.3h0M146.7 213.4h0M142.0 215.0h0M146.9 213.0h0M145.0 216.6h0M117.8 217.4h0M109.8 218.8h0M137.9 204.4h0M158.4 210.9h0M119.6 212.0h0M154.6 205.9h0M147.5 207.7h0M144.1 209.8h0M105.6 212.9h0M113.4 209.6h0M161.4 208.3h0M164.4 211.8h0M161.8 211.4h0M104.0 214.8h0M115.4 221.2h0M136.8 206.2h0M131.5 210.9h0M106.9 218.7h0M154.6 206.6h0M153.7 210.2h0M115.7 216.4h0M140.3 213.9h0M148.7 205.0h0M107.5 218.3h0M150.3 216.7h0M133.3 218.4h0M111.6 207.5h0M155.1 206.1h0M147.0 206.1h0M154.4 214.4h0M125.4 204.7h0M148.1 205.7h0M119.7 207.2h0M116.8 206.4h0M113.2 206.7h0M140.5 214.7h0M103.3 213.9h0M115.9 219.6h0M110.5 209.4h0M103.7 208.1h0M144.6 213.2h0M109.6 219.7h0M105.5 208.6h0M156.6 206.6h0M120.4 213.4h0M118.7 210.1h0M115.0 217.2h0M154.1 215.8h0M106.0 214.0h0M144.2 206.4h0M151.2 206.6h0M149.7 207.6h0M121.7 217.5h0M138.7 206.8h0M103.3 218.4h0M96.6 215.6h0M102.7 216.1h0M108.6 207.8h0M142.9 211.6h0M148.1 213.2h0M144.3 206.0h0M106.5 221.2h0M132.2 208.5h0M131.7 214.1h0M114.2 211.9h0M128.4 217.5h0M103.0 213.3h0M155.9 212.5h0M155.9 210.6h0M128.8 204.8h0M106.6 208.3h0M99.8 214.3h0M138.6 211.2h0M118.6 210.7h0M157.7 205.7h0M117.6 208.4h0M105.6 214.2h0M137.7 211.7h0M126.5 209.1h0M161.9 213.0h0M146.6 213.9h0M140.9 216.8h0M124.9 214.4h0M145.0 210.9h0M133.6 213.0h0M150.0 211.2h0M136.1 207.9h0M106.5 212.2h0M151.0 215.3h0M112.2 205.9h0M102.8 219.2h0M133.1 216.0h0M151.7 215.4h0M146.8 216.1h0M121.5 212.4h0M105.6 220.7h0M96.7 216.5h0M138.1 208.5h0M108.7 215.5h0M117.8 218.8h0M110.1 220.3h0M124.8 210.3h0M123.3 213.9h0M120.0 206.8h0M138.5 213.1h0M150.3 207.6h0M102.2 209.8h0M133.7 217.0h0M119.3 217.9h0M142.4 210.3h0M148.4 203.8h0M101.5 213.3h0M131.4 210.1h0M157.6 213.8h0M155.2 207.6h0M122.5 214.8h0M103.0 213.1h0M96.9 217.9h0M144.6 207.9h0M156.7 215.2h0M153.1 206.5h0M111.9 206.8h0M138.8 214.6h0M159.1 206.1h0M114.5 219.9h0M128.0 209.5h0M118.6 210.3h0M137.3 208.5h0M121.5 208.7h0M132.1 203.5h0M134.4 218.0h0M106.7 216.7h0M96.5 215.5h0M114.3 215.7h0M139.8 216.1h0M140.9 202.9h0M130.1 206.9h0M118.3 218.7h0M123.4 217.7h0M97.5 215.5h0M120.4 217.5h0M112.6 208.5h0M131.7 214.4h0M134.9 206.1h0M118.9 211.5h0M146.2 207.3h0M108.8 208.8h0M136.0 217.6h0M155.9 214.0h0M101.9 218.2h0M141.0 207.6h0M112.3 206.5h0M107.9 206.9h0M95.7 214.7h0M105.5 211.2h0M157.2 212.7h0M159.2 215.4h0M112.2 210.1h0M137.4 215.6h0M128.5 218.5h0M94.8 216.1h0M140.4 211.6h0M105.4 214.2h0M98.1 220.1h0M101.5 219.8h0M148.7 214.6h0M132.7 214.7h0M135.0 204.8h0M112.1 217.8h0M112.1 218.1h0M137.3 209.1h0M125.8 215.2h0M128.3 207.1h0M112.2 210.9h0M109.6 218.2h0M125.2 215.8h0M107.5 214.9h0M142.6 206.1h0M109.3 218.7h0M154.3 209.0h0M100.2 215.9h0M115.9 212.8h0M113.3 219.0h0M148.1 216.6h0M107.3 212.7h0M126.6 209.8h0M132.7 217.1h0M142.8 205.7h0M101.4 212.2h0M118.6 211.6h0M145.5 207.5h0M130.0 202.9h0M123.4 209.2h0M149.0 213.8h0M118.8 216.6h0M107.0 208.0h0M100.1 212.1h0M142.1 213.3h0M134.0 214.4h0M131.6 210.0h0M113.1 211.0h0M105.8 212.3h0M120.6 206.1h0" stroke="#a6cee3" stroke-width="1.0" stroke-linecap="round" fill="none"/>
<path d="M140.0 186.0L152.0 182.0L166.0 181.0L177.0 184.0L179.0 192.0L178.5 203.0L176.0 211.0L168.0 215.0L160.0 213.0L155.0 205.0L148.0 200.0L140.0 195.0Z" fill="#a6cee3" fill-opacity="0.5" filter="url(#bl)"/>
<path d="M170.5 196.7h0M172.2 204.3h0M156.6 199.0h0M161.8 189.9h0M150.6 189.2h0M146.9 189.8h0M152.4 196.1h0M160.6 211.3h0M163.5 199.6h0M175.3 203.8h0M166.4 182.7h0M150.8 185.5h0M165.5 211.1h0M140.4 191.5h0M172.2 188.6h0M151.7 183.6h0M177.5 193.9h0M146.2 188.2h0M165.6 191.3h0M174.8 203.2h0M141.1 189.7h0M167.3 202.0h0M167.1 199.0h0M162.0 183.1h0M178.6 204.0h0M149.9 191.1h0M160.5 193.2h0M154.8 202.9h0M154.0 204.1h0M177.1 183.8h0M166.9 202.3h0M167.6 204.6h0M173.9 195.0h0M168.7 195.0h0M174.1 206.5h0M165.9 211.1h0M170.9 203.8h0M163.9 200.2h0M165.5 187.7h0M155.8 184.9h0M173.8 194.3h0M168.9 204.2h0M172.7 197.5h0M161.7 180.1h0M177.9 189.7h0M149.8 194.6h0M167.4 184.4h0M162.5 210.5h0M166.6 185.4h0M151.2 201.0h0M173.3 195.2h0M162.2 201.2h0M154.6 202.1h0M151.7 187.5h0M172.7 207.0h0M166.5 197.3h0M167.0 190.8h0M141.7 187.8h0M153.1 183.5h0M151.5 182.2h0M166.2 210.2h0M166.7 198.1h0M171.9 199.9h0M174.2 196.1h0M173.3 195.5h0M175.5 202.5h0M154.6 185.7h0M149.3 189.6h0M175.6 203.8h0M172.2 208.6h0M174.7 206.9h0M169.9 190.8h0M154.7 200.2h0M159.6 187.3h0M167.8 195.1h0M159.6 207.8h0M142.1 190.3h0M154.2 200.2h0M158.6 196.9h0M161.1 201.3h0M146.1 185.8h0M175.9 195.7h0M158.2 183.5h0M142.7 192.6h0M140.7 193.9h0M150.0 188.6h0M153.0 194.2h0M162.8 197.0h0M173.8 201.0h0M162.8 201.0h0M176.5 207.5h0M159.9 190.5h0M170.7 208.6h0M170.0 203.1h0M156.2 192.4h0M153.2 185.8h0M144.2 192.0h0M176.7 198.8h0M166.7 185.9h0M169.0 195.6h0M171.0 211.2h0M148.3 197.0h0M170.9 195.8h0M172.6 208.1h0M151.2 188.3h0M147.7 199.3h0M151.0 184.9h0M169.7 198.4h0M151.5 200.5h0M161.4 210.1h0M160.2 210.7h0M176.4 201.6h0M177.5 207.4h0M179.1 191.6h0M176.2 209.2h0M160.1 181.6h0M176.1 193.2h0M169.3 207.0h0M156.8 188.5h0M163.0 198.6h0M166.2 180.4h0M172.0 200.6h0M158.2 203.9h0M142.9 188.3h0M159.5 187.3h0M158.7 208.0h0M152.1 195.6h0M147.3 190.2h0M156.2 188.2h0M153.6 201.9h0M139.5 184.9h0M172.0 185.6h0M146.3 191.4h0M167.1 203.8h0M142.5 193.0h0M175.9 192.5h0M142.5 193.6h0M153.4 195.9h0M145.0 194.2h0M168.7 187.9h0M170.1 183.9h0M155.9 185.8h0M165.1 192.0h0M149.1 199.3h0M158.1 194.6h0M164.9 210.0h0M146.5 192.6h0M175.5 187.4h0M156.4 190.2h0M146.6 196.1h0M159.0 187.0h0M177.5 189.3h0M168.9 202.1h0M152.2 187.2h0M158.5 184.7h0M152.7 186.1h0M152.0 185.5h0M146.2 197.5h0M161.3 190.4h0M167.8 212.0h0M165.2 199.7h0M140.9 191.7h0M154.6 186.3h0M144.3 196.5h0M174.0 194.7h0M152.3 187.8h0M175.0 190.7h0M156.9 205.0h0M153.9 182.9h0M167.9 187.8h0M173.3 187.1h0M157.7 198.8h0M170.4 183.7h0M161.9 186.1h0M166.0 188.4h0M157.7 207.6h0M144.8 195.9h0M158.2 203.2h0M158.7 210.4h0M167.2 198.6h0M154.8 182.5h0M175.0 199.4h0M165.4 206.7h0M174.7 190.8h0M161.7 196.0h0M177.6 196.5h0M148.2 184.5h0M171.1 206.0h0M174.0 196.1h0M167.3 188.9h0M159.1 187.2h0M147.0 198.3h0M176.2 201.9h0M150.7 192.0h0M172.3 211.9h0M149.8 188.4h0M159.4 183.1h0M147.6 184.5h0M171.6 186.4h0M173.7 189.8h0M149.4 198.9h0M174.8 204.5h0M168.5 202.9h0M164.9 197.2h0M169.4 207.0h0M172.4 204.8h0M175.3 194.8h0M159.6 189.2h0M165.0 179.8h0M161.7 194.4h0M164.3 197.2h0M170.8 212.1h0M162.2 213.7h0M153.1 196.7h0M171.3 197.9h0M164.7 193.3h0M152.5 198.6h0M167.6 213.6h0M160.9 209.5h0M154.1 190.2h0M173.9 202.7h0M146.7 194.2h0M171.1 198.8h0M160.1 196.1h0M169.1 192.2h0M171.9 200.3h0M173.1 208.2h0M168.8 196.9h0M156.6 188.0h0M146.1 185.1h0M160.3 182.9h0M145.0 194.8h0M174.8 198.0h0M167.0 211.3h0M176.5 190.4h0M166.2 209.1h0M154.6 201.3h0M169.0 183.8h0M148.4 182.5h0M151.3 187.0h0M169.2 190.4h0M169.2 194.0h0M170.6 195.0h0M141.4 196.1h0M142.2 193.2h0M165.7 211.3h0M159.7 204.7h0M151.5 197.4h0M167.9 200.9h0M148.5 196.8h0M173.5 207.3h0M171.3 205.6h0M168.6 200.4h0M145.0 183.7h0M153.8 183.9h0M159.9 211.9h0M171.9 184.8h0M173.3 194.3h0M167.8 186.4h0M158.4 205.7h0M164.6 196.0h0M173.7 193.8h0M155.9 201.2h0M153.2 188.2h0M153.8 183.4h0M150.2 192.0h0M166.9 196.0h0M155.3 191.5h0M171.0 210.6h0M171.1 200.1h0M160.6 196.0h0M160.6 189.2h0M175.9 199.1h0M165.6 192.5h0M174.1 190.0h0M146.2 187.8h0M157.9 209.9h0M165.6 193.7h0M173.5 210.2h0M158.3 197.0h0M160.1 197.0h0M148.1 192.8h0M172.0 191.5h0M147.2 197.5h0M177.1 199.4h0M154.7 191.8h0M161.9 196.2h0M157.8 190.9h0M171.2 192.0h0M146.7 194.5h0M158.6 199.1h0M168.2 190.2h0M172.4 188.6h0M162.6 195.0h0M178.6 187.9h0M168.9 192.8h0M148.4 184.0h0M176.6 194.0h0M165.9 181.9h0M163.7 186.7h0M168.5 191.6h0M175.0 191.6h0M173.6 208.0h0M150.5 195.9h0M167.8 202.8h0M162.0 187.0h0M166.0 187.1h0M164.3 211.4h0M156.6 187.1h0M159.8 210.3h0M155.0 189.7h0M168.6 196.4h0M170.5 184.5h0M172.9 193.6h0M147.0 190.7h0M171.8 199.3h0M176.4 206.7h0M160.0 197.6h0M178.5 196.0h0M167.4 208.9h0M158.1 198.0h0M167.5 192.1h0M173.2 185.2h0M141.1 192.8h0M162.2 189.1h0M143.0 185.7h0M163.0 192.9h0M177.4 208.2h0M170.9 210.7h0M165.9 187.6h0M141.0 192.6h0M151.1 193.5h0M175.0 184.6h0M167.7 197.7h0M155.8 194.0h0M160.8 209.4h0M176.2 199.6h0M151.7 196.3h0M176.1 209.3h0M168.4 191.6h0M159.8 191.2h0M178.4 203.2h0M176.5 202.6h0M170.8 207.8h0M162.8 186.8h0M140.0 192.6h0M169.7 207.6h0M172.8 186.8h0M175.6 206.8h0M159.1 210.9h0M172.3 203.9h0M154.9 182.9h0M168.3 212.7h0M168.9 185.5h0M168.3 207.1h0M178.8 190.5h0M152.7 202.7h0M165.8 185.5h0M175.0 192.1h0M165.7 187.8h0M156.4 185.4h0M167.8 181.5h0M166.0 186.5h0M157.4 195.2h0M157.4 181.7h0M149.3 199.3h0M176.3 192.1h0M161.7 193.7h0M157.1 200.8h0M167.1 208.9h0M161.9 183.9h0M155.3 197.5h0M154.4 199.4h0M163.1 181.9h0M165.7 209.5h0M166.9 194.6h0M160.0 203.2h0M175.8 192.3h0M158.7 206.1h0M149.1 192.7h0M144.1 187.0h0M155.0 188.2h0M142.4 185.7h0M163.5 184.1h0M173.1 186.4h0M160.0 187.0h0M159.1 189.8h0M174.3 201.4h0M165.3 210.8h0M163.8 187.3h0M162.4 211.8h0M162.8 182.4h0M164.1 183.4h0M169.5 207.6h0M177.4 189.7h0M153.6 191.7h0M159.3 196.4h0M148.6 191.4h0M143.5 185.7h0M165.8 188.1h0M173.8 206.4h0M176.5 187.4h0M149.5 197.3h0M160.7 196.3h0M178.2 196.3h0M155.2 185.5h0M141.4 192.4h0M175.3 206.3h0M170.7 209.5h0M161.1 204.2h0M167.2 191.6h0M161.3 196.6h0M175.2 207.6h0M175.2 208.4h0M151.1 189.8h0M166.6 183.7h0M178.0 195.4h0M159.8 199.8h0M159.7 197.7h0M159.0 192.4h0M165.1 185.0h0M162.8 188.9h0M157.6 198.8h0M162.3 183.0h0" stroke="#a6cee3" stroke-width="1.0" stroke-linecap="round" fill="none"/>
<path d="M110.0 188.0L122.0 184.0L140.0 184.0L148.0 200.0L140.0 203.0L125.0 204.0L112.0 205.0Z" fill="#a6cee3" fill-opacity="0.15" filter="url(#bl)"/>
<path d="M114.0 192.1h0M139.6 197.2h0M131.2 202.8h0M131.2 191.6h0M128.1 185.1h0M127.8 201.9h0M141.7 189.2h0M117.1 192.3h0M132.2 196.1h0M131.7 186.5h0M131.1 199.6h0M140.8 192.0h0M137.8 196.8h0M141.2 200.8h0M131.0 202.1h0M134.7 200.4h0M136.5 190.1h0M124.5 189.6h0M123.8 194.9h0M142.6 194.4h0M121.4 192.3h0M121.5 190.0h0M138.8 199.1h0M139.4 192.8h0M136.3 191.6h0M137.1 201.8h0M121.1 189.4h0M139.7 195.2h0M140.2 200.5h0M120.6 193.1h0M133.3 202.9h0M135.5 188.8h0M127.3 186.5h0M124.4 191.0h0M120.1 204.6h0M141.3 198.8h0M119.7 198.8h0M145.7 197.9h0M124.1 193.9h0M128.7 194.4h0M117.0 187.9h0M113.4 193.4h0M133.5 198.0h0M134.3 189.3h0M112.6 199.8h0M123.0 184.7h0M131.4 190.0h0M127.2 193.7h0M119.7 198.3h0M139.0 199.6h0M128.1 187.5h0M122.2 188.9h0M118.3 187.7h0M114.3 202.8h0M117.3 205.4h0M117.3 200.1h0M143.1 195.3h0M125.7 183.7h0M129.9 192.7h0M136.0 203.0h0M120.0 185.9h0M142.1 192.6h0M128.7 202.5h0M135.1 190.2h0M132.9 190.8h0M118.4 191.2h0M120.8 188.3h0M123.6 193.6h0M131.9 203.2h0M113.7 188.9h0M130.9 195.8h0M144.4 198.7h0M135.5 190.6h0M110.6 191.0h0M139.8 194.5h0M123.6 193.0h0M133.0 202.6h0M121.0 190.8h0M125.4 197.7h0M129.8 186.3h0M136.2 190.9h0M134.4 188.5h0M125.1 194.4h0M131.3 201.1h0M119.6 199.1h0M112.1 187.9h0M113.1 190.4h0M139.2 199.6h0M125.9 186.9h0M123.1 204.3h0M132.3 185.7h0M139.5 188.7h0M125.4 193.3h0M133.0 195.6h0M126.3 202.1h0M122.3 190.0h0M128.7 203.3h0M121.4 191.6h0M139.7 201.1h0M111.1 199.1h0M117.8 199.8h0M117.4 186.9h0M123.0 198.4h0M125.4 190.5h0M125.1 197.8h0M123.9 192.1h0M137.4 190.2h0M131.5 197.5h0M132.9 188.7h0M134.7 190.1h0M111.6 190.5h0M124.5 191.1h0M142.0 201.3h0M138.3 202.6h0M131.0 202.2h0M122.2 189.4h0M113.3 204.6h0M126.6 192.7h0M133.1 197.9h0M133.9 202.2h0M139.9 200.0h0M116.4 188.2h0M129.2 195.2h0M123.1 188.0h0M119.2 191.0h0M129.2 185.5h0M112.4 202.7h0M128.3 200.8h0M134.0 197.1h0M116.3 203.3h0M112.9 195.8h0M117.9 192.2h0M112.6 191.8h0M140.7 198.1h0M113.9 187.2h0M136.4 202.4h0M121.9 204.2h0M121.1 185.2h0M121.9 195.2h0M139.5 195.0h0M123.6 200.7h0M123.6 193.4h0M124.0 199.7h0M123.9 192.2h0M134.0 199.6h0M141.2 188.9h0M131.2 191.5h0M115.6 190.3h0M121.6 194.8h0M134.1 198.4h0M125.9 188.6h0M126.3 192.3h0M136.2 192.3h0M124.0 203.1h0M124.9 186.3h0M118.5 195.0h0M137.9 187.2h0M136.9 193.9h0M135.8 200.8h0M116.3 203.0h0M120.8 185.1h0M134.9 189.1h0M139.0 187.0h0M129.2 196.6h0M142.9 196.4h0M144.7 196.4h0M135.4 190.0h0M123.6 192.8h0M137.0 188.0h0M118.4 200.1h0M134.5 187.8h0M127.7 194.6h0M135.5 197.0h0M133.6 188.9h0M130.8 198.7h0M118.9 187.4h0M112.3 194.9h0M122.4 192.3h0M130.0 188.9h0M114.2 203.8h0M132.2 203.1h0M126.9 203.4h0M111.7 202.8h0M117.5 192.1h0M119.7 201.4h0M113.7 195.4h0M112.3 203.5h0M136.5 202.1h0M129.4 192.4h0M141.8 197.7h0" stroke="#a6cee3" stroke-width="1.0" stroke-linecap="round" fill="none"/>
<path d="M89.7 177.8L103.0 175.0L109.6 183.5L112.4 198.7L108.6 210.1L103.0 208.2L93.5 200.6L84.0 194.9L80.2 191.1L82.1 185.4Z" fill="#33a02c" fill-opacity="0.55" filter="url(#bl)"/>
<path d="M101.3 204.4h0M104.9 177.9h0M93.3 193.9h0M84.6 192.4h0M109.5 206.3h0M81.0 191.4h0M86.9 187.3h0M85.8 181.9h0M93.5 191.5h0M93.7 189.4h0M105.1 202.3h0M100.9 182.5h0M98.5 187.2h0M109.9 201.1h0M91.6 195.3h0M104.3 191.0h0M89.4 185.3h0M93.8 197.1h0M84.7 187.3h0M98.7 179.4h0M106.7 184.6h0M97.0 186.3h0M100.3 198.8h0M105.8 203.0h0M104.4 208.4h0M83.5 186.5h0M98.9 195.3h0M105.1 181.1h0M87.5 195.2h0M107.5 201.8h0M102.6 176.9h0M87.1 180.5h0M84.0 190.4h0M107.4 195.7h0M87.3 190.8h0M100.1 193.6h0M86.7 186.2h0M105.2 186.0h0M108.1 201.6h0M101.8 175.6h0M109.3 195.1h0M99.8 175.2h0M108.2 198.0h0M97.4 195.0h0M107.5 195.5h0M110.4 190.7h0M104.5 187.2h0M103.6 184.0h0M105.3 208.3h0M89.2 177.9h0M107.8 203.1h0M94.8 189.4h0M99.2 187.9h0M94.4 201.2h0M104.3 194.2h0M108.2 201.5h0M104.4 176.0h0M109.5 199.3h0M98.4 191.2h0M106.2 202.8h0M87.8 183.3h0M87.2 194.4h0M89.7 190.7h0M108.6 189.1h0M108.6 204.8h0M108.9 185.8h0M97.3 181.5h0M102.7 205.2h0M95.3 203.0h0M97.3 178.3h0M87.5 197.9h0M102.4 176.8h0M107.4 200.1h0M95.8 177.2h0M94.1 199.0h0M82.7 188.9h0M104.7 192.0h0M88.3 185.5h0M93.5 199.5h0M102.7 190.5h0M101.7 188.4h0M89.9 184.0h0M103.1 196.5h0M110.2 188.6h0M94.2 196.1h0M102.7 204.8h0M102.4 180.3h0M103.0 177.9h0M98.2 196.4h0M98.5 196.6h0M105.9 207.5h0M107.8 184.3h0M97.9 183.5h0M88.5 188.8h0M90.6 184.2h0M103.2 181.7h0M102.1 204.2h0M102.3 186.0h0M106.3 205.2h0M102.8 206.6h0M97.5 183.1h0M96.2 185.4h0M95.8 197.1h0M95.9 179.7h0M100.6 181.2h0M93.3 184.7h0M86.1 183.8h0M109.4 189.6h0M98.4 183.4h0M92.7 195.8h0M89.1 185.2h0M105.6 201.8h0M90.9 180.9h0M83.2 191.9h0M99.2 192.6h0M97.3 192.3h0M98.1 198.7h0M101.1 205.3h0M97.7 195.0h0M109.5 209.1h0M110.8 196.0h0M91.5 198.4h0M91.2 195.4h0M102.3 181.6h0M106.7 189.3h0M100.3 184.5h0M97.2 197.4h0M107.8 187.7h0M99.5 197.1h0M90.4 193.4h0M96.8 188.0h0M105.3 177.9h0M95.4 182.3h0M97.7 187.5h0M94.5 200.9h0M90.1 183.3h0M90.4 189.7h0M102.2 184.0h0M105.3 202.4h0M100.4 182.7h0M111.5 198.4h0M90.6 188.2h0M97.8 192.8h0M101.9 200.5h0M96.2 186.4h0M104.0 205.8h0M96.7 198.0h0M110.0 201.2h0M103.5 205.2h0M108.3 204.0h0M88.6 197.0h0M88.3 181.9h0M107.6 183.3h0M94.0 187.5h0M108.5 206.3h0M99.1 193.5h0M94.3 196.8h0M92.4 188.4h0M99.1 194.7h0M109.4 185.1h0M92.3 197.9h0M83.6 194.4h0M93.1 182.9h0M109.0 185.3h0M107.3 191.1h0M101.3 192.1h0M92.1 197.8h0M108.8 196.4h0M107.7 188.8h0M110.2 202.6h0M95.8 200.9h0M108.8 197.3h0M104.8 203.4h0M107.4 186.4h0M97.8 203.7h0M106.8 200.7h0M81.2 190.2h0M98.9 185.7h0M103.1 190.9h0M100.7 181.5h0M101.7 207.5h0M87.4 185.8h0M81.5 189.2h0M94.3 198.6h0M90.9 193.5h0M105.6 187.7h0M96.8 191.8h0M112.7 198.8h0M96.8 190.7h0M89.4 191.4h0M95.7 193.9h0M89.2 189.0h0M89.1 189.2h0M89.3 193.2h0M89.6 193.8h0M106.9 197.9h0M95.3 187.0h0M104.3 179.1h0M90.8 191.8h0M96.3 196.7h0M103.3 190.8h0M103.7 199.5h0M87.1 194.7h0M104.9 206.8h0M99.3 184.6h0M96.8 193.5h0M95.6 192.2h0M83.1 188.1h0M87.6 188.1h0M92.5 192.8h0M93.5 194.4h0M85.9 192.0h0M85.2 187.6h0M92.1 184.4h0M97.4 181.0h0M91.8 196.0h0M91.4 179.0h0M87.2 183.8h0M109.5 206.9h0M87.2 196.5h0M98.6 200.7h0M107.3 207.4h0M95.9 180.8h0M107.4 203.6h0M87.1 185.0h0M106.4 180.8h0M85.6 194.4h0M95.1 185.9h0M110.2 200.6h0M98.7 189.9h0M81.9 191.8h0M101.6 190.8h0M110.8 203.0h0M93.8 193.2h0M102.8 177.0h0M94.9 181.1h0M112.5 197.3h0M109.5 186.3h0M90.3 191.5h0M104.9 181.8h0M97.6 185.3h0M97.3 203.7h0M87.0 188.6h0M98.2 177.3h0M101.2 182.7h0M108.5 205.3h0M101.2 203.3h0M85.8 191.8h0M103.5 185.3h0M92.1 197.2h0M96.6 199.9h0M104.6 180.9h0M87.7 181.1h0M96.8 187.8h0M98.6 190.4h0M85.9 186.8h0M87.9 191.3h0M100.3 198.3h0M93.5 179.6h0M96.7 200.8h0M103.7 200.7h0M90.5 183.2h0M103.0 185.6h0M105.3 203.8h0M95.6 189.7h0M99.4 203.6h0M87.9 194.6h0M87.0 184.7h0M107.7 205.9h0M106.0 202.5h0M101.1 203.5h0M100.1 187.1h0M89.5 197.3h0M104.6 181.1h0M92.9 179.7h0M102.0 206.7h0M96.4 191.4h0M103.0 188.9h0M97.9 187.3h0M89.8 178.4h0M96.0 187.5h0M88.4 188.4h0M98.8 204.3h0M102.7 182.0h0M83.1 186.6h0M93.1 189.3h0M96.8 192.8h0M102.9 183.5h0M106.5 181.0h0M95.5 184.1h0M100.6 201.8h0M88.9 194.5h0M99.8 197.1h0M93.0 198.4h0M95.2 199.0h0M84.6 192.6h0M107.6 200.0h0M83.7 188.7h0M99.4 177.4h0M89.0 179.3h0M104.3 200.7h0M86.2 183.0h0M87.6 186.3h0M108.5 193.4h0M96.7 181.2h0M103.6 182.5h0M91.3 183.2h0M104.9 203.1h0M84.9 194.5h0M102.8 194.3h0M106.3 184.5h0M99.6 178.0h0M101.4 176.5h0M89.6 184.8h0M103.8 200.2h0M89.4 190.0h0M98.7 179.5h0M103.3 187.2h0M104.6 203.1h0M109.2 205.3h0M104.7 209.0h0M96.0 187.3h0M108.7 201.4h0M104.2 190.7h0M89.6 191.3h0M108.7 182.1h0M107.7 202.6h0M96.0 177.0h0M101.2 189.9h0M92.3 194.3h0M93.1 186.1h0M99.7 179.5h0M90.5 193.5h0M100.2 176.9h0M105.5 205.6h0M100.2 184.2h0M87.6 183.2h0M108.8 193.2h0M89.4 186.7h0M97.0 190.9h0M112.0 198.4h0M96.9 177.3h0M111.3 200.5h0M89.8 183.5h0M102.2 178.1h0M90.7 194.5h0M92.1 197.6h0M94.5 184.2h0M100.8 197.3h0" stroke="#33a02c" stroke-width="1.0" stroke-linecap="round" fill="none"/>
<path d="M207.0 191.0L215.0 190.5L222.0 195.0L224.0 198.0L218.0 197.5L210.0 195.0Z" fill="#33a02c" fill-opacity="0.5" filter="url(#bl)"/>
<path d="M218.5 193.6h0M207.2 191.7h0M219.5 194.5h0M215.1 195.3h0M214.8 195.6h0M214.0 192.9h0M214.5 194.5h0M218.3 194.2h0M213.2 195.3h0M221.6 198.4h0M213.9 191.3h0M215.9 192.3h0M222.7 194.5h0M214.4 195.0h0M222.1 197.2h0M212.2 196.3h0M208.4 194.1h0M208.2 191.4h0M216.8 195.4h0M214.5 195.3h0M216.1 191.0h0M215.0 191.0h0M212.7 194.3h0M210.4 193.5h0M216.1 193.2h0M216.5 196.6h0M212.2 193.1h0M218.0 196.6h0M212.5 192.5h0M217.1 191.0h0" stroke="#33a02c" stroke-width="1.0" stroke-linecap="round" fill="none"/>
<path d="M178.4 210.0h0M175.3 212.3h0M183.8 215.2h0M181.0 222.4h0M172.8 211.6h0M191.7 224.2h0M196.7 227.3h0M199.9 214.9h0M184.7 214.4h0M190.1 211.2h0M190.2 224.1h0M179.1 217.0h0M185.7 214.1h0M190.8 222.0h0M193.7 225.5h0M175.5 210.6h0M193.5 223.8h0M196.6 229.2h0M199.5 211.9h0M180.9 221.2h0M190.8 216.2h0M199.6 225.2h0" stroke="#1f78b4" stroke-width="0.9" stroke-linecap="round" fill="none"/>
<path d="M212.8 219.4h0M216.6 213.7h0M202.5 217.2h0M197.8 207.9h0M217.6 220.5h0M205.1 216.2h0M199.6 218.5h0M204.2 218.3h0M197.1 210.2h0M217.6 216.6h0M214.5 212.8h0M213.9 206.8h0M212.5 208.9h0M214.0 213.6h0" stroke="#1f78b4" stroke-width="0.9" stroke-linecap="round" fill="none"/>
<path d="M183.6 222.9h0M186.3 220.9h0M186.2 225.7h0M190.0 215.8h0M187.3 219.0h0M195.6 214.4h0M191.8 225.9h0M192.7 225.1h0" stroke="#a6cee3" stroke-width="0.9" stroke-linecap="round" fill="none"/>
<path d="M169.2 248.0L170.1 242.8L173.6 240.1L177.1 244.5L178.8 249.8L184.1 253.3L189.3 258.5L191.1 262.9L185.8 266.4L178.8 266.4L173.6 262.0L170.1 256.8L168.3 251.5Z" fill="#fdbf6f" fill-opacity="0.5" filter="url(#bl)"/>
<path d="M178.7 248.0h0M188.8 260.8h0M188.7 263.6h0M184.3 255.4h0M171.7 247.2h0M184.2 265.6h0M184.1 262.5h0M172.2 250.5h0M174.7 243.3h0M181.4 266.9h0M174.8 263.7h0M182.4 263.7h0M175.5 247.0h0M180.7 256.6h0M179.2 252.7h0M183.9 262.5h0M173.2 241.2h0M184.5 259.5h0M186.1 255.8h0M182.5 262.2h0M177.8 261.7h0M177.0 264.3h0M176.9 248.4h0M178.9 262.8h0M182.2 260.7h0M185.7 265.2h0M175.9 248.2h0M175.6 245.2h0M174.6 246.5h0M171.0 249.4h0M176.8 245.3h0M172.0 249.2h0M174.3 247.1h0M178.5 256.0h0M172.5 252.8h0M188.1 264.5h0M168.5 256.0h0M178.3 255.4h0M172.8 257.4h0M174.4 243.0h0M172.1 256.7h0M188.7 263.5h0M179.2 264.7h0M178.6 247.7h0M172.6 246.8h0M181.7 263.4h0M174.6 257.9h0M173.7 258.0h0M183.8 260.7h0M176.5 253.1h0M181.6 262.6h0M189.3 261.0h0M171.6 246.1h0M180.8 255.7h0M173.7 242.1h0M168.2 253.6h0M181.3 260.2h0M186.5 258.3h0M183.9 258.5h0M170.1 254.2h0M175.5 244.1h0M172.1 241.7h0M184.5 257.1h0M180.4 265.5h0M175.4 255.5h0M186.3 262.0h0M184.1 260.2h0M178.8 256.4h0M169.6 252.9h0M174.2 258.5h0M181.0 257.7h0M181.4 262.1h0M180.8 256.5h0M176.2 248.4h0M176.1 252.8h0M177.7 255.7h0M185.6 260.6h0M188.9 259.0h0M182.0 254.1h0M169.1 248.9h0M179.4 254.3h0M175.7 249.4h0M187.0 258.8h0M186.0 254.3h0M172.8 258.3h0M184.4 253.7h0M180.0 256.3h0M178.2 260.8h0M176.6 264.9h0M178.0 248.6h0M183.6 260.3h0M174.2 252.3h0M174.2 245.9h0M168.7 251.9h0M178.4 250.1h0M183.9 260.9h0M183.4 257.5h0M186.4 263.3h0M173.4 261.6h0M178.5 262.5h0M175.5 254.3h0M170.6 253.5h0M184.6 266.0h0M183.5 261.9h0M181.8 259.2h0M171.6 252.1h0M188.4 261.4h0M176.3 252.8h0M172.9 254.4h0M173.5 245.1h0M187.7 263.8h0M184.7 265.0h0M181.3 264.4h0M173.3 256.9h0M181.2 256.0h0M172.4 247.5h0M183.4 266.7h0M171.7 246.2h0M176.0 256.6h0M179.6 251.6h0M169.8 249.4h0M186.8 260.3h0M173.1 255.9h0M177.8 248.2h0M181.5 253.2h0M172.0 254.3h0M187.6 259.5h0M170.2 243.6h0M189.0 258.3h0M173.4 258.8h0M169.0 253.7h0M175.2 250.8h0M184.6 261.9h0M187.2 256.3h0M180.5 258.1h0M186.5 260.5h0M177.1 258.4h0M188.5 256.4h0M172.7 259.0h0M177.2 259.1h0M184.7 265.2h0M171.5 247.9h0M172.6 248.7h0M176.0 251.7h0M176.7 248.3h0M172.1 244.6h0M173.4 253.0h0M187.4 264.3h0M181.3 264.6h0M175.7 262.4h0M172.3 257.7h0M177.4 259.3h0M187.3 257.1h0M175.6 252.1h0M187.3 263.1h0M174.9 241.9h0M180.9 264.4h0" stroke="#fdbf6f" stroke-width="1.0" stroke-linecap="round" fill="none"/>
<path d="M120.0 299.9h0M121.9 298.7h0M122.4 299.3h0M121.5 299.2h0M119.9 299.6h0M120.1 299.8h0" stroke="#ffff99" stroke-width="1.0" stroke-linecap="round" fill="none"/>
<path d="M312.6 105.8L316.7 104.0L323.7 104.6L331.9 106.9L338.9 110.4L344.7 113.4L347.1 116.3L344.7 120.4L342.4 125.0L340.1 130.9L336.6 136.7L334.2 135.5L335.4 128.5L336.6 122.7L337.7 118.0L333.1 113.4L326.1 110.4L319.0 109.3L314.4 109.9L312.0 108.7Z" fill="#fb9a99" fill-opacity="0.7" filter="url(#bl)"/>
<path d="M326.4 107.1h0M339.5 117.1h0M346.1 118.4h0M335.7 131.0h0M338.8 131.5h0M328.3 109.6h0M338.7 132.5h0M340.8 120.8h0M324.1 104.8h0M340.4 120.4h0M337.3 113.8h0M337.2 128.0h0M334.4 108.4h0M336.3 126.8h0M318.7 107.9h0M336.7 116.8h0M336.5 128.0h0M328.3 109.4h0M314.5 108.6h0M314.2 107.2h0M338.1 119.0h0M344.1 115.1h0M313.7 109.5h0M313.8 107.1h0M343.3 115.3h0M331.3 110.2h0M319.4 107.5h0M339.0 111.0h0M331.9 111.5h0M339.4 117.7h0M337.8 130.2h0M315.2 107.7h0M337.4 123.6h0M328.2 108.7h0M334.8 114.5h0M320.8 107.6h0M325.1 106.0h0M344.1 119.1h0M330.3 108.7h0M342.0 112.7h0M328.1 110.2h0M338.6 118.2h0M338.9 132.3h0M329.0 106.6h0M321.3 106.2h0M338.4 126.2h0M337.4 113.2h0M344.8 118.5h0M335.9 112.5h0M341.6 121.9h0M324.3 109.1h0M325.0 107.9h0M339.3 130.2h0M322.6 108.2h0M341.9 125.9h0M341.5 114.9h0M342.5 113.5h0M313.2 108.6h0M333.2 110.2h0M339.3 110.7h0M335.9 131.4h0M337.2 118.2h0M335.5 112.5h0M339.3 118.9h0M339.9 124.7h0M336.4 132.0h0M330.2 108.4h0M311.9 107.3h0M337.7 112.9h0M337.2 112.5h0M343.4 118.6h0M341.4 115.5h0M326.0 109.8h0M344.4 114.4h0M330.2 107.3h0M326.1 106.3h0M336.7 112.3h0M332.2 113.5h0M344.5 114.8h0M344.4 115.0h0M331.0 112.6h0M335.8 112.1h0M343.9 115.0h0M334.2 109.0h0M340.9 114.4h0M341.2 113.1h0M337.5 121.2h0M329.3 108.7h0M320.4 107.3h0M336.4 114.6h0M341.8 126.0h0M326.4 106.0h0M313.3 108.4h0M341.9 125.1h0M337.4 122.7h0M343.5 114.9h0M344.9 119.6h0M326.2 107.0h0M315.7 106.9h0M338.9 123.7h0M321.2 107.4h0M339.5 127.2h0M344.9 118.9h0M340.6 126.3h0M331.2 108.8h0M323.9 105.1h0M344.5 122.4h0M337.4 134.5h0M324.4 107.8h0M336.5 135.4h0M328.3 108.0h0M340.9 117.0h0M335.1 133.1h0M344.5 121.0h0M312.8 107.8h0M335.4 109.4h0M321.5 106.5h0M314.4 107.2h0M334.2 110.8h0M342.5 120.9h0M322.6 105.7h0M342.0 114.5h0M337.0 115.1h0M320.8 108.5h0M340.2 128.0h0M315.0 109.8h0M343.2 120.7h0M333.4 111.6h0M315.9 106.4h0M339.0 122.4h0M331.7 108.1h0M327.2 107.3h0M334.3 110.3h0M321.1 106.0h0M345.7 116.2h0M337.2 127.2h0M318.5 104.0h0M336.3 128.2h0M337.1 127.6h0M338.1 133.9h0M323.8 106.8h0M318.9 108.5h0M343.9 118.9h0M339.1 126.7h0M342.4 124.7h0M343.4 125.9h0M336.7 127.5h0M344.2 114.5h0M343.7 117.4h0M317.0 106.4h0M341.8 127.6h0M333.6 111.9h0M338.8 134.1h0M334.2 134.9h0M337.6 126.9h0M337.5 133.4h0M339.9 112.3h0M341.3 121.4h0M313.1 106.3h0M337.3 118.6h0M321.4 105.0h0M336.4 128.8h0M341.8 122.7h0M335.5 113.7h0M328.9 107.4h0M341.2 123.3h0M324.3 105.8h0M340.0 111.3h0M323.3 108.1h0M337.7 122.7h0M344.1 113.6h0M343.6 119.9h0M339.7 126.8h0M345.3 117.6h0M313.8 108.7h0M337.3 118.6h0M321.4 108.4h0M340.9 129.6h0M336.1 128.9h0" stroke="#fb9a99" stroke-width="1.0" stroke-linecap="round" fill="none"/>
<path d="M295.0 153.4L303.8 151.9L312.6 150.5L321.3 149.0L330.1 146.8L332.3 149.0L331.5 153.4L328.6 157.8L321.3 160.0L312.6 160.7L303.8 159.2L298.0 156.3Z" fill="#fb9a99" fill-opacity="0.7" filter="url(#bl)"/>
<path d="M328.6 148.3h0M305.2 158.3h0M303.5 156.2h0M305.1 154.9h0M314.7 151.2h0M319.3 154.2h0M323.9 156.4h0M331.5 147.6h0M314.5 156.9h0M325.5 153.4h0M312.0 154.2h0M313.8 153.0h0M314.1 155.6h0M330.1 148.0h0M324.6 157.7h0M330.4 150.1h0M329.9 153.0h0M326.5 148.5h0M319.0 155.8h0M318.8 155.9h0M307.2 151.5h0M299.3 154.4h0M313.8 153.9h0M326.1 150.2h0M312.8 156.5h0M324.7 152.3h0M319.6 150.7h0M320.3 155.6h0M303.1 157.8h0M325.7 155.6h0M311.1 153.0h0M308.4 156.1h0M317.5 158.9h0M327.4 156.3h0M320.6 151.7h0M313.8 151.6h0M307.6 155.3h0M309.2 151.0h0M302.2 157.0h0M309.5 154.0h0M309.2 150.5h0M322.2 150.5h0M309.3 152.9h0M316.4 150.3h0M305.9 157.2h0M317.5 153.4h0M313.0 159.7h0M317.7 158.0h0M323.3 154.9h0M308.4 156.1h0M314.9 153.7h0M297.6 154.8h0M320.5 149.7h0M322.5 148.9h0M319.4 156.1h0M323.6 151.6h0M318.3 151.6h0M301.4 159.0h0M305.1 155.4h0M296.4 153.9h0M310.0 156.3h0M320.1 155.1h0M299.3 152.8h0M309.6 154.3h0M320.3 154.1h0M298.2 156.6h0M300.9 154.6h0M319.1 158.9h0M307.5 151.4h0M331.9 153.3h0M309.3 158.6h0M323.8 159.0h0M323.4 157.4h0M319.8 152.4h0M316.5 150.3h0M314.2 157.4h0M307.6 151.8h0M313.6 151.1h0M315.3 151.3h0M300.8 154.5h0M326.8 148.6h0M323.8 150.1h0M331.5 153.1h0M319.7 153.7h0M306.9 156.3h0M314.5 154.4h0M308.4 154.8h0M329.6 155.7h0M317.7 153.7h0M318.5 155.5h0M300.5 157.2h0M297.1 152.7h0M319.8 160.8h0M307.5 151.5h0M319.5 156.2h0M323.4 154.2h0M321.7 151.4h0M326.5 157.7h0M310.1 158.2h0M317.5 149.6h0M324.3 156.3h0M304.9 155.2h0M309.1 155.7h0M302.3 153.1h0M329.3 155.6h0M330.1 148.1h0M310.8 153.9h0M318.9 150.5h0M325.9 146.6h0M309.0 158.3h0M308.3 159.4h0M324.7 158.4h0M317.0 154.8h0M324.4 154.0h0M304.4 159.6h0M326.1 150.6h0M311.7 152.5h0M329.2 158.0h0M322.7 148.6h0M315.7 159.9h0M316.2 156.6h0M305.8 158.9h0M314.1 155.6h0M308.9 154.4h0M321.0 149.5h0M316.9 154.5h0M330.3 152.5h0M310.6 161.7h0M312.6 160.4h0M327.1 155.8h0M306.5 153.2h0M331.2 150.7h0M309.9 157.4h0M314.7 151.3h0M327.3 150.5h0M302.6 153.2h0M322.6 150.8h0M305.3 153.1h0M309.6 150.8h0M315.3 152.5h0M323.2 152.5h0M315.5 154.7h0M320.8 148.6h0M320.4 158.8h0M301.1 152.8h0M306.8 153.9h0M309.0 159.9h0M327.0 156.7h0M324.3 158.5h0M313.3 158.0h0M320.9 156.8h0M323.3 150.9h0M318.9 154.6h0M309.8 154.4h0M325.2 149.5h0M324.6 150.4h0M319.1 155.9h0M304.9 152.8h0M321.2 152.3h0M328.3 151.7h0M323.7 154.1h0M312.0 154.7h0M297.7 153.9h0M304.9 160.3h0M303.7 157.4h0M313.6 154.9h0M323.1 151.0h0M332.0 152.3h0M307.5 151.7h0M307.8 155.0h0M310.4 154.1h0M320.9 156.3h0M326.6 152.3h0M311.9 156.8h0M309.7 158.8h0M328.6 149.9h0M329.6 150.0h0M307.9 159.4h0M301.5 155.1h0M317.2 159.6h0M311.3 156.2h0M306.5 157.4h0M318.3 157.3h0M304.3 154.3h0M316.5 154.9h0M329.2 147.6h0" stroke="#fb9a99" stroke-width="1.0" stroke-linecap="round" fill="none"/>
<path d="M328.7 124.3h0M321.2 112.8h0M332.8 122.2h0M332.3 132.5h0M331.5 135.2h0M332.0 120.6h0M329.8 117.8h0M322.1 111.4h0M324.5 117.9h0M332.0 133.4h0M327.6 119.6h0M329.8 113.6h0M330.9 144.6h0M332.7 137.7h0M328.3 134.3h0M333.6 131.4h0M330.8 144.5h0M328.4 135.8h0M332.2 136.2h0M329.3 128.3h0M326.2 120.3h0M329.6 117.0h0M329.4 132.8h0M327.4 134.8h0M327.5 137.7h0" stroke="#fb9a99" stroke-width="1.0" stroke-linecap="round" fill="none"/>
<path d="M295.8 146.2h0M294.6 146.8h0M295.3 145.7h0M293.5 139.9h0M299.1 149.1h0M297.9 143.9h0M295.4 144.1h0M294.7 146.8h0M296.3 144.2h0M296.8 139.2h0" stroke="#fb9a99" stroke-width="1.0" stroke-linecap="round" fill="none"/>
<path d="M285.5 131.5L287.7 129.3L291.4 128.6L295.0 130.8L295.8 133.7L292.1 134.7L287.7 134.4Z" fill="#cab2d6" fill-opacity="0.95" filter="url(#bl)"/>
<path d="M289.6 129.2h0M288.9 130.7h0M288.3 132.6h0M288.5 134.2h0M289.0 134.3h0M287.8 133.0h0M287.3 130.3h0M287.8 132.5h0M293.2 129.9h0M294.4 134.5h0M292.1 131.2h0M291.5 131.9h0M291.2 130.5h0M296.0 131.0h0M290.5 131.5h0M288.3 134.8h0M289.3 128.8h0M289.4 128.6h0M294.5 132.3h0M293.2 133.6h0M293.8 133.0h0M286.3 132.8h0M288.6 129.2h0M293.6 133.3h0M291.2 132.4h0M293.0 132.9h0M289.8 130.3h0M288.0 133.4h0M294.1 130.8h0M293.3 134.7h0M289.8 132.5h0M289.1 129.7h0M292.0 134.1h0M293.4 131.5h0M294.1 130.1h0" stroke="#cab2d6" stroke-width="1.0" stroke-linecap="round" fill="none"/>
<path d="M284.3 135.8h0M282.7 134.9h0M285.2 134.6h0M283.9 135.0h0M284.8 134.8h0M284.0 134.9h0" stroke="#1f78b4" stroke-width="0.9" stroke-linecap="round" fill="none"/>
<path d="M127.1 635.0L131.0 632.3L142.9 631.0L148.1 625.8L152.0 621.8L157.3 619.2L165.2 619.2L173.1 620.5L181.0 621.8L183.6 623.8L178.3 627.1L175.7 633.7L173.1 640.2L171.8 646.8L170.4 653.4L166.5 657.3L161.2 656.0L153.4 653.4L148.1 650.7L145.5 645.5L141.5 641.5L136.3 638.9L131.0 638.9L127.1 636.9Z" fill="#1f78b4" fill-opacity="0.12" filter="url(#bl)"/>
<path d="M155.9 642.4h0M160.5 621.9h0M151.8 650.4h0M165.3 644.9h0M133.4 635.6h0M161.8 622.4h0M157.4 621.9h0M171.9 641.8h0M155.7 639.8h0M157.5 639.7h0M149.9 644.6h0M152.6 647.4h0M133.2 635.4h0M155.9 636.2h0M165.4 630.5h0M157.4 621.2h0M154.7 621.7h0M158.3 624.6h0M170.1 642.3h0M171.1 633.0h0M165.5 621.5h0M167.5 640.2h0M155.8 623.6h0M130.5 634.0h0M160.0 651.3h0M143.6 633.0h0M164.0 641.2h0M154.0 630.3h0M151.3 625.3h0M151.1 645.3h0M163.6 632.8h0M149.2 645.3h0M161.7 641.0h0M170.7 644.0h0M165.3 643.7h0M158.3 649.8h0M162.1 637.3h0M148.0 625.1h0M156.1 621.9h0M160.6 628.6h0M161.3 653.8h0M165.6 644.5h0M134.6 636.5h0M166.9 624.2h0M150.9 641.8h0M145.1 632.3h0M167.3 619.3h0M155.3 648.2h0M174.7 627.9h0M157.6 621.0h0M162.3 618.6h0M164.1 632.9h0M166.7 641.0h0M145.3 634.2h0M165.9 633.8h0M154.9 637.4h0M149.4 644.4h0M166.5 652.2h0M149.1 645.6h0M166.3 648.0h0M157.7 642.4h0M170.0 650.4h0M169.4 637.3h0M130.8 638.4h0M157.3 644.6h0M177.0 626.9h0M161.2 654.7h0M171.5 626.6h0M161.5 622.1h0M148.4 650.5h0M164.4 644.2h0M156.7 647.0h0M155.3 623.1h0M141.3 637.1h0M159.0 635.6h0M142.3 632.1h0M157.8 621.0h0M176.7 629.7h0M173.2 634.2h0M165.1 628.1h0M153.1 620.8h0M144.9 638.1h0M164.0 637.6h0M159.4 628.2h0M168.8 656.1h0M169.0 636.5h0M166.2 639.0h0M149.8 646.5h0M166.7 623.0h0M166.9 628.5h0M145.2 630.5h0M174.9 623.0h0M182.2 623.2h0M149.0 630.5h0M162.5 622.1h0M161.3 626.4h0M150.8 633.4h0M178.5 622.3h0M146.3 631.5h0M156.4 623.7h0M156.9 622.9h0M170.2 651.4h0M143.4 637.6h0M177.0 625.8h0M160.3 649.2h0M152.8 640.7h0M153.1 649.2h0M176.9 627.5h0M159.9 644.5h0M173.0 627.1h0M151.1 632.4h0M155.0 630.2h0M161.1 642.9h0M153.0 649.5h0M165.7 630.0h0M141.2 636.4h0M146.5 634.4h0M173.5 628.3h0M165.9 622.9h0M129.6 633.9h0M146.8 631.4h0M164.0 620.2h0M166.4 625.0h0M154.6 649.8h0M155.7 649.5h0M161.3 632.2h0M175.6 635.1h0M149.7 634.5h0M169.4 648.4h0M151.9 631.9h0M174.2 628.0h0M162.5 624.1h0M168.9 621.2h0M176.8 627.1h0M148.1 629.8h0M166.4 654.1h0M143.2 634.2h0M179.1 623.7h0M148.9 630.4h0M174.0 634.0h0M163.7 620.1h0M164.9 632.5h0M155.4 632.8h0M164.2 654.8h0M169.8 649.9h0M175.1 621.7h0M171.4 644.9h0M145.0 635.4h0M158.2 651.7h0M152.9 635.3h0M140.2 640.7h0M151.3 651.6h0M166.2 641.3h0M160.2 626.2h0M169.6 648.5h0M160.9 646.5h0M162.5 625.3h0M147.6 628.0h0M147.1 644.9h0M148.7 627.4h0M150.9 650.2h0M151.3 631.4h0M168.9 643.6h0M176.3 632.7h0M167.9 620.0h0M173.7 625.6h0M166.7 651.8h0M173.2 640.5h0M165.5 642.5h0M168.0 628.5h0M159.8 635.7h0M161.0 641.0h0M145.3 639.7h0M152.6 643.7h0M131.2 635.3h0M159.5 643.8h0M163.7 626.0h0M148.9 631.4h0M164.5 640.5h0M158.7 653.9h0M149.8 642.1h0M178.9 623.8h0M150.6 631.3h0M150.2 648.9h0M157.8 634.4h0M156.1 643.2h0M167.7 646.6h0M174.0 627.3h0M160.6 654.9h0M167.4 643.5h0M158.2 633.2h0M163.2 648.1h0M154.2 623.8h0M153.0 637.2h0M166.2 624.4h0M158.8 645.0h0M178.1 625.9h0M149.2 628.7h0M147.9 650.0h0M164.3 654.4h0M145.8 644.8h0M166.4 621.2h0M148.2 651.5h0M175.1 622.3h0M164.0 626.3h0M166.7 654.3h0M148.5 633.4h0M156.9 632.4h0M155.0 641.1h0M165.8 627.9h0M151.4 636.0h0M158.1 644.4h0M164.1 642.7h0M160.6 650.0h0M147.0 635.0h0M176.6 625.6h0M155.8 643.0h0M171.4 637.6h0M143.2 635.7h0M146.4 638.4h0M141.1 641.0h0M158.5 653.5h0M157.1 649.3h0M155.0 637.1h0M148.8 639.6h0M164.9 646.9h0M153.4 636.8h0M161.8 626.3h0M157.7 643.4h0M171.0 639.9h0M143.3 639.1h0M143.7 637.8h0M153.3 623.8h0M145.5 628.4h0M164.7 654.9h0M169.7 644.5h0M163.1 619.9h0M168.7 643.9h0M157.2 623.6h0M164.8 634.3h0M148.8 648.1h0M156.0 639.9h0M154.1 621.3h0M174.1 630.1h0M157.1 634.1h0M145.9 639.3h0M154.4 622.3h0M157.4 642.5h0M136.6 637.7h0M148.2 635.1h0M166.5 621.6h0M148.7 643.0h0M153.9 647.1h0M169.2 634.4h0M147.6 645.9h0M165.3 638.2h0M162.9 620.7h0M150.2 625.3h0M150.8 644.7h0M165.3 643.3h0M142.3 636.2h0M153.9 625.0h0M160.0 636.3h0M163.2 642.9h0M157.8 626.0h0M167.9 634.2h0M160.0 645.8h0M143.5 631.9h0M165.1 639.5h0M165.4 626.5h0M155.7 636.2h0M163.6 654.4h0M171.3 628.5h0M169.7 623.0h0M134.4 636.2h0M176.2 627.7h0M169.0 652.3h0M164.4 650.5h0M158.4 640.0h0M166.3 644.5h0M159.1 634.7h0M144.5 638.6h0M165.0 624.3h0M158.4 638.8h0M166.6 620.1h0M163.3 637.2h0M154.1 622.7h0M165.0 643.0h0M177.3 621.1h0M149.5 630.8h0M144.6 635.4h0M151.6 623.9h0M166.2 620.1h0M165.9 656.7h0M165.2 632.7h0M136.4 634.6h0M148.0 635.6h0M154.3 622.4h0M151.4 645.1h0M167.4 639.1h0M170.9 624.1h0M159.3 622.4h0M163.0 642.3h0M167.9 648.6h0M176.5 629.7h0M174.9 629.9h0M168.5 644.6h0M152.5 641.4h0M156.0 624.7h0M162.0 647.3h0M172.4 636.3h0M161.2 655.1h0M171.7 623.2h0M130.0 638.2h0M154.5 626.1h0M141.8 635.4h0M167.2 629.3h0M147.7 645.6h0M176.4 620.9h0M169.8 645.1h0M158.9 650.7h0M173.4 641.0h0M150.3 632.0h0M173.1 635.7h0M156.6 639.4h0M148.1 640.0h0M172.3 640.7h0M169.6 652.2h0M159.9 643.3h0M156.1 646.1h0M159.7 641.1h0M160.4 622.0h0M151.0 633.6h0M134.1 634.8h0M167.3 643.9h0M172.3 640.8h0M166.0 621.8h0M159.5 624.3h0M163.3 648.8h0M171.1 637.2h0M167.7 621.4h0M155.5 632.2h0M149.2 648.3h0M165.2 639.2h0M174.8 626.9h0M139.8 632.3h0M163.5 621.4h0M153.8 646.6h0M163.9 632.5h0M150.7 630.3h0M135.6 637.2h0M164.7 653.4h0M174.5 622.1h0M165.9 645.7h0M163.7 625.4h0M148.8 649.4h0M161.7 630.3h0M169.1 630.9h0M154.4 621.9h0M138.1 633.7h0M165.8 655.6h0M155.9 629.6h0M165.6 652.4h0M165.2 644.8h0M157.3 650.7h0M154.9 649.3h0M149.6 644.0h0M171.1 633.7h0M135.0 634.8h0M149.3 638.4h0M159.8 622.8h0M144.7 638.3h0M153.2 631.4h0M147.3 641.5h0M168.2 619.5h0M157.3 646.8h0M166.2 631.4h0M154.0 648.6h0M173.0 626.5h0M160.8 654.6h0M137.2 637.5h0M172.3 632.8h0M163.4 626.0h0M140.9 634.4h0M160.7 632.8h0M146.2 643.5h0M163.8 635.9h0M159.5 645.3h0M158.8 654.7h0M151.9 626.0h0M167.8 649.4h0M158.0 633.8h0M154.4 627.9h0M134.9 634.6h0M133.0 634.7h0M138.1 638.4h0M144.0 639.5h0M158.6 642.7h0M156.5 635.7h0M152.4 642.5h0M150.6 628.4h0M166.0 650.3h0M144.5 643.7h0M152.0 631.9h0M160.2 622.6h0M178.5 625.3h0M140.7 632.7h0M151.2 648.7h0M150.5 641.9h0M156.7 640.7h0M137.2 639.1h0M164.2 648.6h0M153.4 649.5h0M154.9 623.4h0M136.4 637.6h0M158.5 630.7h0M170.9 624.8h0M142.0 632.2h0M138.4 634.9h0M160.9 630.0h0M141.9 634.7h0M160.7 618.7h0M157.9 653.0h0M174.3 622.6h0M175.8 631.5h0M155.1 632.7h0M145.5 644.4h0M164.6 653.4h0M165.7 649.0h0M148.4 639.6h0M137.9 633.5h0M160.2 627.9h0M155.5 654.4h0M165.3 640.6h0M163.2 640.7h0M165.9 649.5h0M173.0 623.5h0M151.6 647.3h0M167.3 631.5h0M132.9 633.7h0M144.7 633.8h0M173.0 620.6h0M169.0 653.8h0M158.5 625.8h0M145.7 642.3h0M142.5 637.1h0M169.6 638.8h0M172.9 642.2h0M139.1 631.9h0M182.2 624.4h0M166.1 633.3h0M142.9 635.3h0M169.6 637.0h0M166.0 637.6h0M157.2 635.8h0M155.1 640.8h0M136.6 635.7h0M175.7 621.1h0M142.0 642.1h0M157.3 654.0h0M139.5 634.1h0M169.7 625.2h0M137.4 634.1h0M144.2 641.2h0M162.5 640.5h0M150.6 636.8h0M168.0 630.8h0M164.5 620.6h0M134.6 633.1h0M150.0 627.0h0M150.4 650.6h0M136.3 635.5h0M149.2 633.2h0M140.9 633.1h0M153.0 652.6h0M138.7 638.5h0M182.8 623.6h0M154.7 633.6h0M150.7 635.1h0M163.1 621.0h0M169.8 623.9h0M152.7 652.6h0M164.9 624.2h0M165.3 646.9h0M143.3 637.5h0M161.9 622.2h0M170.9 633.2h0M169.1 643.6h0M157.5 626.4h0M153.7 626.6h0M132.8 635.8h0M179.4 621.7h0M168.0 653.6h0M135.9 636.5h0M150.3 625.6h0M167.6 642.6h0M155.1 633.5h0M171.1 624.7h0M147.6 630.8h0M164.3 653.4h0M154.6 653.0h0M171.9 641.3h0M131.0 634.8h0M153.2 636.1h0M135.3 634.6h0M146.8 639.7h0M172.9 632.9h0M162.0 647.9h0M162.0 652.0h0M148.1 644.2h0M164.5 639.0h0M172.5 640.3h0M149.9 641.8h0M165.4 649.3h0M153.5 641.5h0M155.6 652.0h0M155.7 642.2h0M173.5 624.9h0M157.1 653.2h0M163.0 626.7h0M164.0 643.3h0M155.2 652.9h0M162.9 640.2h0M165.2 626.5h0M140.5 639.9h0M159.9 652.6h0M149.2 634.9h0M163.1 631.4h0M161.4 647.0h0M162.6 625.2h0M148.7 650.7h0M168.6 637.1h0M166.5 651.9h0M161.3 626.4h0M155.8 645.0h0M175.3 623.3h0M160.4 627.0h0M154.6 649.3h0M145.6 633.6h0M152.6 640.9h0M150.8 631.1h0M159.0 646.3h0M170.5 624.8h0M166.3 635.6h0M167.9 622.2h0M155.9 649.3h0M150.1 642.8h0M167.5 639.5h0M152.7 626.0h0M154.0 638.8h0M142.1 637.9h0M155.4 640.6h0M152.3 625.5h0M165.0 642.0h0M173.3 628.2h0M164.8 623.9h0M179.7 625.4h0M166.0 644.8h0M131.2 639.8h0M166.5 654.5h0M153.9 631.6h0M169.6 640.4h0" stroke="#1f78b4" stroke-width="1.2" stroke-linecap="round" fill="none"/>
<path d="M148.1 624.5L152.0 620.5L158.6 619.2L163.9 620.5L165.2 625.8L162.6 632.3L156.0 636.3L149.4 635.0Z" fill="#1f78b4" fill-opacity="0.2" filter="url(#bl)"/>
<path d="M152.8 621.3h0M159.5 631.9h0M162.9 623.6h0M149.7 630.2h0M150.3 632.3h0M156.8 633.5h0M150.7 628.7h0M149.7 635.0h0M164.5 626.7h0M154.6 631.8h0M153.3 627.6h0M158.5 623.7h0M156.2 620.4h0M158.2 633.0h0M149.5 624.7h0M153.7 625.9h0M161.4 625.2h0M157.5 624.6h0M159.2 621.6h0M155.6 633.4h0M148.7 632.9h0M161.3 632.7h0M151.4 629.7h0M158.2 624.4h0M158.4 633.5h0M156.1 626.2h0M160.3 631.3h0M150.9 633.0h0M158.7 630.8h0M155.1 629.5h0M148.8 633.5h0M158.8 632.1h0M155.0 633.7h0M152.0 632.1h0M158.6 632.9h0M157.4 619.7h0M164.3 623.9h0M151.8 632.4h0M163.5 628.8h0M156.9 620.6h0M152.2 629.1h0M150.4 624.3h0M157.5 623.5h0M159.6 627.2h0M158.6 625.4h0M158.7 626.6h0M156.6 635.3h0M161.8 629.7h0M152.6 628.4h0M154.4 634.0h0M152.4 620.7h0M161.4 629.8h0M162.7 629.6h0M153.5 623.4h0M155.6 636.2h0M155.3 628.8h0M151.9 628.5h0M150.5 629.8h0M155.7 624.7h0M156.7 633.2h0M157.6 623.8h0M152.0 629.9h0M152.8 631.5h0M157.4 633.5h0M157.0 632.2h0M157.4 635.7h0M150.1 627.5h0M150.5 622.7h0M162.7 633.3h0M150.5 630.1h0M163.1 627.4h0M154.2 622.8h0M162.6 632.9h0M152.7 632.9h0M165.1 625.1h0M153.7 621.4h0M148.8 629.4h0" stroke="#1f78b4" stroke-width="1.2" stroke-linecap="round" fill="none"/>
<path d="M174.4 636.3L178.3 634.3L186.2 634.3L192.8 636.9L191.5 641.5L190.2 646.8L191.5 652.0L188.8 656.0L183.6 658.6L179.6 659.9L177.0 657.3L175.7 652.0L177.0 645.5L174.4 641.5Z" fill="#e31a1c" fill-opacity="0.12" filter="url(#bl)"/>
<path d="M179.8 641.5h0M178.4 644.2h0M180.8 640.1h0M184.9 654.1h0M178.8 633.7h0M186.3 656.6h0M189.2 638.1h0M192.6 639.9h0M179.4 651.1h0M186.2 635.2h0M187.9 645.6h0M176.8 636.2h0M182.4 638.3h0M186.4 653.0h0M184.5 653.4h0M185.4 639.3h0M178.2 653.0h0M184.7 638.2h0M189.1 638.9h0M188.8 637.0h0M186.2 636.2h0M182.6 658.6h0M177.7 634.9h0M189.6 645.1h0M185.9 651.6h0M183.4 640.5h0M185.1 649.7h0M175.8 643.7h0M186.1 636.1h0M190.3 640.6h0M186.7 651.0h0M180.9 654.4h0M189.0 646.9h0M181.2 654.3h0M177.7 650.2h0M182.9 635.8h0M180.2 634.8h0M182.7 639.3h0M180.0 645.9h0M182.4 638.3h0M184.5 645.7h0M189.0 641.8h0M189.4 636.0h0M185.0 635.9h0M175.4 639.7h0M188.4 635.6h0M177.0 654.5h0M180.8 644.9h0M188.2 653.1h0M189.1 644.3h0M180.2 658.4h0M185.6 656.8h0M189.6 637.8h0M184.1 656.1h0M181.2 645.7h0M189.2 650.1h0M191.8 637.7h0M189.9 646.4h0M182.1 638.8h0M179.0 638.1h0M176.8 647.3h0M173.9 639.5h0M185.7 649.1h0M179.9 649.7h0M183.5 654.4h0M186.9 639.1h0M184.1 640.9h0M185.9 639.9h0M183.3 655.4h0M185.9 645.8h0M180.2 653.0h0M180.9 654.8h0M179.7 639.7h0M177.8 643.5h0M181.5 652.0h0M187.2 651.8h0M183.6 634.7h0M177.3 636.0h0M185.6 654.2h0M187.4 649.3h0M188.8 649.3h0M183.5 648.8h0M186.2 650.8h0M187.1 639.2h0M182.0 638.4h0M179.0 637.7h0M181.6 649.1h0M185.5 653.4h0M183.2 646.9h0M177.2 642.6h0M177.4 647.0h0M179.5 647.1h0M182.0 638.1h0M184.5 637.7h0M184.0 639.5h0M181.5 650.2h0M178.0 647.1h0M187.5 641.6h0M182.4 635.2h0M180.1 653.6h0M175.2 635.9h0M182.5 635.7h0M192.0 638.0h0M184.3 654.0h0M189.7 645.9h0M184.1 658.4h0M179.6 652.7h0M180.6 651.8h0M182.1 642.1h0M190.3 655.1h0M184.4 645.6h0M182.2 657.9h0M190.1 639.8h0M190.3 642.4h0M182.7 635.7h0M187.5 639.5h0M178.1 648.3h0M188.1 642.2h0M187.4 647.5h0M184.5 654.2h0M189.8 644.8h0M185.4 641.5h0M184.7 649.3h0M180.6 642.4h0M187.4 652.7h0M187.2 647.3h0M191.0 641.5h0M178.0 635.8h0M182.8 644.5h0M190.0 646.3h0M179.4 638.3h0M186.7 636.9h0M187.1 653.9h0M188.0 641.3h0M178.2 645.1h0M191.7 637.4h0M183.4 653.6h0M188.6 637.2h0M189.2 653.5h0M180.3 658.4h0M175.4 640.5h0M190.9 640.9h0M177.9 640.4h0M181.2 651.4h0M188.7 636.1h0M174.5 641.2h0M186.1 647.9h0M179.6 652.3h0M179.7 652.1h0M180.7 638.4h0M180.1 638.7h0M180.6 644.1h0M181.5 654.7h0M189.5 645.1h0M188.9 640.8h0M187.6 641.0h0M190.4 653.3h0M183.2 637.1h0M180.1 650.9h0M179.8 645.7h0M184.0 645.9h0M179.6 648.3h0M184.0 639.0h0M181.1 648.9h0M187.2 653.8h0M183.2 637.7h0M191.3 639.5h0M189.4 651.3h0M184.8 642.4h0M179.4 641.8h0M189.2 644.3h0M182.1 645.6h0M173.6 638.3h0M178.7 649.9h0M188.6 639.1h0M187.6 644.5h0" stroke="#e31a1c" stroke-width="1.2" stroke-linecap="round" fill="none"/>
<path d="M90.9 673.1L94.6 668.8L100.4 666.6L107.7 667.3L110.7 671.7L106.3 676.1L99.0 676.8L92.4 676.1Z" fill="#cab2d6" fill-opacity="0.12" filter="url(#bl)"/>
<path d="M103.5 668.7h0M98.2 671.5h0M101.1 674.0h0M103.8 675.6h0M92.9 673.2h0M101.6 667.2h0M102.8 674.1h0M109.3 670.2h0M92.2 672.5h0M101.7 670.8h0M94.9 670.3h0M104.0 668.2h0M102.5 667.5h0M110.5 672.5h0M103.2 669.8h0M99.9 670.0h0M99.3 674.1h0M102.9 674.2h0M95.8 668.3h0M98.8 671.7h0M94.9 673.2h0M109.2 671.0h0M107.8 669.8h0M107.4 669.3h0M106.9 669.1h0M104.0 676.3h0M100.5 670.7h0M93.3 676.1h0M106.4 669.5h0M100.1 670.6h0M93.6 675.3h0M93.6 675.1h0M105.6 666.6h0M104.2 674.5h0M100.8 671.0h0M103.1 675.8h0M108.9 672.2h0M104.3 668.1h0M107.5 669.5h0M96.9 671.1h0M104.9 668.5h0M101.4 669.8h0M102.3 670.7h0M106.8 669.5h0M99.2 671.1h0M98.8 673.3h0M105.2 668.9h0M106.6 672.2h0M106.1 672.2h0M103.0 675.5h0M105.5 672.6h0M92.7 675.5h0M101.6 672.1h0M106.0 674.2h0M103.3 674.4h0M92.8 674.1h0M98.0 673.2h0M98.8 671.3h0M93.9 669.4h0M96.7 674.5h0M97.3 672.2h0M95.7 675.0h0M101.4 676.2h0M105.8 673.6h0M108.1 669.7h0M105.7 671.5h0" stroke="#cab2d6" stroke-width="1.2" stroke-linecap="round" fill="none"/>
<path d="M115.0 675.3L123.8 679.0L132.6 681.9L141.3 684.8L150.1 683.4L155.9 677.5L159.6 674.6L166.1 676.1L170.5 680.4L167.6 687.7L163.2 693.6L157.4 699.4L153.0 703.8L148.6 708.2L141.3 710.4L134.0 708.2L128.2 703.8L126.7 698.0L123.8 692.1L118.0 683.4L114.3 677.5Z" fill="#33a02c" fill-opacity="0.1" filter="url(#bl)"/>
<path d="M134.5 689.7h0M166.5 683.2h0M119.5 681.4h0M138.2 691.0h0M127.7 689.1h0M125.7 695.4h0M129.4 692.2h0M138.5 695.2h0M153.8 693.1h0M135.0 704.5h0M158.3 676.5h0M160.6 691.8h0M166.3 682.0h0M126.8 686.9h0M125.3 691.8h0M156.9 683.7h0M142.4 700.3h0M164.2 693.6h0M127.8 687.4h0M151.0 692.8h0M144.4 702.2h0M158.9 677.3h0M152.4 681.7h0M160.0 692.1h0M157.8 682.1h0M152.1 686.6h0M126.5 684.1h0M128.2 690.8h0M132.9 705.5h0M129.6 689.5h0M155.3 679.6h0M155.1 685.6h0M135.4 707.4h0M142.2 704.4h0M128.3 686.5h0M142.5 687.5h0M142.2 707.9h0M131.0 690.7h0M159.0 688.2h0M144.5 695.0h0M135.5 686.3h0M140.0 707.8h0M126.5 689.8h0M129.7 694.5h0M158.3 678.9h0M146.0 699.2h0M124.3 695.0h0M162.4 686.8h0M163.7 692.0h0M131.2 705.5h0M160.3 694.6h0M114.4 676.7h0M139.8 693.7h0M158.6 682.9h0M119.2 677.0h0M128.8 703.6h0M157.3 697.8h0M151.8 693.5h0M160.1 688.0h0M149.3 684.5h0M145.9 708.0h0M142.7 687.3h0M153.1 695.2h0M163.6 683.7h0M139.0 709.5h0M143.5 689.8h0M121.3 681.0h0M138.6 691.5h0M127.0 694.6h0M163.9 677.3h0M128.4 696.0h0M130.8 698.6h0M142.6 685.7h0M139.7 696.5h0M141.6 691.0h0M137.1 684.0h0M153.1 681.6h0M148.3 697.1h0M118.8 681.7h0M165.1 687.8h0M157.9 683.8h0M129.2 689.5h0M156.2 695.8h0M129.5 703.5h0M165.4 686.5h0M148.2 685.7h0M146.3 705.6h0M152.2 698.3h0M165.3 677.5h0M138.3 697.5h0M160.7 685.7h0M137.5 687.2h0M154.8 678.3h0M151.7 696.7h0M138.4 696.1h0M166.9 682.8h0M151.3 687.9h0M118.7 679.8h0M159.4 694.7h0M147.6 705.9h0M144.8 684.6h0M165.0 690.1h0M156.4 688.4h0M144.7 694.7h0M159.4 683.1h0M154.7 683.0h0M135.9 691.7h0M135.1 691.6h0M142.5 703.2h0M157.3 685.0h0M148.8 688.8h0M159.3 683.3h0M142.9 708.3h0M159.1 682.0h0M157.2 679.9h0M159.5 680.0h0M133.5 698.8h0M156.7 682.4h0M137.7 698.0h0M160.8 692.1h0M160.8 683.5h0M136.3 707.8h0M156.9 689.4h0M166.3 679.7h0M159.0 698.3h0M130.5 695.7h0M144.9 694.3h0M129.8 681.1h0M114.4 677.2h0M151.9 684.0h0M147.1 688.7h0M134.6 686.3h0M148.6 705.8h0M119.6 681.4h0M164.1 688.7h0M138.1 706.1h0M154.1 686.3h0M138.2 689.7h0M146.4 699.1h0M136.7 687.8h0M165.2 681.6h0M137.7 685.3h0M166.9 687.1h0M125.9 679.9h0M137.2 684.3h0M126.5 696.5h0M164.0 686.2h0M153.6 698.6h0M133.7 695.7h0M149.0 700.3h0M129.2 691.0h0M137.6 695.0h0M138.0 685.5h0M146.6 690.0h0M133.1 695.5h0M117.2 678.8h0M142.3 691.9h0M147.9 704.3h0M152.9 693.3h0M160.3 680.4h0M136.4 700.5h0M149.3 695.0h0M123.8 685.5h0M147.1 694.3h0M144.8 690.1h0M146.2 692.9h0M167.1 680.4h0M154.0 702.2h0M146.8 702.0h0M131.2 687.6h0M153.1 680.5h0M168.3 679.9h0M150.8 695.9h0M117.9 681.8h0M153.9 698.3h0M119.6 681.2h0M132.5 705.4h0M134.9 707.0h0M160.3 694.3h0M167.2 681.2h0M142.2 709.2h0M149.4 693.8h0M164.3 679.7h0M156.9 677.7h0M149.9 700.1h0M142.5 685.8h0M132.6 696.7h0M135.8 704.9h0M155.7 678.7h0M162.4 679.3h0M118.2 679.7h0M132.4 702.9h0M127.4 693.9h0M161.8 692.2h0M138.0 686.4h0M152.7 700.3h0M163.8 680.4h0M150.8 698.3h0M138.6 696.9h0M119.2 684.1h0M140.6 703.2h0M154.2 680.4h0M161.1 681.6h0M139.5 686.0h0M137.0 686.6h0M133.8 701.5h0M135.7 693.3h0M128.4 704.0h0M140.0 693.2h0M152.2 689.0h0M115.7 678.7h0M164.7 689.8h0M161.0 689.9h0M142.2 691.2h0M134.4 698.8h0M147.9 704.0h0M141.0 706.1h0M136.2 692.7h0M158.5 689.1h0M125.0 687.3h0M124.6 681.0h0M123.7 679.9h0M145.0 688.1h0M134.6 684.2h0M146.8 705.2h0M148.8 684.0h0M152.2 688.6h0M128.3 679.9h0M136.4 683.3h0M136.4 703.1h0M134.6 706.3h0M142.9 695.8h0M156.6 679.2h0M153.2 690.6h0M139.3 698.9h0M133.5 692.8h0M157.2 689.1h0M135.2 703.1h0M135.6 695.4h0M152.5 702.9h0M130.5 690.2h0M120.0 679.6h0M128.9 694.8h0M144.1 694.6h0M136.0 700.2h0M134.3 694.5h0M139.1 692.8h0M161.8 685.2h0M143.2 708.0h0M149.8 693.2h0M150.6 694.4h0M134.6 704.4h0M139.0 705.5h0M129.0 693.9h0M164.5 687.2h0M136.7 701.8h0M131.2 697.5h0M141.4 689.6h0M137.4 706.8h0M131.6 705.0h0M164.8 692.4h0M129.6 688.4h0M141.3 700.4h0M146.1 707.9h0M127.7 688.6h0M118.6 680.2h0M130.3 684.9h0M146.5 688.3h0M142.9 703.8h0M157.2 693.3h0M164.1 680.9h0M140.5 707.6h0M132.5 687.0h0M147.0 690.9h0M130.3 682.0h0M151.1 688.5h0M156.7 686.0h0M153.6 685.8h0M135.3 707.6h0M162.6 688.7h0M135.5 687.7h0M168.8 681.1h0M164.1 679.0h0M139.8 710.2h0M153.2 688.9h0M154.7 697.5h0M156.7 687.9h0M164.5 688.2h0M132.3 689.8h0M132.2 703.5h0M128.9 695.4h0M142.8 691.8h0M161.0 675.7h0M153.2 697.1h0M134.8 690.7h0M118.7 680.4h0M140.1 697.0h0M165.9 677.9h0M150.2 685.8h0M151.6 704.6h0M137.1 687.7h0M131.5 685.3h0M137.1 697.8h0M135.7 692.7h0M167.9 681.1h0M163.8 684.4h0M133.0 685.3h0M134.6 703.1h0M135.1 701.4h0M151.5 687.3h0M130.6 689.8h0M126.3 689.5h0M134.5 693.7h0M154.9 699.5h0M144.0 690.6h0M119.8 684.6h0M153.8 702.8h0M143.8 700.6h0M164.4 687.2h0M137.8 687.2h0M153.0 702.1h0" stroke="#33a02c" stroke-width="1.2" stroke-linecap="round" fill="none"/>
<path d="M128.2 681.9L141.3 685.5L150.1 684.1L157.4 679.0L163.2 680.4L161.8 689.2L155.9 696.5L148.6 703.8L138.4 705.3L131.1 699.4Z" fill="#33a02c" fill-opacity="0.15" filter="url(#bl)"/>
<path d="M149.3 687.0h0M158.9 685.1h0M157.6 691.2h0M144.0 702.3h0M155.9 696.7h0M151.0 698.8h0M148.3 699.8h0M136.4 695.0h0M157.6 688.3h0M161.3 682.3h0M131.1 694.5h0M148.3 700.8h0M136.0 700.9h0M157.7 694.3h0M131.2 686.3h0M155.4 695.4h0M130.7 687.8h0M147.7 702.2h0M141.9 701.8h0M140.4 699.1h0M134.5 684.6h0M134.6 687.8h0M141.9 691.7h0M156.8 693.7h0M156.4 693.4h0M131.8 691.7h0M149.5 691.1h0M146.9 704.0h0M139.0 697.3h0M136.8 693.5h0M147.8 696.4h0M160.5 681.0h0M131.9 699.6h0M135.1 690.3h0M159.6 680.4h0M135.6 690.8h0M159.8 691.2h0M145.7 694.2h0M144.5 686.7h0M140.7 696.1h0M145.7 700.5h0M135.6 695.8h0M135.7 699.6h0M155.6 686.5h0M148.8 691.4h0M161.1 685.6h0M155.7 682.9h0M138.4 703.0h0M143.4 693.8h0M160.3 689.6h0M136.5 698.8h0M131.1 699.2h0M131.9 692.5h0M158.4 691.4h0M146.2 698.3h0M140.0 699.8h0M156.4 694.8h0M134.0 696.9h0M140.3 697.5h0M156.5 692.8h0M145.8 684.6h0M140.2 699.7h0M130.1 685.5h0M137.4 690.1h0M146.6 698.2h0M155.4 683.0h0M142.1 690.8h0M150.3 684.7h0M139.0 686.4h0M145.4 698.4h0M150.8 689.1h0M159.4 680.7h0M139.8 698.7h0M142.2 698.7h0M146.6 691.9h0M144.2 699.0h0M136.7 687.3h0M144.4 687.4h0M150.2 698.2h0M157.4 695.5h0M156.5 693.2h0M132.8 702.4h0M141.2 697.5h0M143.5 703.4h0M153.1 685.8h0M142.7 696.8h0M134.4 690.6h0M134.6 690.8h0M135.3 697.3h0M148.5 700.1h0M151.6 690.9h0M155.0 693.7h0M147.6 701.0h0M144.1 698.3h0M149.5 686.7h0M155.7 692.9h0M148.1 694.7h0M158.1 683.7h0M152.4 700.7h0M148.5 688.5h0M140.3 696.3h0M144.6 692.9h0M134.5 694.1h0M149.9 693.2h0M151.3 701.0h0M134.1 701.4h0M152.5 697.0h0M144.0 698.3h0M159.9 678.0h0M152.0 686.2h0M139.9 689.9h0M150.9 700.1h0M150.3 692.1h0M128.8 681.2h0M139.3 691.0h0M153.3 694.1h0M156.7 688.1h0M135.8 688.5h0M150.4 691.7h0M146.9 685.4h0M136.6 700.3h0M137.2 687.4h0M141.1 686.7h0M128.2 688.4h0M134.0 684.8h0M146.5 693.7h0M142.0 699.5h0M138.2 686.5h0M144.8 687.4h0M154.9 695.9h0M131.2 685.4h0M134.8 686.2h0M143.7 699.8h0M145.1 693.7h0M161.5 682.9h0M146.8 701.8h0M137.2 698.0h0M130.5 688.0h0M151.9 690.2h0M158.6 685.6h0M154.2 696.5h0M146.5 688.0h0M141.9 704.5h0M138.0 699.5h0M144.5 701.3h0M134.1 691.2h0M148.0 703.4h0M146.5 692.7h0M147.8 697.2h0M140.6 704.0h0M146.8 698.0h0M127.0 687.3h0M142.1 705.4h0M134.4 696.7h0M139.6 691.8h0M139.6 703.3h0M133.8 685.5h0M145.1 691.9h0M160.0 684.0h0M147.8 688.4h0M142.1 690.7h0M149.9 690.7h0M143.4 700.2h0M158.0 691.3h0M144.3 687.2h0M154.4 697.1h0M135.7 692.7h0M141.6 703.7h0M147.1 690.3h0M136.3 686.0h0M152.6 698.5h0M149.3 690.3h0M146.7 684.0h0M136.4 696.8h0M151.1 696.2h0M156.5 687.7h0M154.1 694.7h0M142.6 690.7h0M131.4 695.3h0M132.0 684.8h0M146.5 697.9h0M139.1 690.0h0M148.3 693.3h0M150.2 695.2h0M139.4 694.4h0M133.0 694.2h0M153.7 684.5h0M140.7 694.4h0M133.7 687.6h0M157.8 691.5h0M142.6 695.7h0M146.3 702.9h0M150.4 693.3h0M139.9 696.4h0M149.7 701.9h0M154.0 695.2h0M153.5 696.0h0M137.5 699.4h0M135.0 688.0h0M137.0 697.0h0" stroke="#33a02c" stroke-width="1.2" stroke-linecap="round" fill="none"/>
<path d="M104.1 708.2L109.2 706.0L118.0 704.5L125.3 703.8L128.2 708.2L126.7 714.0L120.9 715.5L113.6 716.2L106.3 714.0L103.4 711.1Z" fill="#ff7f00" fill-opacity="0.25" filter="url(#bl)"/>
<path d="M112.8 709.9h0M120.1 710.1h0M113.2 707.3h0M105.4 708.2h0M113.8 708.1h0M110.7 706.1h0M114.2 711.9h0M110.7 711.2h0M121.6 714.0h0M118.4 715.4h0M122.5 714.9h0M112.5 714.9h0M124.0 704.3h0M113.0 706.7h0M120.7 707.2h0M108.4 707.6h0M117.5 706.6h0M124.1 710.4h0M117.3 711.0h0M105.5 712.3h0M109.0 708.6h0M117.3 710.7h0M117.7 713.4h0M114.5 712.5h0M108.7 709.0h0M122.3 707.0h0M115.4 713.7h0M107.0 712.8h0M126.4 708.0h0M128.2 706.4h0M126.2 707.8h0M120.5 704.5h0M122.5 707.4h0M119.9 704.1h0M121.0 715.1h0M122.9 710.3h0M112.8 707.0h0M111.5 711.8h0M106.7 707.2h0M115.1 712.9h0M124.9 713.8h0M120.6 710.1h0M110.9 715.3h0M126.4 706.5h0M106.3 710.2h0M121.3 704.2h0M126.3 708.6h0M126.3 712.5h0M117.5 714.6h0M110.4 710.2h0M126.4 706.7h0M106.7 709.4h0M115.8 712.9h0M121.2 707.5h0M108.7 712.3h0M112.0 709.0h0M107.5 712.5h0M118.7 705.1h0M123.2 708.7h0M111.1 708.5h0M118.6 710.5h0M117.5 711.0h0M123.2 714.3h0M113.9 709.6h0M110.1 713.2h0M118.8 705.3h0M107.4 713.4h0M113.8 707.9h0M111.0 706.6h0M111.6 713.9h0M112.5 708.6h0M117.0 704.9h0M119.1 706.9h0M114.8 706.1h0M112.5 711.8h0M119.0 711.0h0M122.5 708.7h0M115.4 713.3h0M128.0 710.0h0M126.7 706.5h0M118.3 710.7h0M109.0 708.4h0M117.8 714.5h0M117.5 715.3h0M124.5 705.9h0M114.9 706.8h0M124.9 707.9h0M121.0 704.7h0M108.7 712.8h0M105.0 712.9h0M107.3 711.7h0M122.2 704.8h0M119.8 712.2h0M127.2 710.4h0M111.7 711.9h0M118.6 710.0h0M122.0 707.6h0M112.0 709.3h0M122.9 704.4h0M118.4 705.0h0M123.6 712.0h0M124.6 712.5h0M124.8 709.3h0M118.9 714.5h0M123.6 712.7h0M118.5 706.9h0M106.4 710.8h0M122.0 708.9h0M119.3 705.8h0M124.5 705.5h0M120.7 711.6h0M123.9 711.7h0M115.4 715.7h0M112.9 706.0h0M115.1 714.2h0M121.3 708.8h0M117.5 714.6h0M112.2 713.7h0M111.8 714.3h0M118.6 709.1h0M118.9 711.5h0M119.4 711.5h0M118.3 715.6h0M121.8 712.0h0M123.2 710.9h0" stroke="#ff7f00" stroke-width="1.2" stroke-linecap="round" fill="none"/>
<path d="M119.4 718.4L123.8 714.0L129.6 711.1L135.5 712.6L144.2 712.6L154.5 713.3L158.8 718.4L157.4 725.7L153.0 731.5L144.2 735.2L135.5 735.9L126.7 733.0L120.9 727.2Z" fill="#fdbf6f" fill-opacity="0.12" filter="url(#bl)"/>
<path d="M127.4 712.0h0M128.7 733.8h0M137.2 715.8h0M128.6 723.5h0M142.3 718.6h0M136.7 727.6h0M131.4 734.6h0M151.1 725.9h0M157.4 720.6h0M125.9 721.7h0M144.4 731.9h0M123.0 727.2h0M133.6 726.9h0M143.3 731.7h0M136.0 729.0h0M135.2 726.9h0M145.5 721.3h0M146.7 726.7h0M122.8 720.5h0M124.0 716.6h0M145.3 718.1h0M146.9 722.9h0M146.9 729.2h0M154.8 724.9h0M144.8 730.3h0M143.4 719.7h0M136.5 719.6h0M140.3 734.7h0M146.1 731.4h0M121.0 719.4h0M132.4 712.8h0M139.6 722.9h0M136.9 717.6h0M141.3 725.8h0M152.4 726.5h0M130.6 715.1h0M134.1 723.1h0M144.1 728.3h0M141.4 721.2h0M137.0 733.2h0M156.3 721.9h0M122.3 717.5h0M121.5 726.1h0M131.0 722.7h0M136.7 725.5h0M142.0 717.1h0M141.2 723.0h0M151.4 727.7h0M131.1 731.3h0M133.5 728.1h0M148.7 727.0h0M136.5 728.5h0M156.1 721.6h0M146.9 724.5h0M147.3 724.8h0M142.3 721.1h0M136.7 716.8h0M144.0 727.6h0M134.3 726.0h0M133.1 712.5h0M119.9 722.6h0M133.4 725.1h0M143.5 719.6h0M150.2 717.7h0M141.3 725.6h0M124.5 726.8h0M144.7 723.0h0M143.7 713.5h0M131.3 711.8h0M121.0 725.9h0M125.7 727.5h0M132.3 722.4h0M132.5 717.7h0M147.1 713.4h0M144.2 730.4h0M144.8 725.5h0M146.2 732.7h0M122.7 722.6h0M152.4 725.6h0M149.8 729.4h0M123.5 720.2h0M139.2 716.8h0M131.8 721.8h0M131.7 724.3h0M144.4 732.2h0M140.0 720.5h0M154.9 722.1h0M153.0 721.3h0M127.2 714.6h0M126.7 718.4h0M150.2 726.6h0M141.9 721.6h0M135.2 718.2h0M121.3 727.0h0M135.3 727.6h0M142.8 732.0h0M143.2 734.7h0M142.8 722.5h0M134.1 714.4h0M126.8 726.6h0M137.6 731.5h0M147.8 732.3h0M132.1 729.4h0M140.6 714.8h0M126.7 717.5h0M139.2 714.2h0M140.1 724.3h0M137.0 716.4h0M151.6 722.6h0M153.5 724.1h0M147.8 728.2h0M138.5 720.7h0M137.5 716.4h0M131.3 723.6h0M135.0 724.6h0M147.2 729.4h0M158.8 718.3h0M155.1 728.8h0M138.5 717.4h0M153.1 716.4h0M157.4 725.3h0M133.7 728.6h0M157.5 728.5h0M134.9 727.9h0M137.9 732.7h0M130.6 726.0h0M150.2 722.6h0M133.9 720.0h0M145.2 724.5h0M125.7 714.9h0M132.2 713.9h0M142.8 734.3h0M155.8 715.1h0M125.7 713.3h0M126.7 720.2h0M144.2 727.7h0M143.1 715.9h0M129.2 716.1h0M148.0 717.5h0M149.2 714.2h0M137.3 713.1h0M133.1 729.9h0M153.7 725.7h0M126.9 723.2h0M148.2 731.3h0M149.4 730.8h0M154.3 723.0h0M153.9 722.9h0M139.1 719.6h0M143.3 720.4h0M150.9 720.5h0M131.0 724.4h0M155.6 725.3h0M149.8 728.2h0M136.9 729.8h0M129.6 719.6h0M156.1 720.8h0M151.0 727.7h0M124.8 713.5h0M142.2 715.3h0M121.6 724.1h0M146.7 731.2h0M129.0 726.2h0M141.8 734.6h0M127.3 724.9h0M147.4 720.7h0M142.7 730.7h0M155.6 727.5h0M147.9 719.3h0M138.1 714.5h0M144.6 718.2h0M122.2 727.5h0M145.0 729.2h0M132.3 727.3h0M124.1 725.7h0M127.7 728.1h0M137.1 721.3h0M148.5 730.9h0M138.2 712.4h0M136.6 718.8h0M128.3 731.0h0M126.4 718.7h0M140.2 735.9h0M143.1 725.4h0M156.7 725.1h0M123.2 717.6h0M124.5 730.6h0M148.3 717.8h0M142.8 725.2h0M121.6 718.4h0M137.9 734.4h0M138.1 718.1h0M155.6 716.9h0M151.4 714.2h0M134.7 721.5h0M137.6 733.8h0M129.3 717.7h0M157.4 719.7h0M120.6 721.8h0M142.1 721.3h0M125.5 717.0h0M153.6 721.5h0M147.9 720.9h0M129.2 715.1h0M135.7 731.1h0M132.7 714.3h0M145.9 714.4h0M148.9 729.0h0M150.3 720.8h0M138.8 722.3h0M154.2 727.8h0M134.1 717.2h0M135.2 726.6h0M122.3 728.1h0M137.1 718.9h0M122.8 726.8h0M137.3 725.0h0M137.4 729.5h0M153.7 729.2h0M127.9 723.0h0M155.0 728.3h0M142.2 720.6h0M135.5 720.6h0M146.8 715.1h0M139.7 732.5h0M146.8 714.1h0M132.2 728.5h0M153.2 723.3h0M149.3 723.5h0M149.6 730.0h0M142.8 723.2h0M152.9 718.8h0M155.9 716.2h0M148.5 714.8h0M131.1 732.5h0M146.6 729.8h0M154.8 716.0h0M127.1 719.3h0M144.4 713.4h0M139.0 727.6h0M147.1 716.5h0M128.0 719.3h0M134.5 732.4h0M145.1 719.5h0M143.7 719.1h0M124.3 716.2h0M157.2 719.9h0M134.5 730.8h0M156.4 717.6h0M151.4 719.3h0M133.1 731.3h0M126.5 732.3h0M131.2 727.0h0M140.3 716.5h0M146.4 720.3h0M123.9 725.1h0M139.7 724.3h0M142.2 717.0h0M136.9 721.9h0M136.9 727.6h0M154.7 725.4h0M126.3 726.4h0M137.0 720.2h0M151.1 722.8h0M147.1 732.9h0M121.1 717.7h0M150.5 725.3h0M127.6 719.0h0M138.4 723.1h0M142.7 722.0h0M144.4 726.5h0M125.1 718.5h0M135.1 725.8h0M134.1 721.0h0M145.7 722.6h0M134.4 711.6h0M145.3 717.5h0M146.9 728.3h0M147.9 714.2h0M126.0 718.0h0M134.2 717.0h0M155.7 722.7h0M127.5 731.6h0M131.6 726.5h0M131.5 726.3h0M144.6 733.7h0M145.5 724.4h0M156.6 723.4h0M147.7 725.9h0M148.9 724.5h0M124.1 729.9h0M126.3 717.1h0M130.6 714.9h0M140.9 715.5h0M155.0 713.7h0M133.3 720.3h0M122.1 721.0h0M133.0 713.9h0M140.2 726.6h0M133.2 731.1h0M153.0 730.3h0M121.9 725.5h0M129.6 715.7h0M135.4 718.7h0M138.5 715.0h0M132.9 712.3h0M136.6 724.1h0M125.1 717.3h0M129.3 721.3h0M136.7 722.8h0M133.7 717.8h0M149.8 729.7h0M140.2 717.3h0M131.8 712.2h0M131.3 722.9h0M145.0 728.3h0M137.5 722.3h0M126.3 717.3h0M142.8 729.1h0M136.6 730.4h0M142.4 733.1h0M146.7 722.0h0M141.1 735.3h0M129.5 713.0h0M138.0 717.4h0M157.9 719.3h0M153.5 724.4h0M146.1 722.3h0M144.9 719.9h0M134.6 722.1h0M143.6 720.5h0M153.4 715.7h0M147.6 732.2h0M155.0 727.2h0M129.5 719.0h0M151.4 714.1h0M140.1 719.1h0M151.6 723.8h0M120.4 725.8h0M149.4 725.0h0M136.5 714.6h0M130.2 715.4h0M121.2 722.3h0M127.6 718.2h0M146.0 716.5h0M134.6 723.2h0M133.5 712.5h0M135.4 733.4h0M128.4 721.3h0M139.7 732.1h0M153.2 728.6h0M124.6 726.5h0M123.0 722.1h0M149.6 721.1h0M131.0 728.9h0M131.5 722.5h0M147.6 726.1h0M131.7 722.3h0M152.7 713.4h0M154.8 716.8h0M145.3 719.7h0M154.3 725.7h0M148.9 733.5h0M137.0 726.8h0M123.4 727.4h0M155.4 717.9h0M123.2 723.1h0M140.8 722.8h0M149.4 725.3h0M132.0 729.8h0M149.2 729.8h0M129.7 726.0h0M136.8 712.3h0" stroke="#fdbf6f" stroke-width="1.2" stroke-linecap="round" fill="none"/>
<path d="M87.5 782.0L96.3 780.3L105.0 781.2L113.8 784.7L117.3 790.8L119.9 799.6L117.3 806.6L110.3 810.1L99.8 811.8L89.3 810.1L82.3 806.6L80.5 799.6L82.3 790.8Z" fill="#fb9a99" fill-opacity="0.1" filter="url(#bl)"/>
<path d="M110.3 789.8h0M90.5 783.7h0M111.8 789.6h0M85.0 786.5h0M90.1 786.5h0M112.8 794.1h0M100.1 808.5h0M106.6 803.3h0M92.3 783.5h0M83.4 791.7h0M101.8 807.0h0M105.7 786.2h0M109.5 793.6h0M89.3 795.1h0M89.4 793.4h0M97.8 805.3h0M85.3 799.8h0M105.7 796.8h0M97.2 782.9h0M104.3 791.1h0M82.7 796.5h0M101.2 807.8h0M106.9 795.3h0M94.6 784.7h0M97.2 790.1h0M91.7 789.9h0M95.2 794.6h0M86.9 793.3h0M88.9 788.3h0M112.6 805.1h0M114.6 789.2h0M109.3 797.2h0M96.5 781.5h0M80.8 798.9h0M86.1 799.6h0M95.5 805.4h0M109.9 794.1h0M85.8 793.4h0M107.5 802.8h0M96.9 806.3h0M92.8 803.6h0M101.5 799.7h0M87.8 801.8h0M116.3 804.7h0M112.3 787.0h0M88.4 797.6h0M101.6 800.9h0M103.0 805.8h0M107.7 794.3h0M91.0 807.4h0M96.9 788.7h0M113.0 807.3h0M108.2 787.3h0M92.3 808.2h0M89.7 799.9h0M102.2 807.4h0M109.9 801.9h0M102.6 790.1h0M85.1 797.2h0M100.8 791.3h0M101.7 788.6h0M101.8 806.0h0M91.9 806.0h0M97.7 784.7h0M87.0 793.6h0M97.7 809.0h0M97.0 793.5h0M103.6 801.0h0M86.3 805.9h0M81.7 792.7h0M90.0 809.8h0M111.0 791.9h0M103.4 808.4h0M96.1 810.0h0M113.1 804.7h0M117.3 803.4h0M100.1 798.5h0M83.8 797.1h0M85.6 793.9h0M86.8 803.7h0M113.0 803.1h0M101.8 798.0h0M83.8 800.4h0M103.2 792.7h0M107.6 810.3h0M111.3 788.2h0M81.0 804.6h0M103.6 802.0h0M92.5 808.4h0M96.2 793.2h0M109.8 787.6h0M106.1 799.3h0M105.3 809.3h0M108.0 791.0h0M90.3 789.9h0M107.1 790.2h0M101.3 783.1h0M87.3 797.5h0M89.8 807.0h0M82.1 797.8h0M96.5 792.3h0M103.1 805.6h0M105.7 785.1h0M85.2 803.1h0M100.0 781.2h0M83.5 805.3h0M104.6 787.6h0M99.8 783.2h0M117.1 801.9h0M86.3 792.3h0M107.8 791.7h0M85.6 804.2h0M95.0 809.9h0M93.3 791.6h0M99.3 786.6h0M98.3 781.3h0M90.1 801.7h0M88.9 798.9h0M108.4 801.5h0M105.0 786.4h0M107.3 797.7h0M99.2 789.8h0M90.0 791.9h0M100.0 806.0h0M84.2 789.9h0M92.5 790.7h0M84.5 792.0h0M100.8 802.4h0M83.7 798.7h0M95.2 789.7h0M115.9 804.2h0M105.5 786.2h0M114.7 799.0h0M118.3 801.4h0M108.0 804.9h0M82.0 796.6h0M85.0 794.9h0M91.3 808.4h0M107.0 810.3h0M99.7 799.8h0M111.2 798.0h0M111.2 807.0h0M90.0 796.5h0M84.8 788.7h0M113.6 788.1h0M86.5 802.1h0M96.7 797.2h0M96.5 787.0h0M112.3 794.6h0M84.1 807.3h0M106.1 801.3h0M110.5 788.0h0M97.3 799.7h0M83.9 801.3h0M112.5 794.7h0M104.7 783.2h0M87.0 798.9h0M85.8 785.4h0M100.5 797.7h0M111.0 801.5h0M110.0 807.8h0M111.0 791.2h0M104.2 810.4h0M97.6 798.9h0M94.3 799.7h0M82.7 805.1h0M106.1 803.5h0M93.7 796.5h0M97.2 806.2h0M96.7 792.1h0M100.0 787.6h0M108.9 786.0h0M85.0 803.5h0M114.0 799.8h0M109.3 796.7h0M83.4 793.3h0M84.1 801.1h0M109.1 785.8h0M87.6 796.1h0M104.3 791.8h0M106.1 781.0h0M88.3 794.2h0M88.3 781.9h0M85.0 800.9h0M91.2 809.1h0M96.4 791.9h0M85.7 796.8h0M89.4 788.5h0M99.5 805.3h0M94.6 798.7h0M94.5 787.4h0M90.3 789.2h0M87.0 801.1h0M105.5 790.2h0M118.9 802.1h0M115.0 798.1h0M95.8 811.0h0M93.4 795.7h0M109.5 784.4h0M112.0 792.3h0M105.7 796.6h0M103.9 790.7h0M98.7 786.3h0M102.0 787.8h0M99.7 793.5h0M108.4 797.9h0M91.9 797.7h0M88.0 804.5h0M85.3 797.0h0M89.7 807.3h0M90.6 790.7h0M107.3 801.0h0M81.5 796.1h0M108.2 800.1h0M97.6 794.9h0M112.3 793.0h0M91.5 800.2h0M102.5 782.3h0M91.6 782.1h0M85.4 799.5h0M86.7 793.6h0M99.6 796.9h0M107.4 787.8h0M96.2 784.3h0M93.3 804.0h0M84.9 794.2h0M104.0 794.9h0M95.1 795.2h0M98.8 799.3h0M107.5 806.7h0M116.1 804.9h0M84.7 802.4h0M102.2 805.7h0M114.4 796.6h0M92.8 783.0h0M90.9 797.0h0M98.3 788.7h0M95.8 787.7h0M115.4 806.1h0M90.8 807.2h0M84.4 792.8h0M88.9 804.0h0M108.9 788.0h0M87.6 808.1h0M87.5 800.3h0M108.5 798.7h0M99.6 811.9h0M117.4 805.6h0M101.6 797.3h0M107.7 791.1h0M102.2 809.9h0M103.6 804.4h0M93.0 788.9h0M108.9 790.2h0M115.5 801.8h0M104.5 797.1h0M86.5 789.6h0M88.1 798.3h0M96.1 801.4h0M82.1 804.6h0M98.6 781.6h0M97.7 795.5h0M109.9 791.2h0M95.4 804.2h0M93.8 790.9h0M101.7 782.8h0M96.6 793.7h0M91.6 792.4h0M87.0 797.3h0M112.7 795.5h0M91.5 789.2h0M98.9 781.4h0M105.9 808.7h0M90.3 800.2h0M101.3 801.9h0M115.6 802.5h0M87.9 808.4h0M101.4 792.4h0M92.2 781.1h0M101.2 804.0h0M101.3 810.7h0M82.1 791.8h0M101.7 805.4h0M92.0 801.9h0M115.7 797.2h0M113.3 803.3h0M108.9 804.1h0M97.3 809.6h0M82.8 793.7h0M95.7 793.0h0M108.8 796.9h0M105.7 782.4h0M105.2 787.4h0M84.7 788.4h0M86.6 802.4h0M86.2 805.3h0M89.0 788.7h0M88.2 794.1h0M107.6 807.2h0M97.6 802.8h0M105.1 785.2h0M85.7 805.7h0M113.4 801.4h0M111.2 786.8h0M90.4 784.5h0M83.8 790.5h0M88.7 793.1h0M115.4 801.5h0M86.4 792.8h0M114.5 798.7h0M109.7 807.1h0M91.7 805.0h0M109.3 790.1h0M112.0 797.7h0M97.5 802.0h0M102.6 801.0h0M99.8 805.2h0M82.3 799.7h0M114.3 799.0h0M109.7 801.4h0M106.1 794.4h0M103.4 803.9h0M97.2 809.7h0M103.7 796.9h0M101.6 789.6h0M110.3 801.3h0M110.1 802.8h0M82.8 803.4h0M93.7 796.3h0M110.8 786.3h0M109.7 793.8h0M105.6 808.2h0M106.9 810.0h0M93.5 786.3h0M88.4 801.2h0M109.9 799.5h0M105.0 801.4h0M104.7 802.3h0M95.5 789.4h0M101.4 782.8h0M96.3 786.8h0M107.7 793.4h0M93.4 784.6h0M116.1 787.5h0M82.8 804.4h0M111.3 791.1h0M107.6 802.5h0M93.4 789.5h0M103.5 791.4h0M100.0 802.2h0M115.1 799.7h0M104.8 797.0h0M96.8 807.3h0M105.2 807.9h0M85.6 802.2h0M85.7 792.6h0M97.4 802.8h0M95.9 808.5h0M99.3 790.0h0M102.7 808.5h0M95.4 786.7h0M107.7 802.0h0M91.5 795.8h0M107.3 797.8h0M114.1 796.5h0M81.6 795.1h0M97.2 792.9h0M113.3 791.7h0M111.6 801.4h0M108.1 804.0h0M90.1 797.3h0M89.5 804.0h0M111.5 798.7h0M101.5 806.6h0M106.8 805.2h0M109.3 802.3h0M96.4 806.0h0M97.3 808.0h0M96.9 786.1h0M105.7 805.7h0M96.5 801.1h0M111.3 793.9h0M88.5 808.7h0M83.7 804.2h0M111.5 792.0h0M111.0 796.6h0M112.8 807.3h0M103.3 801.7h0M108.6 805.4h0M94.0 786.8h0M109.1 795.6h0M112.7 804.1h0M91.3 783.3h0M108.8 808.9h0M115.4 795.8h0M112.7 790.5h0M92.3 790.9h0M89.6 785.9h0M95.0 807.2h0M95.1 798.3h0M102.9 782.6h0M95.9 780.9h0M116.0 791.7h0M104.7 781.7h0M101.0 802.8h0M88.0 788.6h0M105.1 795.5h0M116.4 796.4h0M83.7 791.3h0M93.9 807.4h0M91.1 810.5h0M95.6 810.1h0M84.8 790.3h0M89.6 805.6h0M90.2 790.8h0M92.1 783.4h0M82.0 800.1h0M112.9 805.0h0M94.6 805.2h0M106.8 800.7h0M99.4 810.4h0M99.2 780.6h0M109.5 805.6h0M116.0 802.5h0M102.1 800.1h0M113.9 786.2h0M104.3 782.8h0M96.0 791.7h0M97.4 810.4h0M95.3 800.8h0M97.3 797.1h0M104.9 804.5h0M113.5 785.2h0M111.4 786.1h0M104.1 808.9h0M82.8 800.9h0M83.1 795.3h0M87.6 808.6h0M85.1 785.2h0M89.3 792.3h0M111.4 788.8h0M88.3 804.9h0M102.5 790.2h0M104.9 800.1h0M86.5 794.7h0M94.3 810.6h0M97.6 789.2h0M96.7 795.7h0M98.3 807.6h0M96.5 802.9h0M89.5 805.5h0M105.4 784.3h0M96.5 804.3h0M100.0 798.3h0M107.0 786.8h0M110.6 806.8h0M97.7 790.2h0M99.9 786.0h0M113.9 795.9h0M84.0 801.6h0M89.1 781.0h0M101.8 798.8h0M116.5 797.0h0M110.6 791.7h0M113.8 799.1h0M94.5 789.0h0M103.6 803.2h0M93.4 789.5h0M98.1 786.2h0M99.1 809.7h0M91.1 782.4h0M93.8 796.9h0M111.4 795.2h0M116.5 792.0h0M108.6 800.3h0M90.2 796.2h0M88.1 791.8h0M81.6 801.1h0M89.9 791.6h0M111.9 795.7h0M89.7 796.4h0M110.0 807.6h0M88.0 802.5h0M101.0 803.5h0M92.0 803.7h0M99.9 793.9h0M94.3 780.6h0M85.8 807.3h0M105.2 803.9h0" stroke="#fb9a99" stroke-width="1.2" stroke-linecap="round" fill="none"/>
<path d="M155.0 764.0L158.0 763.5L160.0 766.0L163.0 767.5L162.0 769.0L158.0 769.5L156.0 771.5L154.0 770.5L156.0 767.5Z" fill="#b2df8a" fill-opacity="0.6" filter="url(#bl)"/>
<path d="M156.7 764.8h0M158.6 767.3h0M160.8 769.1h0M158.2 766.8h0M159.1 770.0h0M161.4 766.9h0M157.9 766.6h0M157.7 763.4h0M157.7 769.4h0M156.7 764.6h0M157.9 765.7h0M156.9 765.0h0M160.6 768.4h0M157.9 766.0h0M162.0 768.2h0M155.3 769.3h0M155.3 769.7h0M158.5 765.1h0M159.6 766.1h0M158.8 767.9h0M160.3 768.0h0M160.6 766.3h0M155.9 768.7h0M155.8 769.3h0M157.1 769.2h0M156.9 766.8h0M159.4 769.0h0M156.3 764.6h0M159.7 766.9h0M159.7 765.7h0M157.5 764.6h0" stroke="#b2df8a" stroke-width="1.2" stroke-linecap="round" fill="none"/>
<path d="M169.5 767.5L172.0 766.5L175.5 767.5L174.5 770.0L171.0 770.0Z" fill="#b2df8a" fill-opacity="0.6" filter="url(#bl)"/>
<path d="M173.3 768.9h0M171.5 768.6h0M172.2 770.4h0M171.6 769.1h0M172.4 767.2h0M174.0 767.8h0M173.3 767.5h0M173.8 769.4h0M172.5 770.3h0M174.4 767.8h0M174.7 768.2h0M172.0 768.0h0M172.9 768.6h0" stroke="#b2df8a" stroke-width="1.2" stroke-linecap="round" fill="none"/>
<path d="M48.0 707.1h0M53.7 707.3h0M52.8 707.4h0M47.1 706.2h0M56.2 706.2h0M52.3 707.0h0M50.7 706.7h0M48.4 707.2h0" stroke="#a6cee3" stroke-width="1.3" stroke-linecap="round" fill="none"/>
<path d="M13.3 635.7h0" stroke="#b2df8a" stroke-width="1.0" stroke-linecap="round" fill="none"/>
<text x="76.3" y="50.4" font-size="9.1" text-anchor="start" fill="#000">Neutrophils</text>
<text x="80.4" y="67.7" font-size="9.1" text-anchor="start" fill="#000">Dendritic cells</text>
<text x="115.4" y="86.9" font-size="9.1" text-anchor="start" fill="#000">B cells</text>
<text x="174.7" y="85.8" font-size="9.1" text-anchor="start" fill="#000">CD3+ T cells</text>
<text x="65.4" y="117.2" font-size="9.1" text-anchor="start" fill="#000">Mono/Mac</text>
<text x="245.6" y="128.6" font-size="9.1" text-anchor="start" fill="#000">Deuterosomal cells</text>
<text x="306" y="143.2" font-size="9.1" text-anchor="start" fill="#000">Ciliated cells</text>
<text x="113.6" y="161.5" font-size="9.1" text-anchor="start" fill="#000">Secretory cells</text>
<text x="77.9" y="188" font-size="9.1" text-anchor="start" fill="#000">Basal cells</text>
<text x="112.4" y="204.5" font-size="9.1" text-anchor="start" fill="#000">Goblet cells</text>
<text x="140.6" y="267.3" font-size="9.1" text-anchor="start" fill="#000">Squamous cells</text>
<text x="108.8" y="297.1" font-size="9.1" text-anchor="start" fill="#000">Ionocytes</text>
<text x="119.9" y="635.6" font-size="10.9" text-anchor="start" fill="#000">CD8+ T cells</text>
<text x="151.8" y="652.7" font-size="10.9" text-anchor="start" fill="#000">NK T cells</text>
<text x="89.9" y="668.1" font-size="10.9" text-anchor="start" fill="#000">B cells</text>
<text x="103.8" y="700" font-size="10.9" text-anchor="start" fill="#000">Plasma B cells</text>
<text x="18.9" y="715.9" font-size="10.9" text-anchor="start" fill="#000">Mast cells</text>
<text x="102.6" y="720.4" font-size="10.9" text-anchor="start" fill="#000">DCs</text>
<text x="136.6" y="723.3" font-size="10.9" text-anchor="start" fill="#000">Mac</text>
<text x="140.6" y="777.7" font-size="10.9" text-anchor="start" fill="#000">Mono</text>
<text x="75.8" y="795.2" font-size="10.9" text-anchor="start" fill="#000">Neutrophils</text>
<text x="4" y="37.5" font-size="15" text-anchor="start" fill="#000" font-weight="bold">a.</text>
<text x="7" y="334" font-size="15" text-anchor="start" fill="#000" font-weight="bold">c.</text>
<text x="4.5" y="604.5" font-size="15" text-anchor="start" fill="#000" font-weight="bold">d.</text>
</svg></body></html>
